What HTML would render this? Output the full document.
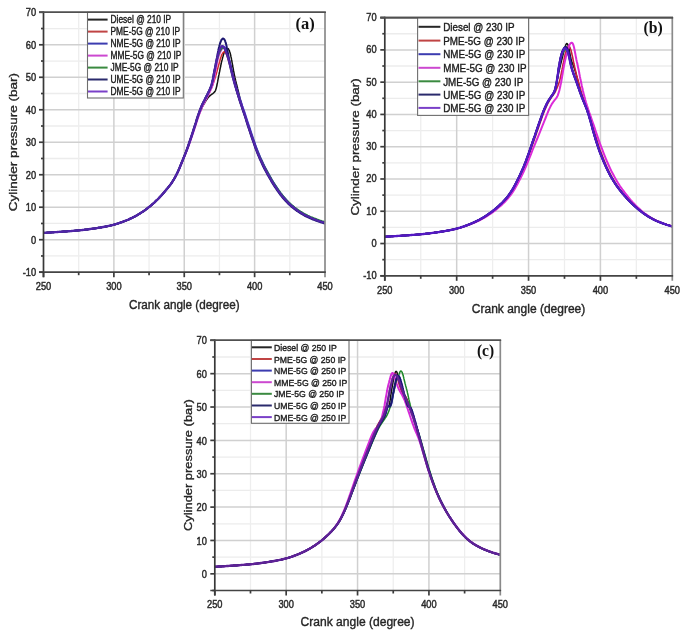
<!DOCTYPE html>
<html><head><meta charset="utf-8"><title>Cylinder pressure vs crank angle</title>
<style>
html,body{margin:0;padding:0;background:#fff;}
body{width:685px;height:634px;overflow:hidden;}
svg{display:block;font-family:"Liberation Sans", sans-serif;filter:blur(0.45px);}
.tk{fill:#2b2b2b;stroke:#2b2b2b;stroke-width:0.5px;}
.tt{fill:#262626;stroke:#262626;stroke-width:0.4px;}
.lg{fill:#1c1c1c;stroke:#1c1c1c;stroke-width:0.4px;}
</style></head>
<body>
<svg width="685" height="634" viewBox="0 0 685 634">
<rect width="685" height="634" fill="#fff"/>
<clipPath id="clipa"><rect x="43.5" y="12.3" width="281.5" height="259.9"/></clipPath>
<line x1="43.5" y1="255.96" x2="325" y2="255.96" stroke="#ececec" stroke-width="1.3"/>
<line x1="43.5" y1="223.47" x2="325" y2="223.47" stroke="#ececec" stroke-width="1.3"/>
<line x1="43.5" y1="190.98" x2="325" y2="190.98" stroke="#ececec" stroke-width="1.3"/>
<line x1="43.5" y1="158.49" x2="325" y2="158.49" stroke="#ececec" stroke-width="1.3"/>
<line x1="43.5" y1="126.01" x2="325" y2="126.01" stroke="#ececec" stroke-width="1.3"/>
<line x1="43.5" y1="93.52" x2="325" y2="93.52" stroke="#ececec" stroke-width="1.3"/>
<line x1="43.5" y1="61.03" x2="325" y2="61.03" stroke="#ececec" stroke-width="1.3"/>
<line x1="43.5" y1="28.54" x2="325" y2="28.54" stroke="#ececec" stroke-width="1.3"/>
<line x1="78.69" y1="12.3" x2="78.69" y2="272.2" stroke="#eeeeee" stroke-width="1.3"/>
<line x1="149.06" y1="12.3" x2="149.06" y2="272.2" stroke="#eeeeee" stroke-width="1.3"/>
<line x1="219.44" y1="12.3" x2="219.44" y2="272.2" stroke="#eeeeee" stroke-width="1.3"/>
<line x1="289.81" y1="12.3" x2="289.81" y2="272.2" stroke="#eeeeee" stroke-width="1.3"/>
<line x1="43.5" y1="239.71" x2="325" y2="239.71" stroke="#d0d0d0" stroke-width="1.5"/>
<line x1="43.5" y1="207.22" x2="325" y2="207.22" stroke="#d0d0d0" stroke-width="1.5"/>
<line x1="43.5" y1="174.74" x2="325" y2="174.74" stroke="#d0d0d0" stroke-width="1.5"/>
<line x1="43.5" y1="142.25" x2="325" y2="142.25" stroke="#d0d0d0" stroke-width="1.5"/>
<line x1="43.5" y1="109.76" x2="325" y2="109.76" stroke="#d0d0d0" stroke-width="1.5"/>
<line x1="43.5" y1="77.28" x2="325" y2="77.28" stroke="#d0d0d0" stroke-width="1.5"/>
<line x1="43.5" y1="44.79" x2="325" y2="44.79" stroke="#d0d0d0" stroke-width="1.5"/>
<line x1="113.88" y1="12.3" x2="113.88" y2="272.2" stroke="#d0d0d0" stroke-width="1.5"/>
<line x1="184.25" y1="12.3" x2="184.25" y2="272.2" stroke="#d0d0d0" stroke-width="1.5"/>
<line x1="254.62" y1="12.3" x2="254.62" y2="272.2" stroke="#d0d0d0" stroke-width="1.5"/>
<g clip-path="url(#clipa)" fill="none" stroke-linejoin="round" stroke-linecap="round">
<path d="M43.5 232.9 L44.6 232.8 L45.7 232.8 L46.8 232.7 L47.8 232.6 L48.9 232.6 L50.0 232.5 L51.1 232.4 L52.2 232.3 L53.3 232.3 L54.4 232.2 L55.5 232.1 L56.5 232.1 L57.6 232.0 L58.7 231.9 L59.8 231.8 L60.9 231.8 L62.0 231.7 L63.1 231.6 L64.2 231.5 L65.2 231.5 L66.3 231.4 L67.4 231.3 L68.5 231.2 L69.6 231.2 L70.7 231.1 L71.8 231.0 L72.8 230.9 L73.9 230.8 L75.0 230.7 L76.1 230.6 L77.2 230.5 L78.3 230.4 L79.4 230.3 L80.5 230.2 L81.5 230.1 L82.6 230.0 L83.7 229.9 L84.8 229.7 L85.9 229.6 L87.0 229.5 L88.1 229.3 L89.1 229.2 L90.2 229.0 L91.3 228.9 L92.4 228.7 L93.5 228.6 L94.6 228.4 L95.7 228.3 L96.8 228.1 L97.8 227.9 L98.9 227.7 L100.0 227.6 L101.1 227.4 L102.2 227.2 L103.3 227.0 L104.4 226.8 L105.5 226.6 L106.5 226.4 L107.6 226.2 L108.7 225.9 L109.8 225.7 L110.9 225.4 L112.0 225.2 L113.1 224.9 L114.1 224.6 L115.2 224.3 L116.3 224.0 L117.4 223.6 L118.5 223.3 L119.6 222.9 L120.7 222.5 L121.8 222.2 L122.8 221.8 L123.9 221.3 L125.0 220.9 L126.1 220.5 L127.2 220.0 L128.3 219.6 L129.4 219.1 L130.4 218.6 L131.5 218.1 L132.6 217.6 L133.7 217.0 L134.8 216.5 L135.9 215.9 L137.0 215.3 L138.1 214.6 L139.1 214.0 L140.2 213.3 L141.3 212.6 L142.4 211.9 L143.5 211.2 L144.6 210.4 L145.7 209.6 L146.8 208.8 L147.8 208.0 L148.9 207.1 L150.0 206.3 L151.1 205.4 L152.2 204.4 L153.3 203.5 L154.4 202.5 L155.4 201.5 L156.5 200.4 L157.6 199.4 L158.7 198.3 L159.8 197.1 L160.9 196.0 L162.0 194.8 L163.1 193.5 L164.1 192.3 L165.2 191.0 L166.3 189.7 L167.4 188.4 L168.5 187.0 L169.6 185.6 L170.7 184.2 L171.8 182.7 L172.8 181.0 L173.9 179.3 L175.0 177.4 L176.1 175.3 L177.2 173.1 L178.3 170.7 L179.4 168.2 L180.4 165.7 L181.5 163.0 L182.6 160.3 L183.7 157.6 L184.8 154.9 L185.9 152.1 L187.0 149.3 L188.1 146.3 L189.1 143.4 L190.2 140.3 L191.3 137.2 L192.4 134.0 L193.5 130.8 L194.6 127.6 L195.7 124.4 L196.7 121.2 L197.8 118.1 L198.9 115.1 L200.0 112.3 L201.1 109.7 L201.1 109.6 L201.5 108.8 L201.8 108.1 L202.2 107.4 L202.2 107.3 L202.5 106.6 L202.9 105.9 L203.3 105.3 L203.3 105.2 L203.6 104.6 L204.0 104.0 L204.3 103.4 L204.4 103.3 L204.7 102.8 L205.0 102.2 L205.4 101.6 L205.4 101.5 L205.7 101.1 L206.1 100.5 L206.4 100.0 L206.5 99.8 L206.8 99.5 L207.1 99.0 L207.5 98.5 L207.6 98.3 L207.8 98.0 L208.2 97.5 L208.5 97.1 L208.7 96.9 L208.9 96.7 L209.2 96.4 L209.6 96.0 L209.8 95.9 L209.9 95.7 L210.3 95.5 L210.6 95.2 L210.9 95.0 L211.0 94.9 L211.3 94.7 L211.7 94.4 L212.0 94.2 L212.0 94.1 L212.4 93.8 L212.8 93.6 L213.1 93.3 L213.1 93.3 L213.5 93.0 L213.8 92.7 L214.1 92.4 L214.2 92.4 L214.5 92.0 L214.9 91.6 L215.2 91.0 L215.2 91.0 L215.6 90.3 L215.9 89.3 L216.3 88.1 L216.3 87.9 L216.6 86.7 L217.0 85.0 L217.3 83.2 L217.4 82.9 L217.7 81.4 L218.0 79.6 L218.4 77.7 L218.5 77.2 L218.7 75.9 L219.1 74.2 L219.4 72.4 L219.6 71.7 L219.8 70.6 L220.1 68.9 L220.5 67.1 L220.7 66.3 L220.8 65.4 L221.2 63.8 L221.5 62.2 L221.7 61.3 L221.9 60.6 L222.3 59.2 L222.6 57.8 L222.8 57.0 L223.0 56.5 L223.3 55.3 L223.7 54.1 L223.9 53.3 L224.0 53.0 L224.4 52.1 L224.7 51.2 L225.0 50.7 L225.1 50.5 L225.4 50.0 L225.8 49.5 L226.1 49.1 L226.1 49.1 L226.5 48.8 L226.8 48.5 L227.2 48.4 L227.2 48.4 L227.5 48.4 L227.9 48.5 L228.2 48.8 L228.3 48.8 L228.6 49.2 L228.9 49.9 L229.3 50.6 L229.4 50.8 L229.6 51.5 L230.0 52.6 L230.3 53.8 L230.4 54.2 L230.7 55.3 L231.0 56.9 L231.4 58.7 L231.5 59.4 L231.8 60.7 L232.1 62.6 L232.5 64.6 L232.6 65.5 L232.8 66.6 L233.2 68.5 L233.5 70.4 L233.7 71.4 L233.9 72.3 L234.2 74.1 L234.6 75.8 L234.8 76.8 L234.9 77.4 L235.3 79.0 L235.6 80.5 L235.9 81.6 L236.0 82.0 L236.3 83.4 L236.7 84.8 L237.0 85.9 L237.0 86.2 L237.4 87.5 L237.7 88.9 L238.1 90.2 L238.1 90.3 L238.4 91.8 L238.8 93.2 L239.1 94.6 L239.1 94.6 L239.5 96.1 L239.8 97.5 L240.2 98.9 L240.2 99.0 L240.5 100.3 L240.9 101.7 L241.3 103.0 L241.3 103.3 L241.6 104.4 L242.0 105.7 L242.3 106.9 L242.4 107.2 L242.7 108.1 L243.0 109.4 L243.5 110.9 L244.6 114.4 L245.7 117.8 L246.7 121.1 L247.8 124.5 L248.9 127.8 L250.0 131.2 L251.1 134.4 L252.2 137.7 L253.3 140.9 L254.4 143.9 L255.4 146.9 L256.5 149.8 L257.6 152.6 L258.7 155.2 L259.8 157.8 L260.9 160.2 L262.0 162.6 L263.0 164.8 L264.1 167.0 L265.2 169.1 L266.3 171.2 L267.4 173.2 L268.5 175.2 L269.6 177.1 L270.7 179.0 L271.7 180.8 L272.8 182.6 L273.9 184.4 L275.0 186.1 L276.1 187.7 L277.2 189.3 L278.3 190.9 L279.4 192.4 L280.4 193.8 L281.5 195.2 L282.6 196.6 L283.7 197.9 L284.8 199.1 L285.9 200.3 L287.0 201.5 L288.0 202.6 L289.1 203.6 L290.2 204.6 L291.3 205.6 L292.4 206.5 L293.5 207.4 L294.6 208.3 L295.7 209.1 L296.7 209.9 L297.8 210.7 L298.9 211.4 L300.0 212.1 L301.1 212.8 L302.2 213.4 L303.3 214.1 L304.3 214.7 L305.4 215.2 L306.5 215.8 L307.6 216.3 L308.7 216.8 L309.8 217.3 L310.9 217.8 L312.0 218.3 L313.0 218.7 L314.1 219.2 L315.2 219.6 L316.3 220.0 L317.4 220.4 L318.5 220.8 L319.6 221.1 L320.7 221.5 L321.7 221.8 L322.8 222.2 L323.9 222.5 L325.0 222.8" stroke="#111111" stroke-width="1.5"/>
<path d="M43.5 232.9 L44.6 232.8 L45.7 232.8 L46.8 232.7 L47.8 232.6 L48.9 232.6 L50.0 232.5 L51.1 232.4 L52.2 232.3 L53.3 232.3 L54.4 232.2 L55.5 232.1 L56.5 232.1 L57.6 232.0 L58.7 231.9 L59.8 231.8 L60.9 231.8 L62.0 231.7 L63.1 231.6 L64.2 231.5 L65.2 231.5 L66.3 231.4 L67.4 231.3 L68.5 231.2 L69.6 231.2 L70.7 231.1 L71.8 231.0 L72.8 230.9 L73.9 230.8 L75.0 230.7 L76.1 230.6 L77.2 230.5 L78.3 230.4 L79.4 230.3 L80.5 230.2 L81.5 230.1 L82.6 230.0 L83.7 229.9 L84.8 229.7 L85.9 229.6 L87.0 229.5 L88.1 229.3 L89.1 229.2 L90.2 229.0 L91.3 228.9 L92.4 228.7 L93.5 228.6 L94.6 228.4 L95.7 228.3 L96.8 228.1 L97.8 227.9 L98.9 227.7 L100.0 227.6 L101.1 227.4 L102.2 227.2 L103.3 227.0 L104.4 226.8 L105.5 226.6 L106.5 226.4 L107.6 226.2 L108.7 225.9 L109.8 225.7 L110.9 225.4 L112.0 225.2 L113.1 224.9 L114.1 224.6 L115.2 224.3 L116.3 224.0 L117.4 223.6 L118.5 223.3 L119.6 222.9 L120.7 222.5 L121.8 222.2 L122.8 221.8 L123.9 221.3 L125.0 220.9 L126.1 220.5 L127.2 220.0 L128.3 219.6 L129.4 219.1 L130.4 218.6 L131.5 218.1 L132.6 217.6 L133.7 217.0 L134.8 216.5 L135.9 215.9 L137.0 215.3 L138.1 214.6 L139.1 214.0 L140.2 213.3 L141.3 212.6 L142.4 211.9 L143.5 211.2 L144.6 210.4 L145.7 209.6 L146.8 208.8 L147.8 208.0 L148.9 207.1 L150.0 206.3 L151.1 205.4 L152.2 204.4 L153.3 203.5 L154.4 202.5 L155.4 201.5 L156.5 200.4 L157.6 199.4 L158.7 198.3 L159.8 197.1 L160.9 196.0 L162.0 194.8 L163.1 193.5 L164.1 192.3 L165.2 191.0 L166.3 189.7 L167.4 188.4 L168.5 187.0 L169.6 185.6 L170.7 184.2 L171.8 182.7 L172.8 181.0 L173.9 179.3 L175.0 177.4 L176.1 175.3 L177.2 173.1 L178.3 170.7 L179.4 168.2 L180.4 165.7 L181.5 163.0 L182.6 160.4 L183.7 157.6 L184.8 154.9 L185.9 152.1 L187.0 149.2 L188.1 146.2 L189.1 143.1 L190.2 139.9 L191.3 136.7 L192.4 133.3 L193.5 129.9 L194.6 126.6 L195.7 123.2 L196.7 119.9 L197.8 116.6 L198.9 113.6 L200.0 110.7 L201.1 108.1 L201.1 108.0 L201.5 107.2 L201.8 106.5 L202.2 105.8 L202.2 105.7 L202.5 105.0 L202.9 104.3 L203.3 103.7 L203.3 103.6 L203.6 103.0 L204.0 102.4 L204.3 101.7 L204.4 101.6 L204.7 101.1 L205.0 100.5 L205.4 99.8 L205.4 99.7 L205.7 99.2 L206.1 98.6 L206.4 98.0 L206.5 97.8 L206.8 97.4 L207.1 96.7 L207.5 96.1 L207.6 95.9 L207.8 95.5 L208.2 94.8 L208.5 94.2 L208.7 93.8 L208.9 93.5 L209.2 92.8 L209.6 92.1 L209.8 91.7 L209.9 91.4 L210.3 90.6 L210.6 89.8 L210.9 89.3 L211.0 89.1 L211.3 88.2 L211.7 87.4 L212.0 86.8 L212.0 86.5 L212.4 85.7 L212.8 84.7 L213.1 83.9 L213.1 83.8 L213.5 82.8 L213.8 81.8 L214.1 80.8 L214.2 80.8 L214.5 79.7 L214.9 78.6 L215.2 77.5 L215.2 77.4 L215.6 76.3 L215.9 75.1 L216.3 73.9 L216.3 73.8 L216.6 72.7 L217.0 71.4 L217.3 70.1 L217.4 69.8 L217.7 68.8 L218.0 67.4 L218.4 66.1 L218.5 65.8 L218.7 64.9 L219.1 63.6 L219.4 62.3 L219.6 61.8 L219.8 61.1 L220.1 59.8 L220.5 58.6 L220.7 58.0 L220.8 57.4 L221.2 56.3 L221.5 55.4 L221.7 54.9 L221.9 54.5 L222.3 53.8 L222.6 53.2 L222.8 52.9 L223.0 52.8 L223.3 52.4 L223.7 52.1 L223.9 52.0 L224.0 52.0 L224.4 51.9 L224.7 52.0 L225.0 52.2 L225.1 52.3 L225.4 52.7 L225.8 53.2 L226.1 53.7 L226.1 53.7 L226.5 54.4 L226.8 55.3 L227.2 56.2 L227.2 56.2 L227.5 57.2 L227.9 58.4 L228.2 59.6 L228.3 59.7 L228.6 60.8 L228.9 62.0 L229.3 63.2 L229.4 63.4 L229.6 64.3 L230.0 65.4 L230.3 66.5 L230.4 66.8 L230.7 67.6 L231.0 68.6 L231.4 69.6 L231.5 70.0 L231.8 70.7 L232.1 71.8 L232.5 72.9 L232.6 73.4 L232.8 74.0 L233.2 75.2 L233.5 76.4 L233.7 77.1 L233.9 77.7 L234.2 79.1 L234.6 80.5 L234.8 81.4 L234.9 82.0 L235.3 83.5 L235.6 85.1 L235.9 86.2 L236.0 86.7 L236.3 88.2 L236.7 89.7 L237.0 90.8 L237.0 91.1 L237.4 92.4 L237.7 93.7 L238.1 94.8 L238.1 95.0 L238.4 96.1 L238.8 97.3 L239.1 98.4 L239.1 98.4 L239.5 99.5 L239.8 100.6 L240.2 101.7 L240.2 101.7 L240.5 102.7 L240.9 103.8 L241.3 104.8 L241.3 105.0 L241.6 105.8 L242.0 106.9 L242.3 107.9 L242.4 108.2 L242.7 109.0 L243.0 110.0 L243.5 111.4 L244.6 114.6 L245.7 117.8 L246.7 121.1 L247.8 124.4 L248.9 127.8 L250.0 131.1 L251.1 134.4 L252.2 137.7 L253.3 140.8 L254.4 143.9 L255.4 146.9 L256.5 149.8 L257.6 152.6 L258.7 155.2 L259.8 157.8 L260.9 160.2 L262.0 162.6 L263.0 164.8 L264.1 167.0 L265.2 169.1 L266.3 171.2 L267.4 173.2 L268.5 175.2 L269.6 177.1 L270.7 179.0 L271.7 180.8 L272.8 182.6 L273.9 184.4 L275.0 186.1 L276.1 187.7 L277.2 189.3 L278.3 190.9 L279.4 192.4 L280.4 193.8 L281.5 195.2 L282.6 196.6 L283.7 197.9 L284.8 199.1 L285.9 200.3 L287.0 201.5 L288.0 202.6 L289.1 203.6 L290.2 204.6 L291.3 205.6 L292.4 206.5 L293.5 207.4 L294.6 208.3 L295.7 209.1 L296.7 209.9 L297.8 210.7 L298.9 211.4 L300.0 212.1 L301.1 212.8 L302.2 213.4 L303.3 214.1 L304.3 214.7 L305.4 215.2 L306.5 215.8 L307.6 216.3 L308.7 216.8 L309.8 217.3 L310.9 217.8 L312.0 218.3 L313.0 218.7 L314.1 219.2 L315.2 219.6 L316.3 220.0 L317.4 220.4 L318.5 220.8 L319.6 221.1 L320.7 221.5 L321.7 221.8 L322.8 222.2 L323.9 222.5 L325.0 222.8" stroke="#d42a2a" stroke-width="1.5"/>
<path d="M43.5 232.9 L44.6 232.8 L45.7 232.8 L46.8 232.7 L47.8 232.6 L48.9 232.6 L50.0 232.5 L51.1 232.4 L52.2 232.3 L53.3 232.3 L54.4 232.2 L55.5 232.1 L56.5 232.1 L57.6 232.0 L58.7 231.9 L59.8 231.8 L60.9 231.8 L62.0 231.7 L63.1 231.6 L64.2 231.5 L65.2 231.5 L66.3 231.4 L67.4 231.3 L68.5 231.2 L69.6 231.2 L70.7 231.1 L71.8 231.0 L72.8 230.9 L73.9 230.8 L75.0 230.7 L76.1 230.6 L77.2 230.5 L78.3 230.4 L79.4 230.3 L80.5 230.2 L81.5 230.1 L82.6 230.0 L83.7 229.9 L84.8 229.7 L85.9 229.6 L87.0 229.5 L88.1 229.3 L89.1 229.2 L90.2 229.0 L91.3 228.9 L92.4 228.7 L93.5 228.6 L94.6 228.4 L95.7 228.3 L96.8 228.1 L97.8 227.9 L98.9 227.7 L100.0 227.6 L101.1 227.4 L102.2 227.2 L103.3 227.0 L104.4 226.8 L105.5 226.6 L106.5 226.4 L107.6 226.2 L108.7 225.9 L109.8 225.7 L110.9 225.4 L112.0 225.2 L113.1 224.9 L114.1 224.6 L115.2 224.3 L116.3 224.0 L117.4 223.6 L118.5 223.3 L119.6 222.9 L120.7 222.5 L121.8 222.2 L122.8 221.8 L123.9 221.3 L125.0 220.9 L126.1 220.5 L127.2 220.0 L128.3 219.6 L129.4 219.1 L130.4 218.6 L131.5 218.1 L132.6 217.6 L133.7 217.0 L134.8 216.5 L135.9 215.9 L137.0 215.3 L138.1 214.6 L139.1 214.0 L140.2 213.3 L141.3 212.6 L142.4 211.9 L143.5 211.2 L144.6 210.4 L145.7 209.6 L146.8 208.8 L147.8 208.0 L148.9 207.1 L150.0 206.3 L151.1 205.4 L152.2 204.4 L153.3 203.5 L154.4 202.5 L155.4 201.5 L156.5 200.4 L157.6 199.4 L158.7 198.3 L159.8 197.1 L160.9 196.0 L162.0 194.8 L163.1 193.5 L164.1 192.3 L165.2 191.0 L166.3 189.7 L167.4 188.4 L168.5 187.1 L169.6 185.7 L170.7 184.2 L171.8 182.7 L172.8 181.1 L173.9 179.4 L175.0 177.5 L176.1 175.5 L177.2 173.3 L178.3 171.0 L179.4 168.6 L180.4 166.0 L181.5 163.4 L182.6 160.8 L183.7 158.1 L184.8 155.4 L185.9 152.7 L187.0 149.9 L188.1 146.9 L189.1 143.9 L190.2 140.8 L191.3 137.6 L192.4 134.3 L193.5 130.9 L194.6 127.5 L195.7 124.1 L196.7 120.7 L197.8 117.4 L198.9 114.2 L200.0 111.1 L201.1 108.3 L201.1 108.2 L201.5 107.3 L201.8 106.5 L202.2 105.7 L202.2 105.7 L202.5 104.9 L202.9 104.2 L203.3 103.4 L203.3 103.4 L203.6 102.7 L204.0 102.0 L204.3 101.3 L204.4 101.2 L204.7 100.6 L205.0 99.9 L205.4 99.3 L205.4 99.1 L205.7 98.6 L206.1 97.9 L206.4 97.2 L206.5 97.0 L206.8 96.5 L207.1 95.8 L207.5 95.1 L207.6 94.9 L207.8 94.4 L208.2 93.7 L208.5 93.0 L208.7 92.7 L208.9 92.3 L209.2 91.6 L209.6 90.9 L209.8 90.4 L209.9 90.1 L210.3 89.4 L210.6 88.6 L210.9 88.1 L211.0 87.8 L211.3 86.9 L211.7 85.9 L212.0 85.1 L212.0 84.8 L212.4 83.6 L212.8 82.2 L213.1 80.9 L213.1 80.6 L213.5 79.0 L213.8 77.2 L214.1 75.5 L214.2 75.4 L214.5 73.6 L214.9 71.7 L215.2 69.8 L215.2 69.8 L215.6 68.0 L215.9 66.1 L216.3 64.3 L216.3 64.1 L216.6 62.6 L217.0 60.9 L217.3 59.4 L217.4 59.1 L217.7 58.0 L218.0 56.6 L218.4 55.3 L218.5 55.0 L218.7 54.1 L219.1 53.0 L219.4 52.0 L219.6 51.6 L219.8 51.1 L220.1 50.3 L220.5 49.6 L220.7 49.4 L220.8 49.1 L221.2 48.6 L221.5 48.1 L221.7 47.9 L221.9 47.7 L222.3 47.4 L222.6 47.1 L222.8 46.9 L223.0 46.8 L223.3 46.7 L223.7 46.7 L223.9 46.7 L224.0 46.8 L224.4 47.0 L224.7 47.4 L225.0 47.8 L225.1 47.9 L225.4 48.5 L225.8 49.2 L226.1 49.9 L226.1 50.0 L226.5 50.9 L226.8 51.9 L227.2 52.9 L227.2 52.9 L227.5 54.1 L227.9 55.3 L228.2 56.5 L228.3 56.7 L228.6 57.8 L228.9 58.9 L229.3 60.1 L229.4 60.3 L229.6 61.3 L230.0 62.5 L230.3 63.8 L230.4 64.2 L230.7 65.2 L231.0 66.7 L231.4 68.3 L231.5 68.8 L231.8 69.8 L232.1 71.4 L232.5 73.0 L232.6 73.7 L232.8 74.5 L233.2 75.9 L233.5 77.3 L233.7 78.1 L233.9 78.7 L234.2 80.0 L234.6 81.3 L234.8 82.0 L234.9 82.5 L235.3 83.7 L235.6 84.9 L235.9 85.7 L236.0 86.1 L236.3 87.2 L236.7 88.4 L237.0 89.3 L237.0 89.5 L237.4 90.6 L237.7 91.8 L238.1 92.8 L238.1 92.9 L238.4 94.0 L238.8 95.1 L239.1 96.2 L239.1 96.2 L239.5 97.3 L239.8 98.3 L240.2 99.4 L240.2 99.5 L240.5 100.5 L240.9 101.5 L241.3 102.6 L241.3 102.8 L241.6 103.6 L242.0 104.7 L242.3 105.7 L242.4 106.0 L242.7 106.8 L243.0 107.8 L243.5 109.2 L244.6 112.4 L245.7 115.7 L246.7 118.9 L247.8 122.2 L248.9 125.6 L250.0 128.9 L251.1 132.2 L252.2 135.5 L253.3 138.7 L254.4 141.8 L255.4 144.9 L256.5 147.8 L257.6 150.7 L258.7 153.4 L259.8 156.0 L260.9 158.5 L262.0 160.9 L263.0 163.2 L264.1 165.5 L265.2 167.6 L266.3 169.7 L267.4 171.7 L268.5 173.7 L269.6 175.7 L270.7 177.6 L271.7 179.5 L272.8 181.3 L273.9 183.1 L275.0 184.8 L276.1 186.5 L277.2 188.1 L278.3 189.7 L279.4 191.2 L280.4 192.7 L281.5 194.1 L282.6 195.5 L283.7 196.9 L284.8 198.1 L285.9 199.4 L287.0 200.6 L288.0 201.7 L289.1 202.8 L290.2 203.9 L291.3 204.9 L292.4 205.8 L293.5 206.7 L294.6 207.6 L295.7 208.5 L296.7 209.3 L297.8 210.1 L298.9 210.8 L300.0 211.6 L301.1 212.3 L302.2 212.9 L303.3 213.6 L304.3 214.2 L305.4 214.8 L306.5 215.4 L307.6 215.9 L308.7 216.4 L309.8 217.0 L310.9 217.5 L312.0 217.9 L313.0 218.4 L314.1 218.8 L315.2 219.3 L316.3 219.7 L317.4 220.1 L318.5 220.5 L319.6 220.8 L320.7 221.2 L321.7 221.6 L322.8 221.9 L323.9 222.2 L325.0 222.6" stroke="#2a2ae0" stroke-width="1.8"/>
<path d="M43.5 232.9 L44.6 232.8 L45.7 232.8 L46.8 232.7 L47.8 232.6 L48.9 232.6 L50.0 232.5 L51.1 232.4 L52.2 232.3 L53.3 232.3 L54.4 232.2 L55.5 232.1 L56.5 232.1 L57.6 232.0 L58.7 231.9 L59.8 231.8 L60.9 231.8 L62.0 231.7 L63.1 231.6 L64.2 231.5 L65.2 231.5 L66.3 231.4 L67.4 231.3 L68.5 231.2 L69.6 231.2 L70.7 231.1 L71.8 231.0 L72.8 230.9 L73.9 230.8 L75.0 230.7 L76.1 230.6 L77.2 230.5 L78.3 230.4 L79.4 230.3 L80.5 230.2 L81.5 230.1 L82.6 230.0 L83.7 229.9 L84.8 229.7 L85.9 229.6 L87.0 229.5 L88.1 229.3 L89.1 229.2 L90.2 229.0 L91.3 228.9 L92.4 228.7 L93.5 228.6 L94.6 228.4 L95.7 228.3 L96.8 228.1 L97.8 227.9 L98.9 227.7 L100.0 227.6 L101.1 227.4 L102.2 227.2 L103.3 227.0 L104.4 226.8 L105.5 226.6 L106.5 226.4 L107.6 226.2 L108.7 225.9 L109.8 225.7 L110.9 225.4 L112.0 225.2 L113.1 224.9 L114.1 224.6 L115.2 224.3 L116.3 224.0 L117.4 223.6 L118.5 223.3 L119.6 222.9 L120.7 222.5 L121.8 222.2 L122.8 221.8 L123.9 221.3 L125.0 220.9 L126.1 220.5 L127.2 220.0 L128.3 219.6 L129.4 219.1 L130.4 218.6 L131.5 218.1 L132.6 217.6 L133.7 217.0 L134.8 216.5 L135.9 215.9 L137.0 215.3 L138.1 214.6 L139.1 214.0 L140.2 213.3 L141.3 212.6 L142.4 211.9 L143.5 211.2 L144.6 210.4 L145.7 209.6 L146.8 208.8 L147.8 208.0 L148.9 207.1 L150.0 206.3 L151.1 205.4 L152.2 204.4 L153.3 203.5 L154.4 202.5 L155.4 201.5 L156.5 200.4 L157.6 199.4 L158.7 198.3 L159.8 197.1 L160.9 196.0 L162.0 194.8 L163.1 193.5 L164.1 192.3 L165.2 191.0 L166.3 189.7 L167.4 188.4 L168.5 187.1 L169.6 185.7 L170.7 184.3 L171.8 182.8 L172.8 181.2 L173.9 179.5 L175.0 177.6 L176.1 175.7 L177.2 173.5 L178.3 171.2 L179.4 168.8 L180.4 166.3 L181.5 163.8 L182.6 161.2 L183.7 158.5 L184.8 155.9 L185.9 153.2 L187.0 150.4 L188.1 147.5 L189.1 144.6 L190.2 141.6 L191.3 138.4 L192.4 135.2 L193.5 131.9 L194.6 128.6 L195.7 125.3 L196.7 122.0 L197.8 118.7 L198.9 115.5 L200.0 112.5 L201.1 109.7 L201.1 109.5 L201.5 108.7 L201.8 107.9 L202.2 107.1 L202.2 107.0 L202.5 106.3 L202.9 105.5 L203.3 104.8 L203.3 104.7 L203.6 104.1 L204.0 103.4 L204.3 102.7 L204.4 102.6 L204.7 102.0 L205.0 101.3 L205.4 100.7 L205.4 100.5 L205.7 100.0 L206.1 99.3 L206.4 98.7 L206.5 98.5 L206.8 98.0 L207.1 97.3 L207.5 96.6 L207.6 96.3 L207.8 95.9 L208.2 95.2 L208.5 94.5 L208.7 94.2 L208.9 93.8 L209.2 93.1 L209.6 92.4 L209.8 92.0 L209.9 91.6 L210.3 90.9 L210.6 90.2 L210.9 89.6 L211.0 89.4 L211.3 88.6 L211.7 87.8 L212.0 87.1 L212.0 86.8 L212.4 85.8 L212.8 84.7 L213.1 83.6 L213.1 83.4 L213.5 81.9 L213.8 80.3 L214.1 78.7 L214.2 78.6 L214.5 76.8 L214.9 75.0 L215.2 73.1 L215.2 73.0 L215.6 71.2 L215.9 69.3 L216.3 67.3 L216.3 67.1 L216.6 65.4 L217.0 63.5 L217.3 61.7 L217.4 61.4 L217.7 60.1 L218.0 58.6 L218.4 57.2 L218.5 56.9 L218.7 56.1 L219.1 55.1 L219.4 54.2 L219.6 53.9 L219.8 53.4 L220.1 52.6 L220.5 51.9 L220.7 51.5 L220.8 51.1 L221.2 50.4 L221.5 49.7 L221.7 49.4 L221.9 49.1 L222.3 48.6 L222.6 48.2 L222.8 48.0 L223.0 47.9 L223.3 47.7 L223.7 47.8 L223.9 47.9 L224.0 48.0 L224.4 48.3 L224.7 48.7 L225.0 49.1 L225.1 49.2 L225.4 49.9 L225.8 50.6 L226.1 51.3 L226.1 51.4 L226.5 52.3 L226.8 53.3 L227.2 54.3 L227.2 54.3 L227.5 55.4 L227.9 56.5 L228.2 57.6 L228.3 57.7 L228.6 58.8 L228.9 60.0 L229.3 61.3 L229.4 61.5 L229.6 62.6 L230.0 64.1 L230.3 65.6 L230.4 66.0 L230.7 67.1 L231.0 68.7 L231.4 70.2 L231.5 70.8 L231.8 71.8 L232.1 73.3 L232.5 74.8 L232.6 75.5 L232.8 76.3 L233.2 77.7 L233.5 79.0 L233.7 79.7 L233.9 80.3 L234.2 81.6 L234.6 82.9 L234.8 83.6 L234.9 84.1 L235.3 85.3 L235.6 86.5 L235.9 87.3 L236.0 87.7 L236.3 88.8 L236.7 90.0 L237.0 90.9 L237.0 91.1 L237.4 92.3 L237.7 93.4 L238.1 94.4 L238.1 94.5 L238.4 95.6 L238.8 96.7 L239.1 97.8 L239.1 97.8 L239.5 98.9 L239.8 100.0 L240.2 101.1 L240.2 101.2 L240.5 102.1 L240.9 103.2 L241.3 104.3 L241.3 104.5 L241.6 105.4 L242.0 106.4 L242.3 107.5 L242.4 107.7 L242.7 108.5 L243.0 109.6 L243.5 111.0 L244.6 114.3 L245.7 117.5 L246.7 120.9 L247.8 124.2 L248.9 127.6 L250.0 131.0 L251.1 134.3 L252.2 137.6 L253.3 140.8 L254.4 143.9 L255.4 146.9 L256.5 149.8 L257.6 152.6 L258.7 155.2 L259.8 157.8 L260.9 160.2 L262.0 162.6 L263.0 164.8 L264.1 167.0 L265.2 169.1 L266.3 171.2 L267.4 173.2 L268.5 175.2 L269.6 177.1 L270.7 179.0 L271.7 180.8 L272.8 182.6 L273.9 184.4 L275.0 186.1 L276.1 187.7 L277.2 189.3 L278.3 190.9 L279.4 192.4 L280.4 193.8 L281.5 195.2 L282.6 196.6 L283.7 197.9 L284.8 199.1 L285.9 200.3 L287.0 201.5 L288.0 202.6 L289.1 203.6 L290.2 204.6 L291.3 205.6 L292.4 206.5 L293.5 207.4 L294.6 208.3 L295.7 209.1 L296.7 209.9 L297.8 210.7 L298.9 211.4 L300.0 212.1 L301.1 212.8 L302.2 213.4 L303.3 214.1 L304.3 214.7 L305.4 215.2 L306.5 215.8 L307.6 216.3 L308.7 216.8 L309.8 217.3 L310.9 217.8 L312.0 218.3 L313.0 218.7 L314.1 219.2 L315.2 219.6 L316.3 220.0 L317.4 220.4 L318.5 220.8 L319.6 221.1 L320.7 221.5 L321.7 221.8 L322.8 222.2 L323.9 222.5 L325.0 222.8" stroke="#e040d8" stroke-width="1.8"/>
<path d="M43.5 232.9 L44.6 232.8 L45.7 232.8 L46.8 232.7 L47.8 232.6 L48.9 232.6 L50.0 232.5 L51.1 232.4 L52.2 232.3 L53.3 232.3 L54.4 232.2 L55.5 232.1 L56.5 232.1 L57.6 232.0 L58.7 231.9 L59.8 231.8 L60.9 231.8 L62.0 231.7 L63.1 231.6 L64.2 231.5 L65.2 231.5 L66.3 231.4 L67.4 231.3 L68.5 231.2 L69.6 231.2 L70.7 231.1 L71.8 231.0 L72.8 230.9 L73.9 230.8 L75.0 230.7 L76.1 230.6 L77.2 230.5 L78.3 230.4 L79.4 230.3 L80.5 230.2 L81.5 230.1 L82.6 230.0 L83.7 229.9 L84.8 229.7 L85.9 229.6 L87.0 229.5 L88.1 229.3 L89.1 229.2 L90.2 229.0 L91.3 228.9 L92.4 228.7 L93.5 228.6 L94.6 228.4 L95.7 228.3 L96.8 228.1 L97.8 227.9 L98.9 227.7 L100.0 227.6 L101.1 227.4 L102.2 227.2 L103.3 227.0 L104.4 226.8 L105.5 226.6 L106.5 226.4 L107.6 226.2 L108.7 225.9 L109.8 225.7 L110.9 225.4 L112.0 225.2 L113.1 224.9 L114.1 224.6 L115.2 224.3 L116.3 224.0 L117.4 223.6 L118.5 223.3 L119.6 222.9 L120.7 222.5 L121.8 222.2 L122.8 221.8 L123.9 221.3 L125.0 220.9 L126.1 220.5 L127.2 220.0 L128.3 219.6 L129.4 219.1 L130.4 218.6 L131.5 218.1 L132.6 217.6 L133.7 217.0 L134.8 216.5 L135.9 215.9 L137.0 215.3 L138.1 214.6 L139.1 214.0 L140.2 213.3 L141.3 212.6 L142.4 211.9 L143.5 211.2 L144.6 210.4 L145.7 209.6 L146.8 208.8 L147.8 208.0 L148.9 207.1 L150.0 206.3 L151.1 205.4 L152.2 204.4 L153.3 203.5 L154.4 202.5 L155.4 201.5 L156.5 200.4 L157.6 199.4 L158.7 198.3 L159.8 197.1 L160.9 196.0 L162.0 194.8 L163.1 193.5 L164.1 192.3 L165.2 191.0 L166.3 189.7 L167.4 188.4 L168.5 187.0 L169.6 185.6 L170.7 184.2 L171.8 182.7 L172.8 181.0 L173.9 179.3 L175.0 177.4 L176.1 175.3 L177.2 173.1 L178.3 170.7 L179.4 168.2 L180.4 165.7 L181.5 163.0 L182.6 160.4 L183.7 157.6 L184.8 154.9 L185.9 152.1 L187.0 149.2 L188.1 146.2 L189.1 143.1 L190.2 139.9 L191.3 136.6 L192.4 133.3 L193.5 129.8 L194.6 126.4 L195.7 123.0 L196.7 119.6 L197.8 116.2 L198.9 113.0 L200.0 110.0 L201.1 107.3 L201.1 107.2 L201.5 106.3 L201.8 105.5 L202.2 104.8 L202.2 104.7 L202.5 104.0 L202.9 103.2 L203.3 102.5 L203.3 102.5 L203.6 101.8 L204.0 101.1 L204.3 100.4 L204.4 100.3 L204.7 99.7 L205.0 99.0 L205.4 98.3 L205.4 98.2 L205.7 97.7 L206.1 97.0 L206.4 96.3 L206.5 96.0 L206.8 95.6 L207.1 94.9 L207.5 94.2 L207.6 93.9 L207.8 93.5 L208.2 92.7 L208.5 92.0 L208.7 91.7 L208.9 91.3 L209.2 90.6 L209.6 89.8 L209.8 89.4 L209.9 89.1 L210.3 88.3 L210.6 87.4 L210.9 86.8 L211.0 86.5 L211.3 85.4 L211.7 84.2 L212.0 83.2 L212.0 82.9 L212.4 81.4 L212.8 79.8 L213.1 78.3 L213.1 78.1 L213.5 76.3 L213.8 74.4 L214.1 72.7 L214.2 72.6 L214.5 70.9 L214.9 69.1 L215.2 67.4 L215.2 67.4 L215.6 65.7 L215.9 64.2 L216.3 62.6 L216.3 62.5 L216.6 61.2 L217.0 59.8 L217.3 58.6 L217.4 58.3 L217.7 57.3 L218.0 56.1 L218.4 55.0 L218.5 54.7 L218.7 54.0 L219.1 53.1 L219.4 52.2 L219.6 51.9 L219.8 51.5 L220.1 50.8 L220.5 50.2 L220.7 49.9 L220.8 49.7 L221.2 49.2 L221.5 48.8 L221.7 48.5 L221.9 48.4 L222.3 48.1 L222.6 47.8 L222.8 47.7 L223.0 47.7 L223.3 47.7 L223.7 47.8 L223.9 47.9 L224.0 48.0 L224.4 48.4 L224.7 48.9 L225.0 49.3 L225.1 49.4 L225.4 50.1 L225.8 50.8 L226.1 51.5 L226.1 51.6 L226.5 52.4 L226.8 53.4 L227.2 54.4 L227.2 54.4 L227.5 55.5 L227.9 56.7 L228.2 58.0 L228.3 58.1 L228.6 59.4 L228.9 60.8 L229.3 62.4 L229.4 62.6 L229.6 63.9 L230.0 65.5 L230.3 67.0 L230.4 67.4 L230.7 68.5 L231.0 70.1 L231.4 71.6 L231.5 72.1 L231.8 73.0 L232.1 74.4 L232.5 75.8 L232.6 76.5 L232.8 77.2 L233.2 78.5 L233.5 79.8 L233.7 80.5 L233.9 81.1 L234.2 82.3 L234.6 83.6 L234.8 84.3 L234.9 84.8 L235.3 86.0 L235.6 87.1 L235.9 88.0 L236.0 88.3 L236.3 89.4 L236.7 90.6 L237.0 91.5 L237.0 91.7 L237.4 92.8 L237.7 93.9 L238.1 94.9 L238.1 95.0 L238.4 96.1 L238.8 97.2 L239.1 98.3 L239.1 98.3 L239.5 99.4 L239.8 100.5 L240.2 101.5 L240.2 101.6 L240.5 102.6 L240.9 103.6 L241.3 104.7 L241.3 104.9 L241.6 105.7 L242.0 106.8 L242.3 107.8 L242.4 108.1 L242.7 108.9 L243.0 109.9 L243.5 111.3 L244.6 114.5 L245.7 117.8 L246.7 121.0 L247.8 124.3 L248.9 127.6 L250.0 130.9 L251.1 134.1 L252.2 137.2 L253.3 140.3 L254.4 143.4 L255.4 146.3 L256.5 149.1 L257.6 151.8 L258.7 154.4 L259.8 156.9 L260.9 159.2 L262.0 161.5 L263.0 163.7 L264.1 165.9 L265.2 168.0 L266.3 170.0 L267.4 172.0 L268.5 174.0 L269.6 175.9 L270.7 177.8 L271.7 179.6 L272.8 181.4 L273.9 183.2 L275.0 184.9 L276.1 186.6 L277.2 188.2 L278.3 189.7 L279.4 191.2 L280.4 192.7 L281.5 194.1 L282.6 195.5 L283.7 196.8 L284.8 198.1 L285.9 199.3 L287.0 200.5 L288.0 201.6 L289.1 202.6 L290.2 203.7 L291.3 204.7 L292.4 205.6 L293.5 206.5 L294.6 207.4 L295.7 208.2 L296.7 209.0 L297.8 209.8 L298.9 210.5 L300.0 211.2 L301.1 211.9 L302.2 212.5 L303.3 213.2 L304.3 213.8 L305.4 214.4 L306.5 214.9 L307.6 215.5 L308.7 216.0 L309.8 216.5 L310.9 217.0 L312.0 217.4 L313.0 217.9 L314.1 218.3 L315.2 218.7 L316.3 219.1 L317.4 219.5 L318.5 219.9 L319.6 220.3 L320.7 220.6 L321.7 221.0 L322.8 221.3 L323.9 221.6 L325.0 222.0" stroke="#1e8a2a" stroke-width="1.8"/>
<path d="M43.5 232.9 L44.6 232.8 L45.7 232.8 L46.8 232.7 L47.8 232.6 L48.9 232.6 L50.0 232.5 L51.1 232.4 L52.2 232.3 L53.3 232.3 L54.4 232.2 L55.5 232.1 L56.5 232.1 L57.6 232.0 L58.7 231.9 L59.8 231.8 L60.9 231.8 L62.0 231.7 L63.1 231.6 L64.2 231.5 L65.2 231.5 L66.3 231.4 L67.4 231.3 L68.5 231.2 L69.6 231.2 L70.7 231.1 L71.8 231.0 L72.8 230.9 L73.9 230.8 L75.0 230.7 L76.1 230.6 L77.2 230.5 L78.3 230.4 L79.4 230.3 L80.5 230.2 L81.5 230.1 L82.6 230.0 L83.7 229.9 L84.8 229.7 L85.9 229.6 L87.0 229.5 L88.1 229.3 L89.1 229.2 L90.2 229.0 L91.3 228.9 L92.4 228.7 L93.5 228.6 L94.6 228.4 L95.7 228.3 L96.8 228.1 L97.8 227.9 L98.9 227.7 L100.0 227.6 L101.1 227.4 L102.2 227.2 L103.3 227.0 L104.4 226.8 L105.5 226.6 L106.5 226.4 L107.6 226.2 L108.7 225.9 L109.8 225.7 L110.9 225.4 L112.0 225.2 L113.1 224.9 L114.1 224.6 L115.2 224.3 L116.3 224.0 L117.4 223.6 L118.5 223.3 L119.6 222.9 L120.7 222.5 L121.8 222.2 L122.8 221.8 L123.9 221.3 L125.0 220.9 L126.1 220.5 L127.2 220.0 L128.3 219.6 L129.4 219.1 L130.4 218.6 L131.5 218.1 L132.6 217.6 L133.7 217.0 L134.8 216.5 L135.9 215.9 L137.0 215.3 L138.1 214.6 L139.1 214.0 L140.2 213.3 L141.3 212.6 L142.4 211.9 L143.5 211.2 L144.6 210.4 L145.7 209.6 L146.8 208.8 L147.8 208.0 L148.9 207.1 L150.0 206.3 L151.1 205.4 L152.2 204.4 L153.3 203.5 L154.4 202.5 L155.4 201.5 L156.5 200.4 L157.6 199.4 L158.7 198.3 L159.8 197.1 L160.9 196.0 L162.0 194.8 L163.1 193.5 L164.1 192.3 L165.2 191.0 L166.3 189.7 L167.4 188.4 L168.5 187.0 L169.6 185.6 L170.7 184.2 L171.8 182.7 L172.8 181.0 L173.9 179.3 L175.0 177.4 L176.1 175.3 L177.2 173.1 L178.3 170.7 L179.4 168.2 L180.4 165.7 L181.5 163.0 L182.6 160.4 L183.7 157.6 L184.8 154.9 L185.9 152.1 L187.0 149.2 L188.1 146.2 L189.1 143.1 L190.2 139.9 L191.3 136.6 L192.4 133.3 L193.5 129.8 L194.6 126.4 L195.7 123.0 L196.7 119.6 L197.8 116.2 L198.9 113.0 L200.0 110.0 L201.1 107.3 L201.1 107.2 L201.5 106.3 L201.8 105.5 L202.2 104.8 L202.2 104.7 L202.5 104.0 L202.9 103.2 L203.3 102.5 L203.3 102.5 L203.6 101.8 L204.0 101.1 L204.3 100.4 L204.4 100.3 L204.7 99.7 L205.0 99.0 L205.4 98.3 L205.4 98.2 L205.7 97.7 L206.1 97.0 L206.4 96.3 L206.5 96.0 L206.8 95.6 L207.1 94.9 L207.5 94.2 L207.6 93.9 L207.8 93.5 L208.2 92.8 L208.5 92.0 L208.7 91.7 L208.9 91.3 L209.2 90.6 L209.6 89.8 L209.8 89.4 L209.9 89.1 L210.3 88.3 L210.6 87.4 L210.9 86.8 L211.0 86.5 L211.3 85.4 L211.7 84.2 L212.0 83.1 L212.0 82.8 L212.4 81.2 L212.8 79.5 L213.1 77.9 L213.1 77.6 L213.5 75.7 L213.8 73.8 L214.1 71.9 L214.2 71.8 L214.5 69.9 L214.9 68.1 L215.2 66.3 L215.2 66.2 L215.6 64.5 L215.9 62.7 L216.3 61.0 L216.3 60.8 L216.6 59.2 L217.0 57.4 L217.3 55.6 L217.4 55.3 L217.7 53.8 L218.0 52.0 L218.4 50.3 L218.5 49.8 L218.7 48.6 L219.1 47.0 L219.4 45.6 L219.6 45.1 L219.8 44.3 L220.1 43.2 L220.5 42.1 L220.7 41.7 L220.8 41.2 L221.2 40.5 L221.5 39.8 L221.7 39.6 L221.9 39.4 L222.3 39.0 L222.6 38.7 L222.8 38.6 L223.0 38.6 L223.3 38.6 L223.7 38.8 L223.9 39.0 L224.0 39.1 L224.4 39.5 L224.7 40.1 L225.0 40.7 L225.1 40.9 L225.4 41.8 L225.8 42.9 L226.1 44.1 L226.1 44.3 L226.5 45.7 L226.8 47.4 L227.2 49.2 L227.2 49.2 L227.5 51.1 L227.9 53.0 L228.2 55.0 L228.3 55.1 L228.6 56.8 L228.9 58.7 L229.3 60.4 L229.4 60.7 L229.6 62.1 L230.0 63.7 L230.3 65.3 L230.4 65.7 L230.7 66.8 L231.0 68.4 L231.4 69.9 L231.5 70.4 L231.8 71.3 L232.1 72.8 L232.5 74.3 L232.6 74.9 L232.8 75.7 L233.2 77.1 L233.5 78.6 L233.7 79.3 L233.9 80.0 L234.2 81.4 L234.6 82.7 L234.8 83.6 L234.9 84.1 L235.3 85.5 L235.6 86.8 L235.9 87.7 L236.0 88.1 L236.3 89.4 L236.7 90.7 L237.0 91.7 L237.0 91.9 L237.4 93.1 L237.7 94.3 L238.1 95.4 L238.1 95.5 L238.4 96.6 L238.8 97.8 L239.1 98.9 L239.1 98.9 L239.5 100.0 L239.8 101.1 L240.2 102.2 L240.2 102.3 L240.5 103.3 L240.9 104.4 L241.3 105.5 L241.3 105.6 L241.6 106.5 L242.0 107.6 L242.3 108.7 L242.4 109.0 L242.7 109.8 L243.0 110.8 L243.5 112.2 L244.6 115.5 L245.7 118.8 L246.7 122.2 L247.8 125.6 L248.9 128.9 L250.0 132.3 L251.1 135.6 L252.2 138.8 L253.3 142.0 L254.4 145.1 L255.4 148.1 L256.5 151.0 L257.6 153.8 L258.7 156.4 L259.8 159.0 L260.9 161.4 L262.0 163.8 L263.0 166.0 L264.1 168.2 L265.2 170.3 L266.3 172.4 L267.4 174.4 L268.5 176.3 L269.6 178.3 L270.7 180.1 L271.7 182.0 L272.8 183.7 L273.9 185.5 L275.0 187.2 L276.1 188.8 L277.2 190.4 L278.3 191.9 L279.4 193.4 L280.4 194.8 L281.5 196.2 L282.6 197.6 L283.7 198.9 L284.8 200.1 L285.9 201.3 L287.0 202.4 L288.0 203.5 L289.1 204.6 L290.2 205.6 L291.3 206.5 L292.4 207.4 L293.5 208.3 L294.6 209.2 L295.7 210.0 L296.7 210.8 L297.8 211.5 L298.9 212.2 L300.0 212.9 L301.1 213.6 L302.2 214.2 L303.3 214.9 L304.3 215.5 L305.4 216.0 L306.5 216.6 L307.6 217.1 L308.7 217.6 L309.8 218.1 L310.9 218.6 L312.0 219.0 L313.0 219.5 L314.1 219.9 L315.2 220.3 L316.3 220.7 L317.4 221.1 L318.5 221.5 L319.6 221.8 L320.7 222.2 L321.7 222.5 L322.8 222.8 L323.9 223.2 L325.0 223.5" stroke="#1c1670" stroke-width="2.0"/>
<path d="M43.5 232.9 L44.6 232.8 L45.7 232.8 L46.8 232.7 L47.8 232.6 L48.9 232.6 L50.0 232.5 L51.1 232.4 L52.2 232.3 L53.3 232.3 L54.4 232.2 L55.5 232.1 L56.5 232.1 L57.6 232.0 L58.7 231.9 L59.8 231.8 L60.9 231.8 L62.0 231.7 L63.1 231.6 L64.2 231.5 L65.2 231.5 L66.3 231.4 L67.4 231.3 L68.5 231.2 L69.6 231.2 L70.7 231.1 L71.8 231.0 L72.8 230.9 L73.9 230.8 L75.0 230.7 L76.1 230.6 L77.2 230.5 L78.3 230.4 L79.4 230.3 L80.5 230.2 L81.5 230.1 L82.6 230.0 L83.7 229.9 L84.8 229.7 L85.9 229.6 L87.0 229.5 L88.1 229.3 L89.1 229.2 L90.2 229.0 L91.3 228.9 L92.4 228.7 L93.5 228.6 L94.6 228.4 L95.7 228.3 L96.8 228.1 L97.8 227.9 L98.9 227.7 L100.0 227.6 L101.1 227.4 L102.2 227.2 L103.3 227.0 L104.4 226.8 L105.5 226.6 L106.5 226.4 L107.6 226.2 L108.7 225.9 L109.8 225.7 L110.9 225.4 L112.0 225.2 L113.1 224.9 L114.1 224.6 L115.2 224.3 L116.3 224.0 L117.4 223.6 L118.5 223.3 L119.6 222.9 L120.7 222.5 L121.8 222.2 L122.8 221.8 L123.9 221.3 L125.0 220.9 L126.1 220.5 L127.2 220.0 L128.3 219.6 L129.4 219.1 L130.4 218.6 L131.5 218.1 L132.6 217.6 L133.7 217.0 L134.8 216.5 L135.9 215.9 L137.0 215.3 L138.1 214.6 L139.1 214.0 L140.2 213.3 L141.3 212.6 L142.4 211.9 L143.5 211.2 L144.6 210.4 L145.7 209.6 L146.8 208.8 L147.8 208.0 L148.9 207.1 L150.0 206.3 L151.1 205.4 L152.2 204.4 L153.3 203.5 L154.4 202.5 L155.4 201.5 L156.5 200.4 L157.6 199.4 L158.7 198.3 L159.8 197.1 L160.9 196.0 L162.0 194.8 L163.1 193.5 L164.1 192.3 L165.2 191.0 L166.3 189.7 L167.4 188.4 L168.5 187.0 L169.6 185.6 L170.7 184.2 L171.8 182.7 L172.8 181.0 L173.9 179.3 L175.0 177.4 L176.1 175.3 L177.2 173.1 L178.3 170.7 L179.4 168.2 L180.4 165.7 L181.5 163.0 L182.6 160.4 L183.7 157.6 L184.8 154.9 L185.9 152.1 L187.0 149.2 L188.1 146.2 L189.1 143.1 L190.2 139.9 L191.3 136.6 L192.4 133.3 L193.5 129.8 L194.6 126.4 L195.7 123.0 L196.7 119.6 L197.8 116.2 L198.9 113.0 L200.0 110.0 L201.1 107.3 L201.1 107.2 L201.5 106.3 L201.8 105.5 L202.2 104.8 L202.2 104.7 L202.5 104.0 L202.9 103.2 L203.3 102.5 L203.3 102.5 L203.6 101.8 L204.0 101.1 L204.3 100.4 L204.4 100.3 L204.7 99.7 L205.0 99.0 L205.4 98.3 L205.4 98.2 L205.7 97.7 L206.1 97.0 L206.4 96.3 L206.5 96.0 L206.8 95.6 L207.1 94.9 L207.5 94.2 L207.6 93.9 L207.8 93.5 L208.2 92.7 L208.5 92.0 L208.7 91.7 L208.9 91.3 L209.2 90.6 L209.6 89.8 L209.8 89.4 L209.9 89.1 L210.3 88.3 L210.6 87.4 L210.9 86.8 L211.0 86.5 L211.3 85.4 L211.7 84.3 L212.0 83.2 L212.0 82.9 L212.4 81.4 L212.8 79.8 L213.1 78.3 L213.1 78.1 L213.5 76.3 L213.8 74.5 L214.1 72.7 L214.2 72.6 L214.5 70.8 L214.9 69.0 L215.2 67.2 L215.2 67.2 L215.6 65.5 L215.9 63.7 L216.3 62.0 L216.3 61.8 L216.6 60.3 L217.0 58.8 L217.3 57.3 L217.4 57.0 L217.7 55.9 L218.0 54.6 L218.4 53.4 L218.5 53.0 L218.7 52.2 L219.1 51.2 L219.4 50.2 L219.6 49.9 L219.8 49.3 L220.1 48.6 L220.5 47.9 L220.7 47.6 L220.8 47.3 L221.2 46.8 L221.5 46.4 L221.7 46.3 L221.9 46.2 L222.3 46.1 L222.6 46.2 L222.8 46.3 L223.0 46.4 L223.3 46.7 L223.7 47.1 L223.9 47.5 L224.0 47.6 L224.4 48.2 L224.7 48.8 L225.0 49.4 L225.1 49.6 L225.4 50.4 L225.8 51.2 L226.1 52.1 L226.1 52.2 L226.5 53.1 L226.8 54.1 L227.2 55.2 L227.2 55.2 L227.5 56.2 L227.9 57.3 L228.2 58.5 L228.3 58.6 L228.6 59.7 L228.9 60.9 L229.3 62.2 L229.4 62.5 L229.6 63.6 L230.0 65.1 L230.3 66.6 L230.4 67.0 L230.7 68.2 L231.0 69.7 L231.4 71.3 L231.5 71.8 L231.8 72.8 L232.1 74.3 L232.5 75.8 L232.6 76.4 L232.8 77.2 L233.2 78.5 L233.5 79.8 L233.7 80.5 L233.9 81.1 L234.2 82.3 L234.6 83.6 L234.8 84.3 L234.9 84.8 L235.3 86.0 L235.6 87.1 L235.9 88.0 L236.0 88.3 L236.3 89.4 L236.7 90.6 L237.0 91.5 L237.0 91.7 L237.4 92.8 L237.7 93.9 L238.1 94.9 L238.1 95.0 L238.4 96.1 L238.8 97.2 L239.1 98.3 L239.1 98.3 L239.5 99.4 L239.8 100.5 L240.2 101.5 L240.2 101.6 L240.5 102.6 L240.9 103.6 L241.3 104.7 L241.3 104.9 L241.6 105.7 L242.0 106.8 L242.3 107.8 L242.4 108.1 L242.7 108.9 L243.0 109.9 L243.5 111.3 L244.6 114.6 L245.7 117.8 L246.7 121.1 L247.8 124.4 L248.9 127.8 L250.0 131.1 L251.1 134.4 L252.2 137.7 L253.3 140.8 L254.4 143.9 L255.4 146.9 L256.5 149.8 L257.6 152.6 L258.7 155.2 L259.8 157.8 L260.9 160.2 L262.0 162.6 L263.0 164.8 L264.1 167.0 L265.2 169.1 L266.3 171.2 L267.4 173.2 L268.5 175.2 L269.6 177.1 L270.7 179.0 L271.7 180.8 L272.8 182.6 L273.9 184.4 L275.0 186.1 L276.1 187.7 L277.2 189.3 L278.3 190.9 L279.4 192.4 L280.4 193.8 L281.5 195.2 L282.6 196.6 L283.7 197.9 L284.8 199.1 L285.9 200.3 L287.0 201.5 L288.0 202.6 L289.1 203.6 L290.2 204.6 L291.3 205.6 L292.4 206.5 L293.5 207.4 L294.6 208.3 L295.7 209.1 L296.7 209.9 L297.8 210.7 L298.9 211.4 L300.0 212.1 L301.1 212.8 L302.2 213.4 L303.3 214.1 L304.3 214.7 L305.4 215.2 L306.5 215.8 L307.6 216.3 L308.7 216.8 L309.8 217.3 L310.9 217.8 L312.0 218.3 L313.0 218.7 L314.1 219.2 L315.2 219.6 L316.3 220.0 L317.4 220.4 L318.5 220.8 L319.6 221.1 L320.7 221.5 L321.7 221.8 L322.8 222.2 L323.9 222.5 L325.0 222.8" stroke="#5024a8" stroke-width="2.3"/>
</g>
<line x1="325" y1="12.3" x2="325" y2="277.2" stroke="#8a8a8a" stroke-width="1.7"/>
<line x1="39" y1="12.3" x2="325.8" y2="12.3" stroke="#505050" stroke-width="1.6"/>
<line x1="43.5" y1="11.5" x2="43.5" y2="277.2" stroke="#383838" stroke-width="1.7"/>
<line x1="39" y1="272.2" x2="325.8" y2="272.2" stroke="#444444" stroke-width="1.7"/>
<line x1="39" y1="272.2" x2="43.5" y2="272.2" stroke="#3c3c3c" stroke-width="1.7"/>
<line x1="41" y1="255.96" x2="43.5" y2="255.96" stroke="#3c3c3c" stroke-width="1.7"/>
<line x1="39" y1="239.71" x2="43.5" y2="239.71" stroke="#3c3c3c" stroke-width="1.7"/>
<line x1="41" y1="223.47" x2="43.5" y2="223.47" stroke="#3c3c3c" stroke-width="1.7"/>
<line x1="39" y1="207.22" x2="43.5" y2="207.22" stroke="#3c3c3c" stroke-width="1.7"/>
<line x1="41" y1="190.98" x2="43.5" y2="190.98" stroke="#3c3c3c" stroke-width="1.7"/>
<line x1="39" y1="174.74" x2="43.5" y2="174.74" stroke="#3c3c3c" stroke-width="1.7"/>
<line x1="41" y1="158.49" x2="43.5" y2="158.49" stroke="#3c3c3c" stroke-width="1.7"/>
<line x1="39" y1="142.25" x2="43.5" y2="142.25" stroke="#3c3c3c" stroke-width="1.7"/>
<line x1="41" y1="126.01" x2="43.5" y2="126.01" stroke="#3c3c3c" stroke-width="1.7"/>
<line x1="39" y1="109.76" x2="43.5" y2="109.76" stroke="#3c3c3c" stroke-width="1.7"/>
<line x1="41" y1="93.52" x2="43.5" y2="93.52" stroke="#3c3c3c" stroke-width="1.7"/>
<line x1="39" y1="77.28" x2="43.5" y2="77.28" stroke="#3c3c3c" stroke-width="1.7"/>
<line x1="41" y1="61.03" x2="43.5" y2="61.03" stroke="#3c3c3c" stroke-width="1.7"/>
<line x1="39" y1="44.79" x2="43.5" y2="44.79" stroke="#3c3c3c" stroke-width="1.7"/>
<line x1="41" y1="28.54" x2="43.5" y2="28.54" stroke="#3c3c3c" stroke-width="1.7"/>
<line x1="39" y1="12.3" x2="43.5" y2="12.3" stroke="#3c3c3c" stroke-width="1.7"/>
<line x1="43.5" y1="272.2" x2="43.5" y2="277.2" stroke="#3c3c3c" stroke-width="1.7"/>
<line x1="78.69" y1="272.2" x2="78.69" y2="275.2" stroke="#3c3c3c" stroke-width="1.7"/>
<line x1="113.88" y1="272.2" x2="113.88" y2="277.2" stroke="#3c3c3c" stroke-width="1.7"/>
<line x1="149.06" y1="272.2" x2="149.06" y2="275.2" stroke="#3c3c3c" stroke-width="1.7"/>
<line x1="184.25" y1="272.2" x2="184.25" y2="277.2" stroke="#3c3c3c" stroke-width="1.7"/>
<line x1="219.44" y1="272.2" x2="219.44" y2="275.2" stroke="#3c3c3c" stroke-width="1.7"/>
<line x1="254.62" y1="272.2" x2="254.62" y2="277.2" stroke="#3c3c3c" stroke-width="1.7"/>
<line x1="289.81" y1="272.2" x2="289.81" y2="275.2" stroke="#3c3c3c" stroke-width="1.7"/>
<text transform="translate(36.2 276.35) scale(0.8 1)" text-anchor="end" font-size="11.6" class="tk">-10</text>
<text transform="translate(36.2 243.87) scale(0.8 1)" text-anchor="end" font-size="11.6" class="tk">0</text>
<text transform="translate(36.2 211.38) scale(0.8 1)" text-anchor="end" font-size="11.6" class="tk">10</text>
<text transform="translate(36.2 178.89) scale(0.8 1)" text-anchor="end" font-size="11.6" class="tk">20</text>
<text transform="translate(36.2 146.4) scale(0.8 1)" text-anchor="end" font-size="11.6" class="tk">30</text>
<text transform="translate(36.2 113.92) scale(0.8 1)" text-anchor="end" font-size="11.6" class="tk">40</text>
<text transform="translate(36.2 81.43) scale(0.8 1)" text-anchor="end" font-size="11.6" class="tk">50</text>
<text transform="translate(36.2 48.94) scale(0.8 1)" text-anchor="end" font-size="11.6" class="tk">60</text>
<text transform="translate(36.2 16.45) scale(0.8 1)" text-anchor="end" font-size="11.6" class="tk">70</text>
<text transform="translate(43.5 289.91) scale(0.8 1)" text-anchor="middle" font-size="11.6" class="tk">250</text>
<text transform="translate(113.88 289.91) scale(0.8 1)" text-anchor="middle" font-size="11.6" class="tk">300</text>
<text transform="translate(184.25 289.91) scale(0.8 1)" text-anchor="middle" font-size="11.6" class="tk">350</text>
<text transform="translate(254.62 289.91) scale(0.8 1)" text-anchor="middle" font-size="11.6" class="tk">400</text>
<text transform="translate(325 289.91) scale(0.8 1)" text-anchor="middle" font-size="11.6" class="tk">450</text>
<text transform="translate(184.25 309.2) scale(0.868 1)" text-anchor="middle" font-size="13.5" class="tt">Crank angle (degree)</text>
<text transform="translate(17 142.1) rotate(-90) scale(1 0.85)" text-anchor="middle" font-size="13.55" class="tt">Cylinder pressure (bar)</text>
<rect x="87.5" y="12.3" width="95.8" height="85.7" fill="#fff" stroke="#6e6e6e" stroke-width="1.1"/>
<line x1="88" y1="19.6" x2="107.6" y2="19.6" stroke="#262626" stroke-width="2.0"/>
<text transform="translate(110.5 23.22) scale(0.84 1)" font-size="10.0" class="lg">Diesel @ 210 IP</text>
<line x1="88" y1="31.6" x2="107.6" y2="31.6" stroke="#c04444" stroke-width="2.0"/>
<text transform="translate(110.5 35.22) scale(0.84 1)" font-size="10.0" class="lg">PME-5G @ 210 IP</text>
<line x1="88" y1="43.6" x2="107.6" y2="43.6" stroke="#3c3cb0" stroke-width="2.0"/>
<text transform="translate(110.5 47.22) scale(0.84 1)" font-size="10.0" class="lg">NME-5G @ 210 IP</text>
<line x1="88" y1="55.6" x2="107.6" y2="55.6" stroke="#cc48d0" stroke-width="2.0"/>
<text transform="translate(110.5 59.22) scale(0.84 1)" font-size="10.0" class="lg">MME-5G @ 210 IP</text>
<line x1="88" y1="67.6" x2="107.6" y2="67.6" stroke="#3a8a40" stroke-width="2.0"/>
<text transform="translate(110.5 71.22) scale(0.84 1)" font-size="10.0" class="lg">JME-5G @ 210 IP</text>
<line x1="88" y1="79.5" x2="107.6" y2="79.5" stroke="#2a2a6c" stroke-width="2.0"/>
<text transform="translate(110.5 83.12) scale(0.84 1)" font-size="10.0" class="lg">UME-5G @ 210 IP</text>
<line x1="88" y1="91.5" x2="107.6" y2="91.5" stroke="#7a40c8" stroke-width="2.0"/>
<text transform="translate(110.5 95.12) scale(0.84 1)" font-size="10.0" class="lg">DME-5G @ 210 IP</text>
<line x1="39" y1="12.3" x2="325.8" y2="12.3" stroke="#505050" stroke-width="1.6"/>
<text transform="translate(295.4 28.5) scale(0.97 1)" font-family='Liberation Serif, serif' font-weight="bold" font-size="17.0" fill="#111">(a)</text>
<clipPath id="clipb"><rect x="384.8" y="17.6" width="287.5" height="258.2"/></clipPath>
<line x1="384.8" y1="259.66" x2="672.3" y2="259.66" stroke="#ececec" stroke-width="1.3"/>
<line x1="384.8" y1="227.39" x2="672.3" y2="227.39" stroke="#ececec" stroke-width="1.3"/>
<line x1="384.8" y1="195.11" x2="672.3" y2="195.11" stroke="#ececec" stroke-width="1.3"/>
<line x1="384.8" y1="162.84" x2="672.3" y2="162.84" stroke="#ececec" stroke-width="1.3"/>
<line x1="384.8" y1="130.56" x2="672.3" y2="130.56" stroke="#ececec" stroke-width="1.3"/>
<line x1="384.8" y1="98.29" x2="672.3" y2="98.29" stroke="#ececec" stroke-width="1.3"/>
<line x1="384.8" y1="66.01" x2="672.3" y2="66.01" stroke="#ececec" stroke-width="1.3"/>
<line x1="384.8" y1="33.74" x2="672.3" y2="33.74" stroke="#ececec" stroke-width="1.3"/>
<line x1="420.74" y1="17.6" x2="420.74" y2="275.8" stroke="#eeeeee" stroke-width="1.3"/>
<line x1="492.61" y1="17.6" x2="492.61" y2="275.8" stroke="#eeeeee" stroke-width="1.3"/>
<line x1="564.49" y1="17.6" x2="564.49" y2="275.8" stroke="#eeeeee" stroke-width="1.3"/>
<line x1="636.36" y1="17.6" x2="636.36" y2="275.8" stroke="#eeeeee" stroke-width="1.3"/>
<line x1="384.8" y1="243.53" x2="672.3" y2="243.53" stroke="#d0d0d0" stroke-width="1.5"/>
<line x1="384.8" y1="211.25" x2="672.3" y2="211.25" stroke="#d0d0d0" stroke-width="1.5"/>
<line x1="384.8" y1="178.98" x2="672.3" y2="178.98" stroke="#d0d0d0" stroke-width="1.5"/>
<line x1="384.8" y1="146.7" x2="672.3" y2="146.7" stroke="#d0d0d0" stroke-width="1.5"/>
<line x1="384.8" y1="114.43" x2="672.3" y2="114.43" stroke="#d0d0d0" stroke-width="1.5"/>
<line x1="384.8" y1="82.15" x2="672.3" y2="82.15" stroke="#d0d0d0" stroke-width="1.5"/>
<line x1="384.8" y1="49.88" x2="672.3" y2="49.88" stroke="#d0d0d0" stroke-width="1.5"/>
<line x1="456.68" y1="17.6" x2="456.68" y2="275.8" stroke="#d0d0d0" stroke-width="1.5"/>
<line x1="528.55" y1="17.6" x2="528.55" y2="275.8" stroke="#d0d0d0" stroke-width="1.5"/>
<line x1="600.42" y1="17.6" x2="600.42" y2="275.8" stroke="#d0d0d0" stroke-width="1.5"/>
<g clip-path="url(#clipb)" fill="none" stroke-linejoin="round" stroke-linecap="round">
<path d="M384.8 236.7 L385.9 236.7 L387.0 236.6 L388.1 236.5 L389.2 236.5 L390.4 236.4 L391.5 236.3 L392.6 236.3 L393.7 236.2 L394.8 236.1 L395.9 236.1 L397.0 236.0 L398.1 235.9 L399.2 235.9 L400.3 235.8 L401.5 235.7 L402.6 235.6 L403.7 235.6 L404.8 235.5 L405.9 235.4 L407.0 235.3 L408.1 235.3 L409.2 235.2 L410.3 235.1 L411.4 235.0 L412.6 234.9 L413.7 234.9 L414.8 234.8 L415.9 234.7 L417.0 234.6 L418.1 234.5 L419.2 234.4 L420.3 234.3 L421.4 234.2 L422.5 234.1 L423.7 234.0 L424.8 233.9 L425.9 233.7 L427.0 233.6 L428.1 233.5 L429.2 233.4 L430.3 233.2 L431.4 233.1 L432.5 232.9 L433.6 232.8 L434.8 232.6 L435.9 232.5 L437.0 232.3 L438.1 232.1 L439.2 232.0 L440.3 231.8 L441.4 231.6 L442.5 231.5 L443.6 231.3 L444.7 231.1 L445.9 230.9 L447.0 230.7 L448.1 230.5 L449.2 230.3 L450.3 230.1 L451.4 229.8 L452.5 229.6 L453.6 229.3 L454.7 229.1 L455.8 228.8 L457.0 228.5 L458.1 228.2 L459.2 227.9 L460.3 227.6 L461.4 227.2 L462.5 226.8 L463.6 226.5 L464.7 226.1 L465.8 225.7 L466.9 225.3 L468.1 224.8 L469.2 224.4 L470.3 224.0 L471.4 223.5 L472.5 223.0 L473.6 222.5 L474.7 222.0 L475.8 221.5 L476.9 221.0 L478.0 220.4 L479.2 219.8 L480.3 219.2 L481.4 218.6 L482.5 218.0 L483.6 217.3 L484.7 216.6 L485.8 215.9 L486.9 215.2 L488.0 214.4 L489.1 213.6 L490.3 212.8 L491.4 212.0 L492.5 211.2 L493.6 210.3 L494.7 209.4 L495.8 208.5 L496.9 207.5 L498.0 206.6 L499.1 205.6 L500.2 204.5 L501.4 203.5 L502.5 202.4 L503.6 201.2 L504.7 200.0 L505.8 198.8 L506.9 197.5 L508.0 196.1 L509.1 194.6 L510.2 193.0 L511.3 191.3 L512.5 189.5 L513.6 187.6 L514.7 185.6 L515.8 183.5 L516.9 181.3 L518.0 179.1 L519.1 176.9 L520.2 174.5 L521.3 172.1 L522.4 169.6 L523.6 166.9 L524.7 164.2 L525.8 161.4 L526.9 158.4 L528.0 155.4 L529.1 152.3 L530.2 149.1 L531.3 145.9 L532.4 142.6 L533.5 139.4 L534.7 136.1 L535.8 132.8 L536.9 129.6 L538.0 126.4 L539.1 123.2 L540.2 120.1 L541.3 117.0 L542.4 114.0 L543.5 111.1 L544.6 108.4 L545.8 105.9 L545.8 105.8 L546.2 105.1 L546.5 104.3 L546.9 103.6 L546.9 103.6 L547.2 102.9 L547.6 102.2 L548.0 101.6 L548.0 101.6 L548.3 101.0 L548.7 100.4 L549.0 99.8 L549.1 99.7 L549.4 99.2 L549.8 98.7 L550.1 98.1 L550.2 98.0 L550.5 97.6 L550.8 97.1 L551.2 96.6 L551.3 96.4 L551.5 96.1 L551.9 95.6 L552.3 95.1 L552.4 94.9 L552.6 94.6 L553.0 94.0 L553.3 93.5 L553.5 93.1 L553.7 92.8 L554.1 92.1 L554.4 91.2 L554.6 90.7 L554.8 90.2 L555.1 89.0 L555.5 87.6 L555.7 86.6 L555.9 86.1 L556.2 84.4 L556.6 82.8 L556.9 81.5 L556.9 81.1 L557.3 79.4 L557.7 77.7 L558.0 76.2 L558.0 76.0 L558.4 74.3 L558.7 72.6 L559.1 71.0 L559.1 71.0 L559.5 69.3 L559.8 67.8 L560.2 66.3 L560.2 66.2 L560.5 64.8 L560.9 63.3 L561.3 61.9 L561.3 61.7 L561.6 60.4 L562.0 59.0 L562.3 57.6 L562.4 57.3 L562.7 56.1 L563.0 54.7 L563.4 53.2 L563.5 52.8 L563.8 51.7 L564.1 50.3 L564.5 49.0 L564.6 48.5 L564.8 47.7 L565.2 46.5 L565.6 45.5 L565.7 45.0 L565.9 44.6 L566.3 44.0 L566.6 43.6 L566.8 43.6 L567.0 43.6 L567.4 43.9 L567.7 44.5 L568.0 45.0 L568.1 45.4 L568.4 46.5 L568.8 47.9 L569.1 49.1 L569.2 49.5 L569.5 51.4 L569.9 53.4 L570.2 55.1 L570.2 55.4 L570.6 57.3 L571.0 58.9 L571.3 60.1 L571.3 60.2 L571.7 61.4 L572.0 62.4 L572.4 63.3 L572.4 63.3 L572.8 64.1 L573.1 65.0 L573.5 66.0 L573.5 66.1 L573.8 67.0 L574.2 68.0 L574.5 69.1 L574.6 69.3 L574.9 70.2 L575.3 71.4 L575.6 72.6 L575.7 72.9 L576.0 73.8 L576.3 75.1 L576.7 76.3 L576.8 76.8 L577.1 77.6 L577.4 78.9 L577.8 80.2 L577.9 80.8 L578.1 81.6 L578.5 83.0 L578.9 84.4 L579.1 85.2 L579.2 85.9 L579.6 87.4 L579.9 88.9 L580.2 89.9 L580.3 90.5 L580.7 92.0 L581.0 93.4 L581.3 94.4 L581.4 94.8 L581.7 96.1 L582.1 97.3 L582.4 98.2 L582.5 98.4 L582.8 99.5 L583.2 100.5 L583.5 101.4 L583.5 101.5 L583.9 102.4 L584.3 103.3 L584.6 104.1 L584.6 104.1 L585.0 105.0 L585.3 105.9 L585.7 106.7 L585.7 106.8 L586.0 107.6 L586.4 108.5 L586.8 109.4 L586.8 109.6 L587.1 110.4 L587.5 111.4 L587.8 112.5 L587.9 112.8 L588.2 113.6 L588.6 114.7 L589.0 116.3 L590.2 120.1 L591.3 124.1 L592.4 128.2 L593.5 132.2 L594.6 136.0 L595.7 139.7 L596.8 143.1 L597.9 146.5 L599.0 149.8 L600.1 152.8 L601.3 155.7 L602.4 158.5 L603.5 161.2 L604.6 163.7 L605.7 166.2 L606.8 168.6 L607.9 170.9 L609.0 173.1 L610.1 175.2 L611.2 177.2 L612.4 179.1 L613.5 181.0 L614.6 182.7 L615.7 184.4 L616.8 186.0 L617.9 187.5 L619.0 189.0 L620.1 190.4 L621.2 191.8 L622.3 193.2 L623.5 194.5 L624.6 195.8 L625.7 197.0 L626.8 198.3 L627.9 199.5 L629.0 200.6 L630.1 201.8 L631.2 202.9 L632.3 204.0 L633.4 205.0 L634.6 206.1 L635.7 207.0 L636.8 208.0 L637.9 209.0 L639.0 209.9 L640.1 210.7 L641.2 211.6 L642.3 212.4 L643.4 213.3 L644.5 214.1 L645.7 214.8 L646.8 215.6 L647.9 216.3 L649.0 217.0 L650.1 217.6 L651.2 218.2 L652.3 218.8 L653.4 219.4 L654.5 220.0 L655.6 220.5 L656.8 221.0 L657.9 221.5 L659.0 221.9 L660.1 222.4 L661.2 222.8 L662.3 223.2 L663.4 223.6 L664.5 224.0 L665.6 224.4 L666.7 224.8 L667.9 225.1 L669.0 225.4 L670.1 225.8 L671.2 226.1 L672.3 226.4" stroke="#111111" stroke-width="1.5"/>
<path d="M384.8 236.7 L385.9 236.7 L387.0 236.6 L388.1 236.5 L389.2 236.5 L390.4 236.4 L391.5 236.3 L392.6 236.3 L393.7 236.2 L394.8 236.1 L395.9 236.1 L397.0 236.0 L398.1 235.9 L399.2 235.9 L400.3 235.8 L401.5 235.7 L402.6 235.6 L403.7 235.6 L404.8 235.5 L405.9 235.4 L407.0 235.3 L408.1 235.3 L409.2 235.2 L410.3 235.1 L411.4 235.0 L412.6 234.9 L413.7 234.9 L414.8 234.8 L415.9 234.7 L417.0 234.6 L418.1 234.5 L419.2 234.4 L420.3 234.3 L421.4 234.2 L422.5 234.1 L423.7 234.0 L424.8 233.9 L425.9 233.7 L427.0 233.6 L428.1 233.5 L429.2 233.4 L430.3 233.2 L431.4 233.1 L432.5 232.9 L433.6 232.8 L434.8 232.6 L435.9 232.5 L437.0 232.3 L438.1 232.1 L439.2 232.0 L440.3 231.8 L441.4 231.6 L442.5 231.5 L443.6 231.3 L444.7 231.1 L445.9 230.9 L447.0 230.7 L448.1 230.5 L449.2 230.3 L450.3 230.1 L451.4 229.8 L452.5 229.6 L453.6 229.4 L454.7 229.1 L455.8 228.8 L457.0 228.6 L458.1 228.3 L459.2 228.0 L460.3 227.6 L461.4 227.3 L462.5 227.0 L463.6 226.6 L464.7 226.2 L465.8 225.8 L466.9 225.4 L468.1 225.0 L469.2 224.6 L470.3 224.2 L471.4 223.7 L472.5 223.3 L473.6 222.8 L474.7 222.3 L475.8 221.8 L476.9 221.3 L478.0 220.8 L479.2 220.2 L480.3 219.6 L481.4 219.0 L482.5 218.4 L483.6 217.7 L484.7 217.1 L485.8 216.4 L486.9 215.7 L488.0 214.9 L489.1 214.2 L490.3 213.4 L491.4 212.6 L492.5 211.8 L493.6 210.9 L494.7 210.0 L495.8 209.1 L496.9 208.2 L498.0 207.3 L499.1 206.3 L500.2 205.3 L501.4 204.3 L502.5 203.2 L503.6 202.1 L504.7 200.9 L505.8 199.7 L506.9 198.5 L508.0 197.1 L509.1 195.7 L510.2 194.2 L511.3 192.6 L512.5 190.9 L513.6 189.0 L514.7 187.1 L515.8 185.1 L516.9 183.0 L518.0 180.9 L519.1 178.6 L520.2 176.3 L521.3 174.0 L522.4 171.5 L523.6 169.0 L524.7 166.3 L525.8 163.6 L526.9 160.7 L528.0 157.7 L529.1 154.7 L530.2 151.6 L531.3 148.4 L532.4 145.1 L533.5 141.9 L534.7 138.6 L535.8 135.4 L536.9 132.1 L538.0 128.9 L539.1 125.7 L540.2 122.5 L541.3 119.4 L542.4 116.3 L543.5 113.3 L544.6 110.4 L545.8 107.8 L545.8 107.7 L546.2 106.9 L546.5 106.1 L546.9 105.3 L546.9 105.3 L547.2 104.6 L547.6 103.8 L548.0 103.1 L548.0 103.1 L548.3 102.5 L548.7 101.8 L549.0 101.2 L549.1 101.1 L549.4 100.6 L549.8 100.0 L550.1 99.5 L550.2 99.3 L550.5 98.9 L550.8 98.4 L551.2 97.8 L551.3 97.7 L551.5 97.3 L551.9 96.8 L552.3 96.3 L552.4 96.1 L552.6 95.8 L553.0 95.3 L553.3 94.8 L553.5 94.5 L553.7 94.3 L554.1 93.8 L554.4 93.2 L554.6 92.9 L554.8 92.7 L555.1 92.0 L555.5 91.3 L555.7 90.8 L555.9 90.6 L556.2 89.7 L556.6 88.8 L556.9 88.2 L556.9 88.0 L557.3 87.1 L557.7 86.2 L558.0 85.5 L558.0 85.3 L558.4 84.5 L558.7 83.5 L559.1 82.6 L559.1 82.5 L559.5 81.3 L559.8 80.1 L560.2 78.6 L560.2 78.6 L560.5 77.0 L560.9 75.3 L561.3 73.5 L561.3 73.3 L561.6 71.7 L562.0 69.9 L562.3 68.0 L562.4 67.7 L562.7 66.2 L563.0 64.4 L563.4 62.7 L563.5 62.2 L563.8 60.9 L564.1 59.2 L564.5 57.5 L564.6 56.8 L564.8 55.9 L565.2 54.3 L565.6 52.9 L565.7 52.3 L565.9 51.7 L566.3 50.6 L566.6 49.6 L566.8 49.1 L567.0 48.7 L567.4 47.9 L567.7 47.2 L568.0 46.9 L568.1 46.7 L568.4 46.4 L568.8 46.2 L569.1 46.3 L569.2 46.4 L569.5 46.7 L569.9 47.4 L570.2 48.0 L570.2 48.2 L570.6 49.2 L571.0 50.3 L571.3 51.5 L571.3 51.6 L571.7 53.0 L572.0 54.6 L572.4 56.3 L572.4 56.3 L572.8 58.0 L573.1 59.8 L573.5 61.6 L573.5 61.7 L573.8 63.3 L574.2 64.9 L574.5 66.5 L574.6 66.8 L574.9 68.1 L575.3 69.6 L575.6 71.1 L575.7 71.5 L576.0 72.6 L576.3 74.1 L576.7 75.5 L576.8 76.0 L577.1 76.9 L577.4 78.3 L577.8 79.7 L577.9 80.3 L578.1 81.0 L578.5 82.4 L578.9 83.7 L579.1 84.4 L579.2 84.9 L579.6 86.2 L579.9 87.4 L580.2 88.2 L580.3 88.6 L580.7 89.8 L581.0 91.0 L581.3 91.8 L581.4 92.1 L581.7 93.3 L582.1 94.4 L582.4 95.2 L582.5 95.4 L582.8 96.5 L583.2 97.5 L583.5 98.4 L583.5 98.5 L583.9 99.4 L584.3 100.4 L584.6 101.3 L584.6 101.3 L585.0 102.2 L585.3 103.0 L585.7 103.9 L585.7 104.0 L586.0 104.8 L586.4 105.6 L586.8 106.5 L586.8 106.7 L587.1 107.4 L587.5 108.4 L587.8 109.3 L587.9 109.6 L588.2 110.3 L588.6 111.3 L589.0 112.8 L590.2 116.3 L591.3 120.1 L592.4 124.1 L593.5 128.1 L594.6 132.1 L595.7 135.9 L596.8 139.6 L597.9 143.2 L599.0 146.7 L600.1 150.0 L601.3 153.1 L602.4 156.0 L603.5 158.9 L604.6 161.6 L605.7 164.2 L606.8 166.7 L607.9 169.1 L609.0 171.4 L610.1 173.6 L611.2 175.7 L612.4 177.8 L613.5 179.7 L614.6 181.5 L615.7 183.3 L616.8 185.0 L617.9 186.6 L619.0 188.1 L620.1 189.6 L621.2 191.1 L622.3 192.5 L623.5 193.8 L624.6 195.1 L625.7 196.4 L626.8 197.7 L627.9 198.9 L629.0 200.1 L630.1 201.3 L631.2 202.4 L632.3 203.5 L633.4 204.6 L634.6 205.6 L635.7 206.7 L636.8 207.6 L637.9 208.6 L639.0 209.5 L640.1 210.4 L641.2 211.3 L642.3 212.1 L643.4 213.0 L644.5 213.8 L645.7 214.5 L646.8 215.3 L647.9 216.0 L649.0 216.7 L650.1 217.4 L651.2 218.0 L652.3 218.6 L653.4 219.2 L654.5 219.7 L655.6 220.3 L656.8 220.8 L657.9 221.3 L659.0 221.8 L660.1 222.2 L661.2 222.7 L662.3 223.1 L663.4 223.5 L664.5 223.9 L665.6 224.3 L666.7 224.6 L667.9 225.0 L669.0 225.3 L670.1 225.6 L671.2 226.0 L672.3 226.3" stroke="#c8203a" stroke-width="1.6"/>
<path d="M384.8 236.7 L385.9 236.7 L387.0 236.6 L388.1 236.5 L389.2 236.5 L390.4 236.4 L391.5 236.3 L392.6 236.3 L393.7 236.2 L394.8 236.1 L395.9 236.1 L397.0 236.0 L398.1 235.9 L399.2 235.9 L400.3 235.8 L401.5 235.7 L402.6 235.6 L403.7 235.6 L404.8 235.5 L405.9 235.4 L407.0 235.3 L408.1 235.3 L409.2 235.2 L410.3 235.1 L411.4 235.0 L412.6 234.9 L413.7 234.9 L414.8 234.8 L415.9 234.7 L417.0 234.6 L418.1 234.5 L419.2 234.4 L420.3 234.3 L421.4 234.2 L422.5 234.1 L423.7 234.0 L424.8 233.9 L425.9 233.7 L427.0 233.6 L428.1 233.5 L429.2 233.4 L430.3 233.2 L431.4 233.1 L432.5 232.9 L433.6 232.8 L434.8 232.6 L435.9 232.5 L437.0 232.3 L438.1 232.1 L439.2 232.0 L440.3 231.8 L441.4 231.6 L442.5 231.5 L443.6 231.3 L444.7 231.1 L445.9 230.9 L447.0 230.7 L448.1 230.5 L449.2 230.3 L450.3 230.1 L451.4 229.8 L452.5 229.6 L453.6 229.3 L454.7 229.1 L455.8 228.8 L457.0 228.5 L458.1 228.2 L459.2 227.9 L460.3 227.6 L461.4 227.2 L462.5 226.8 L463.6 226.5 L464.7 226.1 L465.8 225.7 L466.9 225.3 L468.1 224.8 L469.2 224.4 L470.3 224.0 L471.4 223.5 L472.5 223.0 L473.6 222.5 L474.7 222.0 L475.8 221.5 L476.9 221.0 L478.0 220.4 L479.2 219.8 L480.3 219.2 L481.4 218.6 L482.5 218.0 L483.6 217.3 L484.7 216.6 L485.8 215.9 L486.9 215.2 L488.0 214.4 L489.1 213.6 L490.3 212.8 L491.4 212.0 L492.5 211.2 L493.6 210.3 L494.7 209.4 L495.8 208.5 L496.9 207.5 L498.0 206.6 L499.1 205.6 L500.2 204.5 L501.4 203.5 L502.5 202.4 L503.6 201.2 L504.7 200.0 L505.8 198.8 L506.9 197.5 L508.0 196.1 L509.1 194.6 L510.2 193.0 L511.3 191.3 L512.5 189.5 L513.6 187.6 L514.7 185.6 L515.8 183.5 L516.9 181.3 L518.0 179.1 L519.1 176.9 L520.2 174.5 L521.3 172.1 L522.4 169.6 L523.6 166.9 L524.7 164.2 L525.8 161.4 L526.9 158.4 L528.0 155.4 L529.1 152.3 L530.2 149.1 L531.3 145.9 L532.4 142.6 L533.5 139.4 L534.7 136.1 L535.8 132.8 L536.9 129.6 L538.0 126.4 L539.1 123.2 L540.2 120.1 L541.3 117.0 L542.4 114.0 L543.5 111.1 L544.6 108.4 L545.8 105.9 L545.8 105.8 L546.2 105.1 L546.5 104.3 L546.9 103.6 L546.9 103.6 L547.2 102.9 L547.6 102.2 L548.0 101.6 L548.0 101.6 L548.3 101.0 L548.7 100.4 L549.0 99.8 L549.1 99.7 L549.4 99.2 L549.8 98.7 L550.1 98.1 L550.2 98.0 L550.5 97.6 L550.8 97.1 L551.2 96.6 L551.3 96.4 L551.5 96.1 L551.9 95.6 L552.3 95.1 L552.4 94.9 L552.6 94.6 L553.0 94.0 L553.3 93.5 L553.5 93.2 L553.7 92.8 L554.1 92.1 L554.4 91.3 L554.6 90.8 L554.8 90.4 L555.1 89.2 L555.5 87.8 L555.7 86.8 L555.9 86.2 L556.2 84.5 L556.6 82.5 L556.9 80.9 L556.9 80.4 L557.3 78.1 L557.7 75.7 L558.0 73.5 L558.0 73.1 L558.4 70.6 L558.7 68.2 L559.1 66.1 L559.1 65.9 L559.5 63.8 L559.8 61.8 L560.2 59.9 L560.2 59.8 L560.5 58.1 L560.9 56.5 L561.3 55.0 L561.3 54.9 L561.6 53.8 L562.0 52.6 L562.3 51.6 L562.4 51.4 L562.7 50.8 L563.0 50.0 L563.4 49.3 L563.5 49.1 L563.8 48.7 L564.1 48.1 L564.5 47.7 L564.6 47.6 L564.8 47.4 L565.2 47.3 L565.6 47.3 L565.7 47.4 L565.9 47.5 L566.3 47.7 L566.6 48.1 L566.8 48.4 L567.0 48.7 L567.4 49.3 L567.7 50.1 L568.0 50.7 L568.1 51.1 L568.4 52.3 L568.8 53.8 L569.1 55.1 L569.2 55.6 L569.5 57.5 L569.9 59.5 L570.2 61.1 L570.2 61.4 L570.6 63.3 L571.0 65.0 L571.3 66.4 L571.3 66.5 L571.7 67.9 L572.0 69.1 L572.4 70.3 L572.4 70.3 L572.8 71.5 L573.1 72.5 L573.5 73.6 L573.5 73.7 L573.8 74.6 L574.2 75.6 L574.5 76.6 L574.6 76.8 L574.9 77.6 L575.3 78.6 L575.6 79.6 L575.7 79.8 L576.0 80.6 L576.3 81.6 L576.7 82.6 L576.8 83.0 L577.1 83.6 L577.4 84.6 L577.8 85.7 L577.9 86.1 L578.1 86.7 L578.5 87.7 L578.9 88.8 L579.1 89.3 L579.2 89.8 L579.6 90.8 L579.9 91.8 L580.2 92.4 L580.3 92.8 L580.7 93.8 L581.0 94.8 L581.3 95.5 L581.4 95.8 L581.7 96.7 L582.1 97.7 L582.4 98.4 L582.5 98.6 L582.8 99.5 L583.2 100.4 L583.5 101.2 L583.5 101.3 L583.9 102.1 L584.3 103.0 L584.6 103.8 L584.6 103.8 L585.0 104.7 L585.3 105.6 L585.7 106.4 L585.7 106.5 L586.0 107.3 L586.4 108.3 L586.8 109.2 L586.8 109.4 L587.1 110.2 L587.5 111.3 L587.8 112.4 L587.9 112.6 L588.2 113.5 L588.6 114.6 L589.0 116.2 L590.2 120.1 L591.3 124.1 L592.4 128.2 L593.5 132.2 L594.6 136.0 L595.7 139.7 L596.8 143.1 L597.9 146.5 L599.0 149.8 L600.1 152.8 L601.3 155.7 L602.4 158.5 L603.5 161.2 L604.6 163.7 L605.7 166.2 L606.8 168.6 L607.9 170.9 L609.0 173.1 L610.1 175.2 L611.2 177.2 L612.4 179.1 L613.5 181.0 L614.6 182.7 L615.7 184.4 L616.8 186.0 L617.9 187.5 L619.0 189.0 L620.1 190.4 L621.2 191.8 L622.3 193.2 L623.5 194.5 L624.6 195.8 L625.7 197.0 L626.8 198.3 L627.9 199.5 L629.0 200.6 L630.1 201.8 L631.2 202.9 L632.3 204.0 L633.4 205.0 L634.6 206.1 L635.7 207.0 L636.8 208.0 L637.9 209.0 L639.0 209.9 L640.1 210.7 L641.2 211.6 L642.3 212.4 L643.4 213.3 L644.5 214.1 L645.7 214.8 L646.8 215.6 L647.9 216.3 L649.0 217.0 L650.1 217.6 L651.2 218.2 L652.3 218.8 L653.4 219.4 L654.5 220.0 L655.6 220.5 L656.8 221.0 L657.9 221.5 L659.0 221.9 L660.1 222.4 L661.2 222.8 L662.3 223.2 L663.4 223.6 L664.5 224.0 L665.6 224.4 L666.7 224.8 L667.9 225.1 L669.0 225.4 L670.1 225.8 L671.2 226.1 L672.3 226.4" stroke="#2a2ae0" stroke-width="1.8"/>
<path d="M384.8 236.7 L385.9 236.7 L387.0 236.6 L388.1 236.5 L389.2 236.5 L390.4 236.4 L391.5 236.3 L392.6 236.3 L393.7 236.2 L394.8 236.1 L395.9 236.1 L397.0 236.0 L398.1 235.9 L399.2 235.9 L400.3 235.8 L401.5 235.7 L402.6 235.6 L403.7 235.6 L404.8 235.5 L405.9 235.4 L407.0 235.3 L408.1 235.3 L409.2 235.2 L410.3 235.1 L411.4 235.0 L412.6 234.9 L413.7 234.9 L414.8 234.8 L415.9 234.7 L417.0 234.6 L418.1 234.5 L419.2 234.4 L420.3 234.3 L421.4 234.2 L422.5 234.1 L423.7 234.0 L424.8 233.9 L425.9 233.7 L427.0 233.6 L428.1 233.5 L429.2 233.4 L430.3 233.2 L431.4 233.1 L432.5 232.9 L433.6 232.8 L434.8 232.6 L435.9 232.5 L437.0 232.3 L438.1 232.1 L439.2 232.0 L440.3 231.8 L441.4 231.6 L442.5 231.5 L443.6 231.3 L444.7 231.1 L445.9 230.9 L447.0 230.7 L448.1 230.5 L449.2 230.3 L450.3 230.1 L451.4 229.9 L452.5 229.7 L453.6 229.4 L454.7 229.2 L455.8 228.9 L457.0 228.6 L458.1 228.3 L459.2 228.0 L460.3 227.7 L461.4 227.4 L462.5 227.0 L463.6 226.7 L464.7 226.3 L465.8 225.9 L466.9 225.5 L468.1 225.1 L469.2 224.7 L470.3 224.3 L471.4 223.9 L472.5 223.4 L473.6 223.0 L474.7 222.5 L475.8 222.0 L476.9 221.5 L478.0 221.0 L479.2 220.5 L480.3 219.9 L481.4 219.3 L482.5 218.7 L483.6 218.1 L484.7 217.5 L485.8 216.8 L486.9 216.1 L488.0 215.4 L489.1 214.7 L490.3 214.0 L491.4 213.2 L492.5 212.4 L493.6 211.6 L494.7 210.7 L495.8 209.9 L496.9 209.0 L498.0 208.1 L499.1 207.1 L500.2 206.2 L501.4 205.2 L502.5 204.1 L503.6 203.1 L504.7 202.0 L505.8 200.8 L506.9 199.6 L508.0 198.4 L509.1 197.0 L510.2 195.6 L511.3 194.1 L512.5 192.5 L513.6 190.8 L514.7 189.0 L515.8 187.1 L516.9 185.1 L518.0 183.0 L519.1 180.9 L520.2 178.7 L521.3 176.5 L522.4 174.2 L523.6 171.8 L524.7 169.3 L525.8 166.8 L526.9 164.2 L528.0 161.5 L529.1 158.8 L530.2 156.1 L531.3 153.3 L532.4 150.5 L533.5 147.7 L534.7 144.9 L535.8 142.2 L536.9 139.5 L538.0 136.8 L539.1 134.1 L540.2 131.4 L541.3 128.7 L542.4 125.9 L543.5 123.2 L544.6 120.4 L545.8 117.5 L545.8 117.4 L546.2 116.5 L546.5 115.6 L546.9 114.7 L546.9 114.7 L547.2 113.8 L547.6 112.9 L548.0 112.0 L548.0 112.0 L548.3 111.1 L548.7 110.3 L549.0 109.5 L549.1 109.4 L549.4 108.7 L549.8 107.9 L550.1 107.2 L550.2 107.0 L550.5 106.5 L550.8 105.8 L551.2 105.2 L551.3 105.0 L551.5 104.5 L551.9 103.9 L552.3 103.4 L552.4 103.1 L552.6 102.8 L553.0 102.3 L553.3 101.8 L553.5 101.5 L553.7 101.3 L554.1 100.8 L554.4 100.3 L554.6 100.1 L554.8 99.9 L555.1 99.5 L555.5 99.1 L555.7 98.8 L555.9 98.6 L556.2 98.1 L556.6 97.6 L556.9 97.2 L556.9 97.0 L557.3 96.4 L557.7 95.6 L558.0 94.9 L558.0 94.7 L558.4 93.7 L558.7 92.6 L559.1 91.4 L559.1 91.3 L559.5 89.9 L559.8 88.4 L560.2 86.8 L560.2 86.8 L560.5 85.1 L560.9 83.4 L561.3 81.5 L561.3 81.3 L561.6 79.6 L562.0 77.6 L562.3 75.4 L562.4 75.0 L562.7 73.3 L563.0 71.1 L563.4 69.0 L563.5 68.4 L563.8 67.0 L564.1 65.2 L564.5 63.4 L564.6 62.7 L564.8 61.7 L565.2 60.0 L565.6 58.4 L565.7 57.7 L565.9 56.9 L566.3 55.5 L566.6 54.1 L566.8 53.3 L567.0 52.7 L567.4 51.4 L567.7 50.2 L568.0 49.4 L568.1 49.0 L568.4 47.8 L568.8 46.8 L569.1 46.0 L569.2 45.8 L569.5 44.9 L569.9 44.3 L570.2 43.8 L570.2 43.7 L570.6 43.3 L571.0 43.0 L571.3 42.9 L571.3 42.8 L571.7 42.8 L572.0 42.8 L572.4 43.1 L572.4 43.1 L572.8 43.6 L573.1 44.3 L573.5 45.4 L573.5 45.5 L573.8 46.6 L574.2 48.1 L574.5 49.9 L574.6 50.2 L574.9 51.7 L575.3 53.7 L575.6 55.6 L575.7 56.1 L576.0 57.5 L576.3 59.2 L576.7 60.9 L576.8 61.5 L577.1 62.5 L577.4 64.1 L577.8 65.8 L577.9 66.6 L578.1 67.5 L578.5 69.3 L578.9 71.1 L579.1 72.1 L579.2 73.0 L579.6 74.9 L579.9 76.7 L580.2 77.9 L580.3 78.5 L580.7 80.3 L581.0 82.1 L581.3 83.3 L581.4 83.8 L581.7 85.4 L582.1 87.1 L582.4 88.4 L582.5 88.7 L582.8 90.2 L583.2 91.7 L583.5 93.1 L583.5 93.2 L583.9 94.7 L584.3 96.1 L584.6 97.4 L584.6 97.4 L585.0 98.7 L585.3 100.0 L585.7 101.3 L585.7 101.4 L586.0 102.5 L586.4 103.7 L586.8 104.9 L586.8 105.0 L587.1 106.0 L587.5 107.1 L587.8 108.3 L587.9 108.5 L588.2 109.4 L588.6 110.4 L589.0 111.9 L590.2 115.1 L591.3 118.3 L592.4 121.5 L593.5 124.7 L594.6 127.9 L595.7 131.2 L596.8 134.4 L597.9 137.6 L599.0 140.8 L600.1 143.9 L601.3 147.0 L602.4 149.9 L603.5 152.8 L604.6 155.6 L605.7 158.3 L606.8 161.0 L607.9 163.5 L609.0 166.0 L610.1 168.4 L611.2 170.7 L612.4 172.9 L613.5 175.0 L614.6 177.1 L615.7 179.1 L616.8 180.9 L617.9 182.8 L619.0 184.5 L620.1 186.2 L621.2 187.8 L622.3 189.4 L623.5 190.9 L624.6 192.4 L625.7 193.8 L626.8 195.2 L627.9 196.6 L629.0 198.0 L630.1 199.3 L631.2 200.6 L632.3 201.8 L633.4 203.1 L634.6 204.2 L635.7 205.4 L636.8 206.5 L637.9 207.6 L639.0 208.6 L640.1 209.6 L641.2 210.6 L642.3 211.5 L643.4 212.4 L644.5 213.3 L645.7 214.1 L646.8 214.9 L647.9 215.7 L649.0 216.4 L650.1 217.1 L651.2 217.8 L652.3 218.5 L653.4 219.1 L654.5 219.7 L655.6 220.2 L656.8 220.8 L657.9 221.3 L659.0 221.8 L660.1 222.2 L661.2 222.7 L662.3 223.1 L663.4 223.5 L664.5 223.9 L665.6 224.3 L666.7 224.7 L667.9 225.0 L669.0 225.4 L670.1 225.7 L671.2 226.0 L672.3 226.3" stroke="#dc2ad8" stroke-width="2.0"/>
<path d="M384.8 236.7 L385.9 236.7 L387.0 236.6 L388.1 236.5 L389.2 236.5 L390.4 236.4 L391.5 236.3 L392.6 236.3 L393.7 236.2 L394.8 236.1 L395.9 236.1 L397.0 236.0 L398.1 235.9 L399.2 235.9 L400.3 235.8 L401.5 235.7 L402.6 235.6 L403.7 235.6 L404.8 235.5 L405.9 235.4 L407.0 235.3 L408.1 235.3 L409.2 235.2 L410.3 235.1 L411.4 235.0 L412.6 234.9 L413.7 234.9 L414.8 234.8 L415.9 234.7 L417.0 234.6 L418.1 234.5 L419.2 234.4 L420.3 234.3 L421.4 234.2 L422.5 234.1 L423.7 234.0 L424.8 233.9 L425.9 233.7 L427.0 233.6 L428.1 233.5 L429.2 233.4 L430.3 233.2 L431.4 233.1 L432.5 232.9 L433.6 232.8 L434.8 232.6 L435.9 232.5 L437.0 232.3 L438.1 232.1 L439.2 232.0 L440.3 231.8 L441.4 231.6 L442.5 231.5 L443.6 231.3 L444.7 231.1 L445.9 230.9 L447.0 230.7 L448.1 230.5 L449.2 230.3 L450.3 230.1 L451.4 229.8 L452.5 229.6 L453.6 229.3 L454.7 229.1 L455.8 228.8 L457.0 228.5 L458.1 228.2 L459.2 227.9 L460.3 227.6 L461.4 227.2 L462.5 226.8 L463.6 226.5 L464.7 226.1 L465.8 225.7 L466.9 225.3 L468.1 224.8 L469.2 224.4 L470.3 224.0 L471.4 223.5 L472.5 223.0 L473.6 222.5 L474.7 222.0 L475.8 221.5 L476.9 221.0 L478.0 220.4 L479.2 219.8 L480.3 219.2 L481.4 218.6 L482.5 218.0 L483.6 217.3 L484.7 216.6 L485.8 215.9 L486.9 215.2 L488.0 214.4 L489.1 213.6 L490.3 212.8 L491.4 212.0 L492.5 211.2 L493.6 210.3 L494.7 209.4 L495.8 208.5 L496.9 207.5 L498.0 206.6 L499.1 205.6 L500.2 204.5 L501.4 203.5 L502.5 202.4 L503.6 201.2 L504.7 200.0 L505.8 198.8 L506.9 197.5 L508.0 196.1 L509.1 194.6 L510.2 193.0 L511.3 191.3 L512.5 189.5 L513.6 187.6 L514.7 185.6 L515.8 183.5 L516.9 181.3 L518.0 179.1 L519.1 176.9 L520.2 174.5 L521.3 172.1 L522.4 169.6 L523.6 166.9 L524.7 164.2 L525.8 161.4 L526.9 158.4 L528.0 155.4 L529.1 152.3 L530.2 149.1 L531.3 145.9 L532.4 142.6 L533.5 139.4 L534.7 136.1 L535.8 132.8 L536.9 129.6 L538.0 126.4 L539.1 123.2 L540.2 120.1 L541.3 117.0 L542.4 114.0 L543.5 111.1 L544.6 108.4 L545.8 105.9 L545.8 105.8 L546.2 105.1 L546.5 104.3 L546.9 103.6 L546.9 103.6 L547.2 102.9 L547.6 102.2 L548.0 101.6 L548.0 101.6 L548.3 101.0 L548.7 100.4 L549.0 99.8 L549.1 99.7 L549.4 99.2 L549.8 98.7 L550.1 98.1 L550.2 98.0 L550.5 97.6 L550.8 97.1 L551.2 96.6 L551.3 96.4 L551.5 96.1 L551.9 95.6 L552.3 95.1 L552.4 94.9 L552.6 94.6 L553.0 94.0 L553.3 93.5 L553.5 93.2 L553.7 92.8 L554.1 92.1 L554.4 91.3 L554.6 90.8 L554.8 90.4 L555.1 89.2 L555.5 87.8 L555.7 86.8 L555.9 86.2 L556.2 84.5 L556.6 82.5 L556.9 80.9 L556.9 80.4 L557.3 78.1 L557.7 75.6 L558.0 73.4 L558.0 73.1 L558.4 70.6 L558.7 68.3 L559.1 66.2 L559.1 66.1 L559.5 64.2 L559.8 62.5 L560.2 60.9 L560.2 60.8 L560.5 59.4 L560.9 58.1 L561.3 56.8 L561.3 56.7 L561.6 55.7 L562.0 54.7 L562.3 53.8 L562.4 53.6 L562.7 53.0 L563.0 52.2 L563.4 51.5 L563.5 51.3 L563.8 50.9 L564.1 50.3 L564.5 49.9 L564.6 49.8 L564.8 49.7 L565.2 49.6 L565.6 49.6 L565.7 49.7 L565.9 49.8 L566.3 50.1 L566.6 50.5 L566.8 50.8 L567.0 51.0 L567.4 51.6 L567.7 52.4 L568.0 53.0 L568.1 53.3 L568.4 54.5 L568.8 55.8 L569.1 57.0 L569.2 57.4 L569.5 59.1 L569.9 60.8 L570.2 62.3 L570.2 62.6 L570.6 64.2 L571.0 65.7 L571.3 67.0 L571.3 67.1 L571.7 68.3 L572.0 69.5 L572.4 70.6 L572.4 70.7 L572.8 71.7 L573.1 72.8 L573.5 73.8 L573.5 73.9 L573.8 74.8 L574.2 75.7 L574.5 76.7 L574.6 76.9 L574.9 77.7 L575.3 78.6 L575.6 79.6 L575.7 79.9 L576.0 80.6 L576.3 81.6 L576.7 82.6 L576.8 82.9 L577.1 83.6 L577.4 84.6 L577.8 85.6 L577.9 86.1 L578.1 86.7 L578.5 87.7 L578.9 88.7 L579.1 89.3 L579.2 89.7 L579.6 90.8 L579.9 91.8 L580.2 92.4 L580.3 92.8 L580.7 93.8 L581.0 94.8 L581.3 95.5 L581.4 95.7 L581.7 96.7 L582.1 97.7 L582.4 98.4 L582.5 98.6 L582.8 99.5 L583.2 100.4 L583.5 101.2 L583.5 101.3 L583.9 102.1 L584.3 103.0 L584.6 103.8 L584.6 103.8 L585.0 104.7 L585.3 105.6 L585.7 106.4 L585.7 106.5 L586.0 107.3 L586.4 108.3 L586.8 109.2 L586.8 109.4 L587.1 110.2 L587.5 111.3 L587.8 112.4 L587.9 112.6 L588.2 113.5 L588.6 114.6 L589.0 116.2 L590.2 120.1 L591.3 124.1 L592.4 128.2 L593.5 132.2 L594.6 136.0 L595.7 139.7 L596.8 143.1 L597.9 146.5 L599.0 149.8 L600.1 152.8 L601.3 155.7 L602.4 158.5 L603.5 161.2 L604.6 163.7 L605.7 166.2 L606.8 168.6 L607.9 170.9 L609.0 173.1 L610.1 175.2 L611.2 177.2 L612.4 179.1 L613.5 181.0 L614.6 182.7 L615.7 184.4 L616.8 186.0 L617.9 187.5 L619.0 189.0 L620.1 190.4 L621.2 191.8 L622.3 193.2 L623.5 194.5 L624.6 195.8 L625.7 197.0 L626.8 198.3 L627.9 199.5 L629.0 200.6 L630.1 201.8 L631.2 202.9 L632.3 204.0 L633.4 205.0 L634.6 206.1 L635.7 207.0 L636.8 208.0 L637.9 209.0 L639.0 209.9 L640.1 210.7 L641.2 211.6 L642.3 212.4 L643.4 213.3 L644.5 214.1 L645.7 214.8 L646.8 215.6 L647.9 216.3 L649.0 217.0 L650.1 217.6 L651.2 218.2 L652.3 218.8 L653.4 219.4 L654.5 220.0 L655.6 220.5 L656.8 221.0 L657.9 221.5 L659.0 221.9 L660.1 222.4 L661.2 222.8 L662.3 223.2 L663.4 223.6 L664.5 224.0 L665.6 224.4 L666.7 224.8 L667.9 225.1 L669.0 225.4 L670.1 225.8 L671.2 226.1 L672.3 226.4" stroke="#1e8a2a" stroke-width="1.8"/>
<path d="M384.8 236.7 L385.9 236.7 L387.0 236.6 L388.1 236.5 L389.2 236.5 L390.4 236.4 L391.5 236.3 L392.6 236.3 L393.7 236.2 L394.8 236.1 L395.9 236.1 L397.0 236.0 L398.1 235.9 L399.2 235.9 L400.3 235.8 L401.5 235.7 L402.6 235.6 L403.7 235.6 L404.8 235.5 L405.9 235.4 L407.0 235.3 L408.1 235.3 L409.2 235.2 L410.3 235.1 L411.4 235.0 L412.6 234.9 L413.7 234.9 L414.8 234.8 L415.9 234.7 L417.0 234.6 L418.1 234.5 L419.2 234.4 L420.3 234.3 L421.4 234.2 L422.5 234.1 L423.7 234.0 L424.8 233.9 L425.9 233.7 L427.0 233.6 L428.1 233.5 L429.2 233.4 L430.3 233.2 L431.4 233.1 L432.5 232.9 L433.6 232.8 L434.8 232.6 L435.9 232.5 L437.0 232.3 L438.1 232.1 L439.2 232.0 L440.3 231.8 L441.4 231.6 L442.5 231.5 L443.6 231.3 L444.7 231.1 L445.9 230.9 L447.0 230.7 L448.1 230.5 L449.2 230.3 L450.3 230.1 L451.4 229.8 L452.5 229.6 L453.6 229.3 L454.7 229.1 L455.8 228.8 L457.0 228.5 L458.1 228.2 L459.2 227.9 L460.3 227.6 L461.4 227.2 L462.5 226.8 L463.6 226.5 L464.7 226.1 L465.8 225.7 L466.9 225.3 L468.1 224.8 L469.2 224.4 L470.3 224.0 L471.4 223.5 L472.5 223.0 L473.6 222.5 L474.7 222.0 L475.8 221.5 L476.9 221.0 L478.0 220.4 L479.2 219.8 L480.3 219.2 L481.4 218.6 L482.5 218.0 L483.6 217.3 L484.7 216.6 L485.8 215.9 L486.9 215.2 L488.0 214.4 L489.1 213.6 L490.3 212.8 L491.4 212.0 L492.5 211.2 L493.6 210.3 L494.7 209.4 L495.8 208.5 L496.9 207.5 L498.0 206.6 L499.1 205.6 L500.2 204.5 L501.4 203.5 L502.5 202.4 L503.6 201.2 L504.7 200.0 L505.8 198.8 L506.9 197.5 L508.0 196.1 L509.1 194.6 L510.2 193.0 L511.3 191.3 L512.5 189.5 L513.6 187.6 L514.7 185.6 L515.8 183.5 L516.9 181.3 L518.0 179.1 L519.1 176.9 L520.2 174.5 L521.3 172.1 L522.4 169.6 L523.6 166.9 L524.7 164.2 L525.8 161.4 L526.9 158.4 L528.0 155.4 L529.1 152.3 L530.2 149.1 L531.3 145.9 L532.4 142.6 L533.5 139.4 L534.7 136.1 L535.8 132.8 L536.9 129.6 L538.0 126.4 L539.1 123.2 L540.2 120.1 L541.3 117.0 L542.4 114.0 L543.5 111.1 L544.6 108.4 L545.8 105.9 L545.8 105.8 L546.2 105.1 L546.5 104.3 L546.9 103.6 L546.9 103.6 L547.2 102.9 L547.6 102.2 L548.0 101.6 L548.0 101.6 L548.3 101.0 L548.7 100.4 L549.0 99.8 L549.1 99.7 L549.4 99.2 L549.8 98.7 L550.1 98.1 L550.2 98.0 L550.5 97.6 L550.8 97.1 L551.2 96.6 L551.3 96.4 L551.5 96.1 L551.9 95.6 L552.3 95.1 L552.4 94.9 L552.6 94.6 L553.0 94.0 L553.3 93.5 L553.5 93.2 L553.7 92.8 L554.1 92.1 L554.4 91.3 L554.6 90.8 L554.8 90.4 L555.1 89.2 L555.5 87.8 L555.7 86.8 L555.9 86.2 L556.2 84.5 L556.6 82.5 L556.9 80.9 L556.9 80.4 L557.3 78.1 L557.7 75.7 L558.0 73.5 L558.0 73.2 L558.4 70.6 L558.7 68.2 L559.1 66.0 L559.1 65.9 L559.5 63.7 L559.8 61.7 L560.2 59.7 L560.2 59.7 L560.5 57.9 L560.9 56.2 L561.3 54.7 L561.3 54.6 L561.6 53.5 L562.0 52.3 L562.3 51.4 L562.4 51.2 L562.7 50.6 L563.0 49.8 L563.4 49.2 L563.5 49.0 L563.8 48.6 L564.1 48.1 L564.5 47.6 L564.6 47.5 L564.8 47.3 L565.2 47.1 L565.6 47.0 L565.7 47.0 L565.9 47.0 L566.3 47.2 L566.6 47.5 L566.8 47.8 L567.0 48.0 L567.4 48.7 L567.7 49.5 L568.0 50.0 L568.1 50.4 L568.4 51.5 L568.8 53.0 L569.1 54.2 L569.2 54.6 L569.5 56.6 L569.9 58.6 L570.2 60.4 L570.2 60.7 L570.6 62.7 L571.0 64.5 L571.3 66.1 L571.3 66.2 L571.7 67.6 L572.0 69.0 L572.4 70.2 L572.4 70.2 L572.8 71.4 L573.1 72.5 L573.5 73.6 L573.5 73.7 L573.8 74.6 L574.2 75.6 L574.5 76.6 L574.6 76.8 L574.9 77.6 L575.3 78.6 L575.6 79.5 L575.7 79.8 L576.0 80.5 L576.3 81.6 L576.7 82.6 L576.8 83.0 L577.1 83.6 L577.4 84.7 L577.8 85.7 L577.9 86.2 L578.1 86.7 L578.5 87.8 L578.9 88.8 L579.1 89.3 L579.2 89.8 L579.6 90.8 L579.9 91.8 L580.2 92.4 L580.3 92.8 L580.7 93.8 L581.0 94.8 L581.3 95.5 L581.4 95.8 L581.7 96.7 L582.1 97.7 L582.4 98.4 L582.5 98.6 L582.8 99.5 L583.2 100.4 L583.5 101.2 L583.5 101.3 L583.9 102.1 L584.3 103.0 L584.6 103.8 L584.6 103.8 L585.0 104.7 L585.3 105.6 L585.7 106.4 L585.7 106.5 L586.0 107.3 L586.4 108.3 L586.8 109.2 L586.8 109.4 L587.1 110.2 L587.5 111.3 L587.8 112.4 L587.9 112.6 L588.2 113.5 L588.6 114.6 L589.0 116.2 L590.2 120.1 L591.3 124.1 L592.4 128.2 L593.5 132.2 L594.6 136.0 L595.7 139.7 L596.8 143.1 L597.9 146.5 L599.0 149.8 L600.1 152.8 L601.3 155.7 L602.4 158.5 L603.5 161.2 L604.6 163.7 L605.7 166.2 L606.8 168.6 L607.9 170.9 L609.0 173.1 L610.1 175.2 L611.2 177.2 L612.4 179.1 L613.5 181.0 L614.6 182.7 L615.7 184.4 L616.8 186.0 L617.9 187.5 L619.0 189.0 L620.1 190.4 L621.2 191.8 L622.3 193.2 L623.5 194.5 L624.6 195.8 L625.7 197.0 L626.8 198.3 L627.9 199.5 L629.0 200.6 L630.1 201.8 L631.2 202.9 L632.3 204.0 L633.4 205.0 L634.6 206.1 L635.7 207.0 L636.8 208.0 L637.9 209.0 L639.0 209.9 L640.1 210.7 L641.2 211.6 L642.3 212.4 L643.4 213.3 L644.5 214.1 L645.7 214.8 L646.8 215.6 L647.9 216.3 L649.0 217.0 L650.1 217.6 L651.2 218.2 L652.3 218.8 L653.4 219.4 L654.5 220.0 L655.6 220.5 L656.8 221.0 L657.9 221.5 L659.0 221.9 L660.1 222.4 L661.2 222.8 L662.3 223.2 L663.4 223.6 L664.5 224.0 L665.6 224.4 L666.7 224.8 L667.9 225.1 L669.0 225.4 L670.1 225.8 L671.2 226.1 L672.3 226.4" stroke="#1c1670" stroke-width="2.0"/>
<path d="M384.8 236.7 L385.9 236.7 L387.0 236.6 L388.1 236.5 L389.2 236.5 L390.4 236.4 L391.5 236.3 L392.6 236.3 L393.7 236.2 L394.8 236.1 L395.9 236.1 L397.0 236.0 L398.1 235.9 L399.2 235.9 L400.3 235.8 L401.5 235.7 L402.6 235.6 L403.7 235.6 L404.8 235.5 L405.9 235.4 L407.0 235.3 L408.1 235.3 L409.2 235.2 L410.3 235.1 L411.4 235.0 L412.6 234.9 L413.7 234.9 L414.8 234.8 L415.9 234.7 L417.0 234.6 L418.1 234.5 L419.2 234.4 L420.3 234.3 L421.4 234.2 L422.5 234.1 L423.7 234.0 L424.8 233.9 L425.9 233.7 L427.0 233.6 L428.1 233.5 L429.2 233.4 L430.3 233.2 L431.4 233.1 L432.5 232.9 L433.6 232.8 L434.8 232.6 L435.9 232.5 L437.0 232.3 L438.1 232.1 L439.2 232.0 L440.3 231.8 L441.4 231.6 L442.5 231.5 L443.6 231.3 L444.7 231.1 L445.9 230.9 L447.0 230.7 L448.1 230.5 L449.2 230.3 L450.3 230.1 L451.4 229.8 L452.5 229.6 L453.6 229.3 L454.7 229.1 L455.8 228.8 L457.0 228.5 L458.1 228.2 L459.2 227.9 L460.3 227.6 L461.4 227.2 L462.5 226.8 L463.6 226.5 L464.7 226.1 L465.8 225.7 L466.9 225.3 L468.1 224.8 L469.2 224.4 L470.3 224.0 L471.4 223.5 L472.5 223.0 L473.6 222.5 L474.7 222.0 L475.8 221.5 L476.9 221.0 L478.0 220.4 L479.2 219.8 L480.3 219.2 L481.4 218.6 L482.5 218.0 L483.6 217.3 L484.7 216.6 L485.8 215.9 L486.9 215.2 L488.0 214.4 L489.1 213.6 L490.3 212.8 L491.4 212.0 L492.5 211.2 L493.6 210.3 L494.7 209.4 L495.8 208.5 L496.9 207.5 L498.0 206.6 L499.1 205.6 L500.2 204.5 L501.4 203.5 L502.5 202.4 L503.6 201.2 L504.7 200.0 L505.8 198.8 L506.9 197.5 L508.0 196.1 L509.1 194.6 L510.2 193.0 L511.3 191.3 L512.5 189.5 L513.6 187.6 L514.7 185.6 L515.8 183.5 L516.9 181.3 L518.0 179.1 L519.1 176.9 L520.2 174.5 L521.3 172.1 L522.4 169.6 L523.6 166.9 L524.7 164.2 L525.8 161.4 L526.9 158.4 L528.0 155.4 L529.1 152.3 L530.2 149.1 L531.3 145.9 L532.4 142.6 L533.5 139.4 L534.7 136.1 L535.8 132.8 L536.9 129.6 L538.0 126.4 L539.1 123.2 L540.2 120.1 L541.3 117.0 L542.4 114.0 L543.5 111.1 L544.6 108.4 L545.8 105.9 L545.8 105.8 L546.2 105.1 L546.5 104.3 L546.9 103.6 L546.9 103.6 L547.2 102.9 L547.6 102.2 L548.0 101.6 L548.0 101.6 L548.3 101.0 L548.7 100.4 L549.0 99.8 L549.1 99.7 L549.4 99.2 L549.8 98.7 L550.1 98.1 L550.2 98.0 L550.5 97.6 L550.8 97.1 L551.2 96.6 L551.3 96.4 L551.5 96.1 L551.9 95.6 L552.3 95.1 L552.4 94.9 L552.6 94.6 L553.0 94.0 L553.3 93.5 L553.5 93.2 L553.7 92.8 L554.1 92.1 L554.4 91.3 L554.6 90.8 L554.8 90.4 L555.1 89.2 L555.5 87.8 L555.7 86.8 L555.9 86.2 L556.2 84.5 L556.6 82.5 L556.9 80.9 L556.9 80.4 L557.3 78.1 L557.7 75.6 L558.0 73.5 L558.0 73.1 L558.4 70.6 L558.7 68.2 L559.1 66.1 L559.1 66.0 L559.5 64.0 L559.8 62.1 L560.2 60.3 L560.2 60.3 L560.5 58.7 L560.9 57.2 L561.3 55.8 L561.3 55.7 L561.6 54.6 L562.0 53.5 L562.3 52.5 L562.4 52.3 L562.7 51.6 L563.0 50.8 L563.4 50.1 L563.5 49.9 L563.8 49.4 L564.1 48.9 L564.5 48.6 L564.6 48.5 L564.8 48.3 L565.2 48.3 L565.6 48.4 L565.7 48.5 L565.9 48.7 L566.3 49.0 L566.6 49.5 L566.8 49.9 L567.0 50.1 L567.4 50.9 L567.7 51.7 L568.0 52.4 L568.1 52.8 L568.4 54.1 L568.8 55.6 L569.1 56.8 L569.2 57.2 L569.5 59.0 L569.9 60.8 L570.2 62.2 L570.2 62.5 L570.6 64.2 L571.0 65.7 L571.3 67.0 L571.3 67.1 L571.7 68.4 L572.0 69.5 L572.4 70.7 L572.4 70.7 L572.8 71.7 L573.1 72.8 L573.5 73.8 L573.5 73.9 L573.8 74.8 L574.2 75.8 L574.5 76.7 L574.6 76.9 L574.9 77.7 L575.3 78.6 L575.6 79.6 L575.7 79.9 L576.0 80.6 L576.3 81.6 L576.7 82.6 L576.8 82.9 L577.1 83.6 L577.4 84.6 L577.8 85.6 L577.9 86.1 L578.1 86.7 L578.5 87.7 L578.9 88.7 L579.1 89.3 L579.2 89.7 L579.6 90.8 L579.9 91.8 L580.2 92.4 L580.3 92.8 L580.7 93.8 L581.0 94.8 L581.3 95.5 L581.4 95.7 L581.7 96.7 L582.1 97.7 L582.4 98.4 L582.5 98.6 L582.8 99.5 L583.2 100.4 L583.5 101.2 L583.5 101.3 L583.9 102.1 L584.3 103.0 L584.6 103.8 L584.6 103.8 L585.0 104.7 L585.3 105.6 L585.7 106.4 L585.7 106.5 L586.0 107.3 L586.4 108.3 L586.8 109.2 L586.8 109.4 L587.1 110.2 L587.5 111.3 L587.8 112.4 L587.9 112.6 L588.2 113.5 L588.6 114.6 L589.0 116.2 L590.2 120.1 L591.3 124.1 L592.4 128.2 L593.5 132.2 L594.6 136.0 L595.7 139.7 L596.8 143.1 L597.9 146.5 L599.0 149.8 L600.1 152.8 L601.3 155.7 L602.4 158.5 L603.5 161.2 L604.6 163.7 L605.7 166.2 L606.8 168.6 L607.9 170.9 L609.0 173.1 L610.1 175.2 L611.2 177.2 L612.4 179.1 L613.5 181.0 L614.6 182.7 L615.7 184.4 L616.8 186.0 L617.9 187.5 L619.0 189.0 L620.1 190.4 L621.2 191.8 L622.3 193.2 L623.5 194.5 L624.6 195.8 L625.7 197.0 L626.8 198.3 L627.9 199.5 L629.0 200.6 L630.1 201.8 L631.2 202.9 L632.3 204.0 L633.4 205.0 L634.6 206.1 L635.7 207.0 L636.8 208.0 L637.9 209.0 L639.0 209.9 L640.1 210.7 L641.2 211.6 L642.3 212.4 L643.4 213.3 L644.5 214.1 L645.7 214.8 L646.8 215.6 L647.9 216.3 L649.0 217.0 L650.1 217.6 L651.2 218.2 L652.3 218.8 L653.4 219.4 L654.5 220.0 L655.6 220.5 L656.8 221.0 L657.9 221.5 L659.0 221.9 L660.1 222.4 L661.2 222.8 L662.3 223.2 L663.4 223.6 L664.5 224.0 L665.6 224.4 L666.7 224.8 L667.9 225.1 L669.0 225.4 L670.1 225.8 L671.2 226.1 L672.3 226.4" stroke="#5418c4" stroke-width="2.3"/>
</g>
<line x1="672.3" y1="17.6" x2="672.3" y2="280.8" stroke="#8a8a8a" stroke-width="1.7"/>
<line x1="380.3" y1="17.6" x2="673.1" y2="17.6" stroke="#505050" stroke-width="1.6"/>
<line x1="384.8" y1="16.8" x2="384.8" y2="280.8" stroke="#383838" stroke-width="1.7"/>
<line x1="380.3" y1="275.8" x2="673.1" y2="275.8" stroke="#444444" stroke-width="1.7"/>
<line x1="380.3" y1="275.8" x2="384.8" y2="275.8" stroke="#3c3c3c" stroke-width="1.7"/>
<line x1="382.3" y1="259.66" x2="384.8" y2="259.66" stroke="#3c3c3c" stroke-width="1.7"/>
<line x1="380.3" y1="243.53" x2="384.8" y2="243.53" stroke="#3c3c3c" stroke-width="1.7"/>
<line x1="382.3" y1="227.39" x2="384.8" y2="227.39" stroke="#3c3c3c" stroke-width="1.7"/>
<line x1="380.3" y1="211.25" x2="384.8" y2="211.25" stroke="#3c3c3c" stroke-width="1.7"/>
<line x1="382.3" y1="195.11" x2="384.8" y2="195.11" stroke="#3c3c3c" stroke-width="1.7"/>
<line x1="380.3" y1="178.98" x2="384.8" y2="178.98" stroke="#3c3c3c" stroke-width="1.7"/>
<line x1="382.3" y1="162.84" x2="384.8" y2="162.84" stroke="#3c3c3c" stroke-width="1.7"/>
<line x1="380.3" y1="146.7" x2="384.8" y2="146.7" stroke="#3c3c3c" stroke-width="1.7"/>
<line x1="382.3" y1="130.56" x2="384.8" y2="130.56" stroke="#3c3c3c" stroke-width="1.7"/>
<line x1="380.3" y1="114.43" x2="384.8" y2="114.43" stroke="#3c3c3c" stroke-width="1.7"/>
<line x1="382.3" y1="98.29" x2="384.8" y2="98.29" stroke="#3c3c3c" stroke-width="1.7"/>
<line x1="380.3" y1="82.15" x2="384.8" y2="82.15" stroke="#3c3c3c" stroke-width="1.7"/>
<line x1="382.3" y1="66.01" x2="384.8" y2="66.01" stroke="#3c3c3c" stroke-width="1.7"/>
<line x1="380.3" y1="49.88" x2="384.8" y2="49.88" stroke="#3c3c3c" stroke-width="1.7"/>
<line x1="382.3" y1="33.74" x2="384.8" y2="33.74" stroke="#3c3c3c" stroke-width="1.7"/>
<line x1="380.3" y1="17.6" x2="384.8" y2="17.6" stroke="#3c3c3c" stroke-width="1.7"/>
<line x1="384.8" y1="275.8" x2="384.8" y2="280.8" stroke="#3c3c3c" stroke-width="1.7"/>
<line x1="420.74" y1="275.8" x2="420.74" y2="278.8" stroke="#3c3c3c" stroke-width="1.7"/>
<line x1="456.68" y1="275.8" x2="456.68" y2="280.8" stroke="#3c3c3c" stroke-width="1.7"/>
<line x1="492.61" y1="275.8" x2="492.61" y2="278.8" stroke="#3c3c3c" stroke-width="1.7"/>
<line x1="528.55" y1="275.8" x2="528.55" y2="280.8" stroke="#3c3c3c" stroke-width="1.7"/>
<line x1="564.49" y1="275.8" x2="564.49" y2="278.8" stroke="#3c3c3c" stroke-width="1.7"/>
<line x1="600.42" y1="275.8" x2="600.42" y2="280.8" stroke="#3c3c3c" stroke-width="1.7"/>
<line x1="636.36" y1="275.8" x2="636.36" y2="278.8" stroke="#3c3c3c" stroke-width="1.7"/>
<text transform="translate(376.6 279.15) scale(0.8 1)" text-anchor="end" font-size="11.6" class="tk">-10</text>
<text transform="translate(376.6 246.88) scale(0.8 1)" text-anchor="end" font-size="11.6" class="tk">0</text>
<text transform="translate(376.6 214.6) scale(0.8 1)" text-anchor="end" font-size="11.6" class="tk">10</text>
<text transform="translate(376.6 182.33) scale(0.8 1)" text-anchor="end" font-size="11.6" class="tk">20</text>
<text transform="translate(376.6 150.05) scale(0.8 1)" text-anchor="end" font-size="11.6" class="tk">30</text>
<text transform="translate(376.6 117.78) scale(0.8 1)" text-anchor="end" font-size="11.6" class="tk">40</text>
<text transform="translate(376.6 85.5) scale(0.8 1)" text-anchor="end" font-size="11.6" class="tk">50</text>
<text transform="translate(376.6 53.23) scale(0.8 1)" text-anchor="end" font-size="11.6" class="tk">60</text>
<text transform="translate(376.6 20.95) scale(0.8 1)" text-anchor="end" font-size="11.6" class="tk">70</text>
<text transform="translate(384.8 294.11) scale(0.8 1)" text-anchor="middle" font-size="11.6" class="tk">250</text>
<text transform="translate(456.68 294.11) scale(0.8 1)" text-anchor="middle" font-size="11.6" class="tk">300</text>
<text transform="translate(528.55 294.11) scale(0.8 1)" text-anchor="middle" font-size="11.6" class="tk">350</text>
<text transform="translate(600.42 294.11) scale(0.8 1)" text-anchor="middle" font-size="11.6" class="tk">400</text>
<text transform="translate(672.3 294.11) scale(0.8 1)" text-anchor="middle" font-size="11.6" class="tk">450</text>
<text transform="translate(528.55 313) scale(0.89 1)" text-anchor="middle" font-size="13.5" class="tt">Crank angle (degree)</text>
<text transform="translate(358.7 146.9) rotate(-90) scale(1 0.85)" text-anchor="middle" font-size="13.45" class="tt">Cylinder pressure (bar)</text>
<rect x="417.6" y="17.6" width="111" height="97.8" fill="#fff" stroke="#6e6e6e" stroke-width="1.1"/>
<line x1="418.5" y1="26.8" x2="440.4" y2="26.8" stroke="#262626" stroke-width="2.0"/>
<text transform="translate(443.2 31) scale(0.85 1)" font-size="11.6" class="lg">Diesel @ 230 IP</text>
<line x1="418.5" y1="40.6" x2="440.4" y2="40.6" stroke="#c04444" stroke-width="2.0"/>
<text transform="translate(443.2 44.8) scale(0.85 1)" font-size="11.6" class="lg">PME-5G @ 230 IP</text>
<line x1="418.5" y1="54.2" x2="440.4" y2="54.2" stroke="#3c3cb0" stroke-width="2.0"/>
<text transform="translate(443.2 58.4) scale(0.85 1)" font-size="11.6" class="lg">NME-5G @ 230 IP</text>
<line x1="418.5" y1="67.8" x2="440.4" y2="67.8" stroke="#cc48d0" stroke-width="2.0"/>
<text transform="translate(443.2 72) scale(0.85 1)" font-size="11.6" class="lg">MME-5G @ 230 IP</text>
<line x1="418.5" y1="81.3" x2="440.4" y2="81.3" stroke="#3a8a40" stroke-width="2.0"/>
<text transform="translate(443.2 85.5) scale(0.85 1)" font-size="11.6" class="lg">JME-5G @ 230 IP</text>
<line x1="418.5" y1="94.6" x2="440.4" y2="94.6" stroke="#2a2a6c" stroke-width="2.0"/>
<text transform="translate(443.2 98.8) scale(0.85 1)" font-size="11.6" class="lg">UME-5G @ 230 IP</text>
<line x1="418.5" y1="107.9" x2="440.4" y2="107.9" stroke="#7a40c8" stroke-width="2.0"/>
<text transform="translate(443.2 112.1) scale(0.85 1)" font-size="11.6" class="lg">DME-5G @ 230 IP</text>
<line x1="380.3" y1="17.6" x2="673.1" y2="17.6" stroke="#505050" stroke-width="1.6"/>
<text transform="translate(643.6 33.4) scale(0.96 1)" font-family='Liberation Serif, serif' font-weight="bold" font-size="16.4" fill="#111">(b)</text>
<clipPath id="clipc"><rect x="214.8" y="340.3" width="285.5" height="250.2"/></clipPath>
<line x1="214.8" y1="557.14" x2="500.3" y2="557.14" stroke="#ececec" stroke-width="1.3"/>
<line x1="214.8" y1="523.78" x2="500.3" y2="523.78" stroke="#ececec" stroke-width="1.3"/>
<line x1="214.8" y1="490.42" x2="500.3" y2="490.42" stroke="#ececec" stroke-width="1.3"/>
<line x1="214.8" y1="457.06" x2="500.3" y2="457.06" stroke="#ececec" stroke-width="1.3"/>
<line x1="214.8" y1="423.7" x2="500.3" y2="423.7" stroke="#ececec" stroke-width="1.3"/>
<line x1="214.8" y1="390.34" x2="500.3" y2="390.34" stroke="#ececec" stroke-width="1.3"/>
<line x1="214.8" y1="356.98" x2="500.3" y2="356.98" stroke="#ececec" stroke-width="1.3"/>
<line x1="250.49" y1="340.3" x2="250.49" y2="590.5" stroke="#eeeeee" stroke-width="1.3"/>
<line x1="321.86" y1="340.3" x2="321.86" y2="590.5" stroke="#eeeeee" stroke-width="1.3"/>
<line x1="393.24" y1="340.3" x2="393.24" y2="590.5" stroke="#eeeeee" stroke-width="1.3"/>
<line x1="464.61" y1="340.3" x2="464.61" y2="590.5" stroke="#eeeeee" stroke-width="1.3"/>
<line x1="214.8" y1="573.82" x2="500.3" y2="573.82" stroke="#d0d0d0" stroke-width="1.5"/>
<line x1="214.8" y1="540.46" x2="500.3" y2="540.46" stroke="#d0d0d0" stroke-width="1.5"/>
<line x1="214.8" y1="507.1" x2="500.3" y2="507.1" stroke="#d0d0d0" stroke-width="1.5"/>
<line x1="214.8" y1="473.74" x2="500.3" y2="473.74" stroke="#d0d0d0" stroke-width="1.5"/>
<line x1="214.8" y1="440.38" x2="500.3" y2="440.38" stroke="#d0d0d0" stroke-width="1.5"/>
<line x1="214.8" y1="407.02" x2="500.3" y2="407.02" stroke="#d0d0d0" stroke-width="1.5"/>
<line x1="214.8" y1="373.66" x2="500.3" y2="373.66" stroke="#d0d0d0" stroke-width="1.5"/>
<line x1="286.18" y1="340.3" x2="286.18" y2="590.5" stroke="#d0d0d0" stroke-width="1.5"/>
<line x1="357.55" y1="340.3" x2="357.55" y2="590.5" stroke="#d0d0d0" stroke-width="1.5"/>
<line x1="428.93" y1="340.3" x2="428.93" y2="590.5" stroke="#d0d0d0" stroke-width="1.5"/>
<g clip-path="url(#clipc)" fill="none" stroke-linejoin="round" stroke-linecap="round">
<path d="M214.8 566.8 L215.9 566.7 L217.0 566.7 L218.1 566.6 L219.2 566.5 L220.3 566.5 L221.4 566.4 L222.5 566.3 L223.6 566.3 L224.7 566.2 L225.8 566.1 L226.9 566.0 L228.0 566.0 L229.1 565.9 L230.2 565.8 L231.3 565.7 L232.4 565.7 L233.5 565.6 L234.6 565.5 L235.7 565.4 L236.8 565.4 L237.9 565.3 L239.1 565.2 L240.2 565.1 L241.3 565.0 L242.4 564.9 L243.5 564.9 L244.6 564.8 L245.7 564.7 L246.8 564.6 L247.9 564.5 L249.0 564.4 L250.1 564.3 L251.2 564.2 L252.3 564.1 L253.4 564.0 L254.5 563.8 L255.6 563.7 L256.7 563.6 L257.8 563.4 L258.9 563.3 L260.0 563.2 L261.1 563.0 L262.2 562.9 L263.3 562.7 L264.4 562.6 L265.5 562.4 L266.6 562.2 L267.7 562.1 L268.8 561.9 L269.9 561.7 L271.0 561.5 L272.1 561.3 L273.2 561.2 L274.3 561.0 L275.4 560.8 L276.5 560.6 L277.6 560.3 L278.7 560.1 L279.8 559.9 L280.9 559.7 L282.0 559.4 L283.1 559.2 L284.2 558.9 L285.3 558.6 L286.5 558.3 L287.6 558.0 L288.7 557.7 L289.8 557.3 L290.9 557.0 L292.0 556.6 L293.1 556.2 L294.2 555.8 L295.3 555.4 L296.4 555.0 L297.5 554.5 L298.6 554.1 L299.7 553.6 L300.8 553.1 L301.9 552.6 L303.0 552.1 L304.1 551.6 L305.2 551.1 L306.3 550.5 L307.4 549.9 L308.5 549.3 L309.6 548.7 L310.7 548.1 L311.8 547.4 L312.9 546.7 L314.0 546.0 L315.1 545.3 L316.2 544.5 L317.3 543.7 L318.4 542.9 L319.5 542.1 L320.6 541.3 L321.7 540.4 L322.8 539.5 L323.9 538.6 L325.0 537.6 L326.1 536.6 L327.2 535.6 L328.3 534.6 L329.4 533.5 L330.5 532.3 L331.6 531.2 L332.7 530.0 L333.9 528.7 L335.0 527.3 L336.1 525.9 L337.2 524.4 L338.3 522.8 L339.4 521.0 L340.5 519.1 L341.6 517.1 L342.7 514.9 L343.8 512.6 L344.9 510.1 L346.0 507.6 L347.1 504.9 L348.2 502.1 L349.3 499.3 L350.4 496.4 L351.5 493.5 L352.6 490.6 L353.7 487.7 L354.8 484.8 L355.9 481.9 L357.0 479.0 L358.1 476.2 L359.2 473.4 L360.3 470.6 L361.4 467.8 L362.5 465.1 L363.6 462.3 L364.7 459.6 L365.8 456.9 L366.9 454.2 L368.0 451.5 L369.1 448.8 L370.2 446.1 L371.3 443.4 L372.4 440.7 L373.5 438.0 L374.6 435.4 L374.7 435.3 L375.0 434.4 L375.4 433.6 L375.7 432.8 L375.8 432.8 L376.1 431.9 L376.5 431.1 L376.8 430.4 L376.8 430.3 L377.2 429.6 L377.5 428.8 L377.9 428.1 L377.9 428.0 L378.2 427.4 L378.6 426.7 L379.0 426.0 L379.0 425.8 L379.3 425.3 L379.7 424.7 L380.0 424.1 L380.1 423.9 L380.4 423.5 L380.7 422.9 L381.1 422.3 L381.2 422.1 L381.5 421.7 L381.8 421.1 L382.2 420.5 L382.4 420.2 L382.5 419.9 L382.9 419.3 L383.2 418.7 L383.5 418.3 L383.6 418.0 L384.0 417.3 L384.3 416.6 L384.6 416.0 L384.7 415.8 L385.0 414.8 L385.4 413.7 L385.7 412.8 L385.7 412.5 L386.1 411.2 L386.5 409.8 L386.8 408.8 L386.8 408.6 L387.2 407.6 L387.5 406.9 L387.9 406.5 L387.9 406.5 L388.2 406.3 L388.6 406.0 L389.0 405.3 L389.0 405.3 L389.3 404.3 L389.7 402.7 L390.0 400.7 L390.1 400.4 L390.4 398.4 L390.7 395.9 L391.1 393.5 L391.2 393.0 L391.5 391.2 L391.8 389.0 L392.2 386.9 L392.3 386.3 L392.5 384.9 L392.9 383.0 L393.2 381.2 L393.4 380.5 L393.6 379.4 L394.0 377.7 L394.3 376.1 L394.5 375.4 L394.7 374.6 L395.0 373.3 L395.4 372.2 L395.6 371.8 L395.7 371.6 L396.1 371.3 L396.4 371.5 L396.7 371.8 L396.8 372.0 L397.2 372.9 L397.5 374.0 L397.8 375.0 L397.9 375.3 L398.2 376.9 L398.6 378.5 L398.9 379.9 L398.9 380.2 L399.3 381.8 L399.7 383.3 L400.0 384.6 L400.0 384.7 L400.4 385.9 L400.7 387.0 L401.1 388.1 L401.1 388.1 L401.4 389.1 L401.8 390.1 L402.2 391.0 L402.2 391.0 L402.5 391.8 L402.9 392.5 L403.2 393.1 L403.3 393.3 L403.6 393.7 L403.9 394.2 L404.3 394.6 L404.4 394.7 L404.7 395.1 L405.0 395.5 L405.4 396.1 L405.5 396.3 L405.7 396.7 L406.1 397.3 L406.4 398.1 L406.6 398.4 L406.8 398.9 L407.2 399.8 L407.5 400.7 L407.7 401.2 L407.9 401.6 L408.2 402.5 L408.6 403.5 L408.8 404.1 L408.9 404.5 L409.3 405.4 L409.7 406.4 L409.9 407.1 L410.0 407.3 L410.4 408.3 L410.7 409.3 L411.0 410.1 L411.1 410.3 L411.4 411.3 L411.8 412.3 L412.1 413.2 L412.2 413.3 L412.5 414.3 L412.9 415.4 L413.2 416.4 L413.2 416.5 L413.6 417.5 L413.9 418.6 L414.3 419.8 L414.3 419.8 L414.6 420.9 L415.0 422.0 L415.4 423.2 L415.4 423.4 L415.7 424.4 L416.1 425.6 L416.4 426.8 L416.5 427.1 L416.8 428.0 L417.1 429.2 L417.6 430.9 L418.7 434.8 L419.8 438.8 L420.9 442.8 L422.0 446.9 L423.1 451.0 L424.2 455.0 L425.3 459.0 L426.4 462.9 L427.5 466.7 L428.6 470.3 L429.8 473.9 L430.9 477.2 L432.0 480.5 L433.1 483.5 L434.2 486.4 L435.3 489.2 L436.4 491.9 L437.5 494.4 L438.6 496.9 L439.7 499.2 L440.8 501.5 L441.9 503.7 L443.0 505.8 L444.1 507.8 L445.2 509.8 L446.3 511.7 L447.4 513.5 L448.5 515.3 L449.6 517.0 L450.7 518.7 L451.8 520.4 L452.9 522.0 L454.0 523.5 L455.1 525.1 L456.2 526.5 L457.3 528.0 L458.4 529.4 L459.5 530.8 L460.6 532.1 L461.7 533.4 L462.8 534.6 L463.9 535.8 L465.0 536.9 L466.1 538.0 L467.2 539.0 L468.3 539.9 L469.4 540.8 L470.5 541.7 L471.6 542.5 L472.7 543.3 L473.8 544.0 L474.9 544.7 L476.0 545.4 L477.2 546.0 L478.3 546.6 L479.4 547.2 L480.5 547.7 L481.6 548.3 L482.7 548.8 L483.8 549.3 L484.9 549.7 L486.0 550.2 L487.1 550.6 L488.2 551.0 L489.3 551.5 L490.4 551.8 L491.5 552.2 L492.6 552.6 L493.7 552.9 L494.8 553.3 L495.9 553.6 L497.0 553.9 L498.1 554.2 L499.2 554.5 L500.3 554.8" stroke="#111111" stroke-width="1.5"/>
<path d="M214.8 566.8 L215.9 566.7 L217.0 566.7 L218.1 566.6 L219.2 566.5 L220.3 566.5 L221.4 566.4 L222.5 566.3 L223.6 566.3 L224.7 566.2 L225.8 566.1 L226.9 566.0 L228.0 566.0 L229.1 565.9 L230.2 565.8 L231.3 565.7 L232.4 565.7 L233.5 565.6 L234.6 565.5 L235.7 565.4 L236.8 565.4 L237.9 565.3 L239.1 565.2 L240.2 565.1 L241.3 565.0 L242.4 564.9 L243.5 564.9 L244.6 564.8 L245.7 564.7 L246.8 564.6 L247.9 564.5 L249.0 564.4 L250.1 564.3 L251.2 564.2 L252.3 564.1 L253.4 564.0 L254.5 563.8 L255.6 563.7 L256.7 563.6 L257.8 563.4 L258.9 563.3 L260.0 563.2 L261.1 563.0 L262.2 562.9 L263.3 562.7 L264.4 562.6 L265.5 562.4 L266.6 562.2 L267.7 562.1 L268.8 561.9 L269.9 561.7 L271.0 561.5 L272.1 561.3 L273.2 561.2 L274.3 561.0 L275.4 560.8 L276.5 560.6 L277.6 560.3 L278.7 560.1 L279.8 559.9 L280.9 559.7 L282.0 559.4 L283.1 559.2 L284.2 558.9 L285.3 558.6 L286.5 558.3 L287.6 558.0 L288.7 557.7 L289.8 557.3 L290.9 557.0 L292.0 556.6 L293.1 556.2 L294.2 555.8 L295.3 555.4 L296.4 555.0 L297.5 554.5 L298.6 554.1 L299.7 553.6 L300.8 553.1 L301.9 552.6 L303.0 552.1 L304.1 551.6 L305.2 551.1 L306.3 550.5 L307.4 549.9 L308.5 549.3 L309.6 548.7 L310.7 548.1 L311.8 547.4 L312.9 546.7 L314.0 546.0 L315.1 545.3 L316.2 544.5 L317.3 543.7 L318.4 542.9 L319.5 542.1 L320.6 541.3 L321.7 540.4 L322.8 539.5 L323.9 538.6 L325.0 537.6 L326.1 536.6 L327.2 535.6 L328.3 534.6 L329.4 533.5 L330.5 532.4 L331.6 531.2 L332.7 530.0 L333.9 528.7 L335.0 527.4 L336.1 525.9 L337.2 524.4 L338.3 522.8 L339.4 521.0 L340.5 519.1 L341.6 517.0 L342.7 514.7 L343.8 512.3 L344.9 509.7 L346.0 507.1 L347.1 504.2 L348.2 501.3 L349.3 498.4 L350.4 495.3 L351.5 492.3 L352.6 489.2 L353.7 486.1 L354.8 483.1 L355.9 480.0 L357.0 477.0 L358.1 474.0 L359.2 471.1 L360.3 468.1 L361.4 465.2 L362.5 462.3 L363.6 459.5 L364.7 456.6 L365.8 453.7 L366.9 450.9 L368.0 448.1 L369.1 445.2 L370.2 442.4 L371.3 439.6 L372.4 436.9 L373.5 434.1 L374.6 431.5 L374.7 431.4 L375.0 430.6 L375.4 429.8 L375.7 429.0 L375.8 429.0 L376.1 428.2 L376.5 427.5 L376.8 426.7 L376.8 426.7 L377.2 426.0 L377.5 425.3 L377.9 424.7 L377.9 424.6 L378.2 424.0 L378.6 423.4 L379.0 422.7 L379.0 422.6 L379.3 422.1 L379.7 421.5 L380.0 420.9 L380.1 420.7 L380.4 420.3 L380.7 419.7 L381.1 419.0 L381.2 418.8 L381.5 418.4 L381.8 417.7 L382.2 417.0 L382.4 416.7 L382.5 416.3 L382.9 415.5 L383.2 414.6 L383.5 414.1 L383.6 413.6 L384.0 412.5 L384.3 411.2 L384.6 410.4 L384.7 410.0 L385.0 408.8 L385.4 407.8 L385.7 407.2 L385.7 407.0 L386.1 406.5 L386.5 406.0 L386.8 405.5 L386.8 405.4 L387.2 404.3 L387.5 402.9 L387.9 401.1 L387.9 401.0 L388.2 398.8 L388.6 396.5 L389.0 394.2 L389.0 394.1 L389.3 392.0 L389.7 390.0 L390.0 388.2 L390.1 388.0 L390.4 386.6 L390.7 385.0 L391.1 383.5 L391.2 383.2 L391.5 382.1 L391.8 380.7 L392.2 379.4 L392.3 379.1 L392.5 378.2 L392.9 377.0 L393.2 376.0 L393.4 375.6 L393.6 375.0 L394.0 374.3 L394.3 373.8 L394.5 373.6 L394.7 373.5 L395.0 373.5 L395.4 373.7 L395.6 373.9 L395.7 374.1 L396.1 374.6 L396.4 375.2 L396.7 375.7 L396.8 376.0 L397.2 376.9 L397.5 378.1 L397.8 379.0 L397.9 379.3 L398.2 380.7 L398.6 382.0 L398.9 383.2 L398.9 383.4 L399.3 384.7 L399.7 385.8 L400.0 386.9 L400.0 387.0 L400.4 388.0 L400.7 389.1 L401.1 390.1 L401.1 390.1 L401.4 391.1 L401.8 392.0 L402.2 392.8 L402.2 392.9 L402.5 393.5 L402.9 394.1 L403.2 394.6 L403.3 394.7 L403.6 394.9 L403.9 395.1 L404.3 395.3 L404.4 395.4 L404.7 395.6 L405.0 396.0 L405.4 396.5 L405.5 396.7 L405.7 397.1 L406.1 397.9 L406.4 398.8 L406.6 399.2 L406.8 399.7 L407.2 400.7 L407.5 401.7 L407.7 402.3 L407.9 402.7 L408.2 403.8 L408.6 404.8 L408.8 405.4 L408.9 405.8 L409.3 406.8 L409.7 407.7 L409.9 408.4 L410.0 408.7 L410.4 409.6 L410.7 410.6 L411.0 411.4 L411.1 411.6 L411.4 412.6 L411.8 413.6 L412.1 414.5 L412.2 414.6 L412.5 415.6 L412.9 416.7 L413.2 417.7 L413.2 417.7 L413.6 418.8 L413.9 419.9 L414.3 421.0 L414.3 421.1 L414.6 422.1 L415.0 423.2 L415.4 424.4 L415.4 424.5 L415.7 425.5 L416.1 426.7 L416.4 427.9 L416.5 428.2 L416.8 429.1 L417.1 430.3 L417.6 431.9 L418.7 435.8 L419.8 439.7 L420.9 443.6 L422.0 447.6 L423.1 451.6 L424.2 455.5 L425.3 459.3 L426.4 463.2 L427.5 466.9 L428.6 470.5 L429.8 474.0 L430.9 477.3 L432.0 480.5 L433.1 483.5 L434.2 486.4 L435.3 489.2 L436.4 491.9 L437.5 494.4 L438.6 496.9 L439.7 499.2 L440.8 501.5 L441.9 503.7 L443.0 505.8 L444.1 507.8 L445.2 509.8 L446.3 511.7 L447.4 513.5 L448.5 515.3 L449.6 517.0 L450.7 518.7 L451.8 520.4 L452.9 522.0 L454.0 523.5 L455.1 525.1 L456.2 526.5 L457.3 528.0 L458.4 529.4 L459.5 530.8 L460.6 532.1 L461.7 533.4 L462.8 534.6 L463.9 535.8 L465.0 536.9 L466.1 538.0 L467.2 539.0 L468.3 539.9 L469.4 540.8 L470.5 541.7 L471.6 542.5 L472.7 543.3 L473.8 544.0 L474.9 544.7 L476.0 545.4 L477.2 546.0 L478.3 546.6 L479.4 547.2 L480.5 547.7 L481.6 548.3 L482.7 548.8 L483.8 549.3 L484.9 549.7 L486.0 550.2 L487.1 550.6 L488.2 551.0 L489.3 551.5 L490.4 551.8 L491.5 552.2 L492.6 552.6 L493.7 552.9 L494.8 553.3 L495.9 553.6 L497.0 553.9 L498.1 554.2 L499.2 554.5 L500.3 554.8" stroke="#c8203a" stroke-width="1.6"/>
<path d="M214.8 566.8 L215.9 566.7 L217.0 566.7 L218.1 566.6 L219.2 566.5 L220.3 566.5 L221.4 566.4 L222.5 566.3 L223.6 566.3 L224.7 566.2 L225.8 566.1 L226.9 566.0 L228.0 566.0 L229.1 565.9 L230.2 565.8 L231.3 565.7 L232.4 565.7 L233.5 565.6 L234.6 565.5 L235.7 565.4 L236.8 565.4 L237.9 565.3 L239.1 565.2 L240.2 565.1 L241.3 565.0 L242.4 564.9 L243.5 564.9 L244.6 564.8 L245.7 564.7 L246.8 564.6 L247.9 564.5 L249.0 564.4 L250.1 564.3 L251.2 564.2 L252.3 564.1 L253.4 564.0 L254.5 563.8 L255.6 563.7 L256.7 563.6 L257.8 563.4 L258.9 563.3 L260.0 563.2 L261.1 563.0 L262.2 562.9 L263.3 562.7 L264.4 562.6 L265.5 562.4 L266.6 562.2 L267.7 562.1 L268.8 561.9 L269.9 561.7 L271.0 561.5 L272.1 561.3 L273.2 561.2 L274.3 561.0 L275.4 560.8 L276.5 560.6 L277.6 560.3 L278.7 560.1 L279.8 559.9 L280.9 559.7 L282.0 559.4 L283.1 559.2 L284.2 558.9 L285.3 558.6 L286.5 558.3 L287.6 558.0 L288.7 557.7 L289.8 557.3 L290.9 557.0 L292.0 556.6 L293.1 556.2 L294.2 555.8 L295.3 555.4 L296.4 555.0 L297.5 554.5 L298.6 554.1 L299.7 553.6 L300.8 553.1 L301.9 552.6 L303.0 552.1 L304.1 551.6 L305.2 551.1 L306.3 550.5 L307.4 549.9 L308.5 549.3 L309.6 548.7 L310.7 548.1 L311.8 547.4 L312.9 546.7 L314.0 546.0 L315.1 545.3 L316.2 544.5 L317.3 543.7 L318.4 542.9 L319.5 542.1 L320.6 541.3 L321.7 540.4 L322.8 539.5 L323.9 538.6 L325.0 537.6 L326.1 536.6 L327.2 535.6 L328.3 534.6 L329.4 533.5 L330.5 532.3 L331.6 531.2 L332.7 530.0 L333.9 528.7 L335.0 527.3 L336.1 525.9 L337.2 524.4 L338.3 522.8 L339.4 521.0 L340.5 519.1 L341.6 517.1 L342.7 514.9 L343.8 512.6 L344.9 510.2 L346.0 507.6 L347.1 505.0 L348.2 502.2 L349.3 499.5 L350.4 496.6 L351.5 493.7 L352.6 490.9 L353.7 488.0 L354.8 485.1 L355.9 482.2 L357.0 479.4 L358.1 476.6 L359.2 473.8 L360.3 471.0 L361.4 468.3 L362.5 465.5 L363.6 462.8 L364.7 460.1 L365.8 457.4 L366.9 454.8 L368.0 452.1 L369.1 449.4 L370.2 446.7 L371.3 444.0 L372.4 441.3 L373.5 438.7 L374.6 436.1 L374.7 436.0 L375.0 435.1 L375.4 434.3 L375.7 433.5 L375.8 433.4 L376.1 432.6 L376.5 431.8 L376.8 431.0 L376.8 431.0 L377.2 430.2 L377.5 429.4 L377.9 428.7 L377.9 428.6 L378.2 428.0 L378.6 427.2 L379.0 426.5 L379.0 426.4 L379.3 425.9 L379.7 425.2 L380.0 424.6 L380.1 424.4 L380.4 424.0 L380.7 423.4 L381.1 422.8 L381.2 422.6 L381.5 422.2 L381.8 421.6 L382.2 421.1 L382.4 420.7 L382.5 420.4 L382.9 419.8 L383.2 419.2 L383.5 418.8 L383.6 418.5 L384.0 417.9 L384.3 417.1 L384.6 416.6 L384.7 416.4 L385.0 415.5 L385.4 414.5 L385.7 413.6 L385.7 413.3 L386.1 412.0 L386.5 410.7 L386.8 409.5 L386.8 409.4 L387.2 408.2 L387.5 407.2 L387.9 406.6 L387.9 406.6 L388.2 406.3 L388.6 406.2 L389.0 406.3 L389.0 406.3 L389.3 406.4 L389.7 406.5 L390.0 406.5 L390.1 406.5 L390.4 406.2 L390.7 405.6 L391.1 404.7 L391.2 404.5 L391.5 403.4 L391.8 401.9 L392.2 400.1 L392.3 399.5 L392.5 398.2 L392.9 396.2 L393.2 394.2 L393.4 393.5 L393.6 392.3 L394.0 390.5 L394.3 388.8 L394.5 388.0 L394.7 387.1 L395.0 385.5 L395.4 383.9 L395.6 383.1 L395.7 382.5 L396.1 381.1 L396.4 379.9 L396.7 379.2 L396.8 378.8 L397.2 377.9 L397.5 377.2 L397.8 376.8 L397.9 376.6 L398.2 376.4 L398.6 376.4 L398.9 376.6 L398.9 376.6 L399.3 377.1 L399.7 377.8 L400.0 378.6 L400.0 378.7 L400.4 379.7 L400.7 380.8 L401.1 382.0 L401.1 382.0 L401.4 383.3 L401.8 384.7 L402.2 386.2 L402.2 386.3 L402.5 387.7 L402.9 389.3 L403.2 390.8 L403.3 391.0 L403.6 392.2 L403.9 393.6 L404.3 394.9 L404.4 395.3 L404.7 396.2 L405.0 397.5 L405.4 398.8 L405.5 399.3 L405.7 400.1 L406.1 401.3 L406.4 402.5 L406.6 402.9 L406.8 403.5 L407.2 404.4 L407.5 405.2 L407.7 405.6 L407.9 405.9 L408.2 406.3 L408.6 406.7 L408.8 406.8 L408.9 406.9 L409.3 407.0 L409.7 407.1 L409.9 407.2 L410.0 407.3 L410.4 407.6 L410.7 408.0 L411.0 408.5 L411.1 408.6 L411.4 409.4 L411.8 410.3 L412.1 411.1 L412.2 411.2 L412.5 412.3 L412.9 413.5 L413.2 414.6 L413.2 414.7 L413.6 415.9 L413.9 417.1 L414.3 418.4 L414.3 418.5 L414.6 419.6 L415.0 420.9 L415.4 422.1 L415.4 422.3 L415.7 423.4 L416.1 424.6 L416.4 425.9 L416.5 426.2 L416.8 427.1 L417.1 428.4 L417.6 430.1 L418.7 434.0 L419.8 438.0 L420.9 442.0 L422.0 446.0 L423.1 450.0 L424.2 454.0 L425.3 457.9 L426.4 461.8 L427.5 465.6 L428.6 469.3 L429.8 472.9 L430.9 476.3 L432.0 479.6 L433.1 482.7 L434.2 485.7 L435.3 488.5 L436.4 491.3 L437.5 493.9 L438.6 496.4 L439.7 498.8 L440.8 501.1 L441.9 503.3 L443.0 505.4 L444.1 507.5 L445.2 509.5 L446.3 511.4 L447.4 513.3 L448.5 515.1 L449.6 516.9 L450.7 518.6 L451.8 520.3 L452.9 521.9 L454.0 523.5 L455.1 525.0 L456.2 526.5 L457.3 528.0 L458.4 529.4 L459.5 530.8 L460.6 532.1 L461.7 533.4 L462.8 534.6 L463.9 535.8 L465.0 536.9 L466.1 538.0 L467.2 539.0 L468.3 539.9 L469.4 540.8 L470.5 541.7 L471.6 542.5 L472.7 543.3 L473.8 544.0 L474.9 544.7 L476.0 545.4 L477.2 546.0 L478.3 546.6 L479.4 547.2 L480.5 547.7 L481.6 548.3 L482.7 548.8 L483.8 549.3 L484.9 549.7 L486.0 550.2 L487.1 550.6 L488.2 551.0 L489.3 551.5 L490.4 551.8 L491.5 552.2 L492.6 552.6 L493.7 552.9 L494.8 553.3 L495.9 553.6 L497.0 553.9 L498.1 554.2 L499.2 554.5 L500.3 554.8" stroke="#2a2ae0" stroke-width="1.8"/>
<path d="M214.8 566.8 L215.9 566.7 L217.0 566.7 L218.1 566.6 L219.2 566.5 L220.3 566.5 L221.4 566.4 L222.5 566.3 L223.6 566.3 L224.7 566.2 L225.8 566.1 L226.9 566.0 L228.0 566.0 L229.1 565.9 L230.2 565.8 L231.3 565.7 L232.4 565.7 L233.5 565.6 L234.6 565.5 L235.7 565.4 L236.8 565.4 L237.9 565.3 L239.1 565.2 L240.2 565.1 L241.3 565.0 L242.4 564.9 L243.5 564.9 L244.6 564.8 L245.7 564.7 L246.8 564.6 L247.9 564.5 L249.0 564.4 L250.1 564.3 L251.2 564.2 L252.3 564.1 L253.4 564.0 L254.5 563.8 L255.6 563.7 L256.7 563.6 L257.8 563.4 L258.9 563.3 L260.0 563.2 L261.1 563.0 L262.2 562.9 L263.3 562.7 L264.4 562.6 L265.5 562.4 L266.6 562.2 L267.7 562.1 L268.8 561.9 L269.9 561.7 L271.0 561.5 L272.1 561.3 L273.2 561.2 L274.3 561.0 L275.4 560.8 L276.5 560.6 L277.6 560.3 L278.7 560.1 L279.8 559.9 L280.9 559.7 L282.0 559.4 L283.1 559.2 L284.2 558.9 L285.3 558.6 L286.5 558.3 L287.6 558.0 L288.7 557.7 L289.8 557.3 L290.9 557.0 L292.0 556.6 L293.1 556.2 L294.2 555.8 L295.3 555.4 L296.4 555.0 L297.5 554.5 L298.6 554.1 L299.7 553.6 L300.8 553.1 L301.9 552.6 L303.0 552.1 L304.1 551.6 L305.2 551.1 L306.3 550.5 L307.4 549.9 L308.5 549.3 L309.6 548.7 L310.7 548.1 L311.8 547.4 L312.9 546.7 L314.0 546.0 L315.1 545.3 L316.2 544.5 L317.3 543.7 L318.4 542.9 L319.5 542.1 L320.6 541.3 L321.7 540.4 L322.8 539.5 L323.9 538.6 L325.0 537.6 L326.1 536.6 L327.2 535.6 L328.3 534.5 L329.4 533.4 L330.5 532.3 L331.6 531.1 L332.7 529.8 L333.9 528.4 L335.0 527.0 L336.1 525.5 L337.2 523.9 L338.3 522.1 L339.4 520.2 L340.5 518.2 L341.6 515.9 L342.7 513.5 L343.8 511.0 L344.9 508.3 L346.0 505.5 L347.1 502.5 L348.2 499.5 L349.3 496.4 L350.4 493.3 L351.5 490.2 L352.6 487.0 L353.7 483.9 L354.8 480.7 L355.9 477.6 L357.0 474.5 L358.1 471.4 L359.2 468.4 L360.3 465.4 L361.4 462.4 L362.5 459.4 L363.6 456.5 L364.7 453.6 L365.8 450.7 L366.9 447.8 L368.0 444.9 L369.1 442.1 L370.2 439.2 L371.3 436.5 L372.4 434.0 L373.5 431.7 L374.6 429.9 L374.7 429.8 L375.0 429.3 L375.4 428.9 L375.7 428.6 L375.8 428.6 L376.1 428.3 L376.5 428.0 L376.8 427.8 L376.8 427.8 L377.2 427.6 L377.5 427.4 L377.9 427.2 L377.9 427.2 L378.2 426.9 L378.6 426.5 L379.0 426.0 L379.0 425.9 L379.3 425.4 L379.7 424.6 L380.0 423.6 L380.1 423.3 L380.4 422.6 L380.7 421.4 L381.1 420.1 L381.2 419.6 L381.5 418.8 L381.8 417.4 L382.2 416.0 L382.4 415.3 L382.5 414.6 L382.9 413.1 L383.2 411.5 L383.5 410.6 L383.6 409.9 L384.0 408.2 L384.3 406.4 L384.6 405.2 L384.7 404.5 L385.0 402.5 L385.4 400.4 L385.7 398.8 L385.7 398.3 L386.1 396.2 L386.5 394.1 L386.8 392.4 L386.8 392.2 L387.2 390.3 L387.5 388.6 L387.9 387.0 L387.9 386.9 L388.2 385.4 L388.6 383.9 L389.0 382.5 L389.0 382.5 L389.3 381.1 L389.7 379.8 L390.0 378.6 L390.1 378.4 L390.4 377.3 L390.7 376.1 L391.1 375.0 L391.2 374.8 L391.5 374.1 L391.8 373.5 L392.2 373.1 L392.3 373.0 L392.5 373.0 L392.9 373.2 L393.2 373.6 L393.4 373.8 L393.6 374.2 L394.0 375.0 L394.3 375.9 L394.5 376.4 L394.7 376.9 L395.0 378.1 L395.4 379.3 L395.6 380.1 L395.7 380.6 L396.1 381.8 L396.4 383.0 L396.7 383.7 L396.8 384.1 L397.2 385.1 L397.5 386.0 L397.8 386.7 L397.9 386.9 L398.2 387.8 L398.6 388.6 L398.9 389.3 L398.9 389.4 L399.3 390.1 L399.7 390.8 L400.0 391.4 L400.0 391.4 L400.4 392.0 L400.7 392.6 L401.1 393.2 L401.1 393.2 L401.4 393.8 L401.8 394.4 L402.2 395.1 L402.2 395.1 L402.5 395.7 L402.9 396.5 L403.2 397.2 L403.3 397.3 L403.6 398.0 L403.9 398.7 L404.3 399.6 L404.4 399.8 L404.7 400.4 L405.0 401.3 L405.4 402.3 L405.5 402.6 L405.7 403.2 L406.1 404.2 L406.4 405.3 L406.6 405.7 L406.8 406.3 L407.2 407.4 L407.5 408.4 L407.7 409.0 L407.9 409.5 L408.2 410.6 L408.6 411.6 L408.8 412.3 L408.9 412.7 L409.3 413.7 L409.7 414.8 L409.9 415.6 L410.0 415.9 L410.4 416.9 L410.7 418.0 L411.0 418.9 L411.1 419.1 L411.4 420.1 L411.8 421.2 L412.1 422.1 L412.2 422.2 L412.5 423.2 L412.9 424.3 L413.2 425.2 L413.2 425.2 L413.6 426.2 L413.9 427.2 L414.3 428.1 L414.3 428.1 L414.6 429.0 L415.0 429.8 L415.4 430.7 L415.4 430.8 L415.7 431.5 L416.1 432.3 L416.4 433.1 L416.5 433.3 L416.8 433.9 L417.1 434.8 L417.6 435.9 L418.7 438.7 L419.8 441.8 L420.9 445.2 L422.0 448.8 L423.1 452.5 L424.2 456.2 L425.3 459.9 L426.4 463.5 L427.5 467.1 L428.6 470.6 L429.8 474.0 L430.9 477.3 L432.0 480.4 L433.1 483.5 L434.2 486.3 L435.3 489.1 L436.4 491.7 L437.5 494.2 L438.6 496.7 L439.7 499.0 L440.8 501.3 L441.9 503.4 L443.0 505.5 L444.1 507.5 L445.2 509.5 L446.3 511.4 L447.4 513.2 L448.5 515.0 L449.6 516.7 L450.7 518.4 L451.8 520.0 L452.9 521.6 L454.0 523.2 L455.1 524.7 L456.2 526.2 L457.3 527.7 L458.4 529.1 L459.5 530.5 L460.6 531.8 L461.7 533.1 L462.8 534.3 L463.9 535.5 L465.0 536.6 L466.1 537.7 L467.2 538.7 L468.3 539.7 L469.4 540.6 L470.5 541.5 L471.6 542.3 L472.7 543.1 L473.8 543.8 L474.9 544.5 L476.0 545.2 L477.2 545.8 L478.3 546.4 L479.4 547.0 L480.5 547.6 L481.6 548.1 L482.7 548.6 L483.8 549.1 L484.9 549.6 L486.0 550.1 L487.1 550.5 L488.2 550.9 L489.3 551.3 L490.4 551.7 L491.5 552.1 L492.6 552.5 L493.7 552.8 L494.8 553.2 L495.9 553.5 L497.0 553.8 L498.1 554.1 L499.2 554.4 L500.3 554.7" stroke="#d42ad8" stroke-width="2.0"/>
<path d="M214.8 566.8 L215.9 566.7 L217.0 566.7 L218.1 566.6 L219.2 566.5 L220.3 566.5 L221.4 566.4 L222.5 566.3 L223.6 566.3 L224.7 566.2 L225.8 566.1 L226.9 566.0 L228.0 566.0 L229.1 565.9 L230.2 565.8 L231.3 565.7 L232.4 565.7 L233.5 565.6 L234.6 565.5 L235.7 565.4 L236.8 565.4 L237.9 565.3 L239.1 565.2 L240.2 565.1 L241.3 565.0 L242.4 564.9 L243.5 564.9 L244.6 564.8 L245.7 564.7 L246.8 564.6 L247.9 564.5 L249.0 564.4 L250.1 564.3 L251.2 564.2 L252.3 564.1 L253.4 564.0 L254.5 563.8 L255.6 563.7 L256.7 563.6 L257.8 563.4 L258.9 563.3 L260.0 563.2 L261.1 563.0 L262.2 562.9 L263.3 562.7 L264.4 562.6 L265.5 562.4 L266.6 562.2 L267.7 562.1 L268.8 561.9 L269.9 561.7 L271.0 561.5 L272.1 561.3 L273.2 561.2 L274.3 561.0 L275.4 560.8 L276.5 560.6 L277.6 560.3 L278.7 560.1 L279.8 559.9 L280.9 559.7 L282.0 559.4 L283.1 559.2 L284.2 558.9 L285.3 558.6 L286.5 558.3 L287.6 558.0 L288.7 557.7 L289.8 557.3 L290.9 557.0 L292.0 556.6 L293.1 556.2 L294.2 555.8 L295.3 555.4 L296.4 555.0 L297.5 554.5 L298.6 554.1 L299.7 553.6 L300.8 553.1 L301.9 552.6 L303.0 552.1 L304.1 551.6 L305.2 551.1 L306.3 550.5 L307.4 549.9 L308.5 549.3 L309.6 548.7 L310.7 548.1 L311.8 547.4 L312.9 546.7 L314.0 546.0 L315.1 545.3 L316.2 544.5 L317.3 543.7 L318.4 542.9 L319.5 542.1 L320.6 541.3 L321.7 540.4 L322.8 539.5 L323.9 538.6 L325.0 537.6 L326.1 536.6 L327.2 535.6 L328.3 534.6 L329.4 533.5 L330.5 532.4 L331.6 531.2 L332.7 530.0 L333.9 528.8 L335.0 527.5 L336.1 526.1 L337.2 524.6 L338.3 523.0 L339.4 521.3 L340.5 519.5 L341.6 517.5 L342.7 515.4 L343.8 513.2 L344.9 510.8 L346.0 508.3 L347.1 505.6 L348.2 502.9 L349.3 500.2 L350.4 497.4 L351.5 494.5 L352.6 491.6 L353.7 488.7 L354.8 485.8 L355.9 483.0 L357.0 480.1 L358.1 477.3 L359.2 474.5 L360.3 471.7 L361.4 469.0 L362.5 466.2 L363.6 463.5 L364.7 460.8 L365.8 458.1 L366.9 455.4 L368.0 452.8 L369.1 450.1 L370.2 447.4 L371.3 444.7 L372.4 442.1 L373.5 439.5 L374.6 437.0 L374.7 436.9 L375.0 436.0 L375.4 435.2 L375.7 434.5 L375.8 434.4 L376.1 433.6 L376.5 432.9 L376.8 432.1 L376.8 432.0 L377.2 431.3 L377.5 430.6 L377.9 429.8 L377.9 429.7 L378.2 429.1 L378.6 428.4 L379.0 427.8 L379.0 427.6 L379.3 427.1 L379.7 426.5 L380.0 425.8 L380.1 425.7 L380.4 425.3 L380.7 424.7 L381.1 424.1 L381.2 423.9 L381.5 423.6 L381.8 423.1 L382.2 422.5 L382.4 422.3 L382.5 422.0 L382.9 421.5 L383.2 421.0 L383.5 420.7 L383.6 420.5 L384.0 420.0 L384.3 419.4 L384.6 419.1 L384.7 418.9 L385.0 418.4 L385.4 417.9 L385.7 417.5 L385.7 417.4 L386.1 416.8 L386.5 416.2 L386.8 415.6 L386.8 415.5 L387.2 414.9 L387.5 414.1 L387.9 413.4 L387.9 413.3 L388.2 412.5 L388.6 411.6 L389.0 410.7 L389.0 410.6 L389.3 409.7 L389.7 408.6 L390.0 407.5 L390.1 407.3 L390.4 406.3 L390.7 405.0 L391.1 403.6 L391.2 403.3 L391.5 402.2 L391.8 400.6 L392.2 398.9 L392.3 398.4 L392.5 397.2 L392.9 395.5 L393.2 393.8 L393.4 393.2 L393.6 392.2 L394.0 390.6 L394.3 389.0 L394.5 388.2 L394.7 387.4 L395.0 385.9 L395.4 384.4 L395.6 383.5 L395.7 382.9 L396.1 381.6 L396.4 380.4 L396.7 379.7 L396.8 379.4 L397.2 378.5 L397.5 377.7 L397.8 377.2 L397.9 377.0 L398.2 376.3 L398.6 375.5 L398.9 374.7 L398.9 374.5 L399.3 373.6 L399.7 372.6 L400.0 371.9 L400.0 371.8 L400.4 371.3 L400.7 371.0 L401.1 371.0 L401.1 371.0 L401.4 371.3 L401.8 371.8 L402.2 372.5 L402.2 372.6 L402.5 373.4 L402.9 374.5 L403.2 375.8 L403.3 376.1 L403.6 377.2 L403.9 378.7 L404.3 380.3 L404.4 380.7 L404.7 381.8 L405.0 383.2 L405.4 384.6 L405.5 385.0 L405.7 385.9 L406.1 387.2 L406.4 388.5 L406.6 389.2 L406.8 389.9 L407.2 391.4 L407.5 392.9 L407.7 393.7 L407.9 394.5 L408.2 396.1 L408.6 397.8 L408.8 398.8 L408.9 399.4 L409.3 401.1 L409.7 402.7 L409.9 403.8 L410.0 404.2 L410.4 405.7 L410.7 407.1 L411.0 408.2 L411.1 408.5 L411.4 409.8 L411.8 411.1 L412.1 412.2 L412.2 412.3 L412.5 413.5 L412.9 414.7 L413.2 415.9 L413.2 415.9 L413.6 417.1 L413.9 418.2 L414.3 419.3 L414.3 419.4 L414.6 420.5 L415.0 421.6 L415.4 422.7 L415.4 422.9 L415.7 423.8 L416.1 424.9 L416.4 426.0 L416.5 426.3 L416.8 427.2 L417.1 428.3 L417.6 429.7 L418.7 433.2 L419.8 436.8 L420.9 440.4 L422.0 444.2 L423.1 448.1 L424.2 452.0 L425.3 455.8 L426.4 459.7 L427.5 463.5 L428.6 467.2 L429.8 470.9 L430.9 474.4 L432.0 477.9 L433.1 481.2 L434.2 484.3 L435.3 487.4 L436.4 490.2 L437.5 493.0 L438.6 495.6 L439.7 498.1 L440.8 500.5 L441.9 502.8 L443.0 504.9 L444.1 507.1 L445.2 509.1 L446.3 511.1 L447.4 513.0 L448.5 514.9 L449.6 516.7 L450.7 518.4 L451.8 520.1 L452.9 521.7 L454.0 523.3 L455.1 524.9 L456.2 526.4 L457.3 527.9 L458.4 529.3 L459.5 530.7 L460.6 532.1 L461.7 533.4 L462.8 534.6 L463.9 535.8 L465.0 536.9 L466.1 538.0 L467.2 539.0 L468.3 539.9 L469.4 540.8 L470.5 541.7 L471.6 542.5 L472.7 543.3 L473.8 544.0 L474.9 544.7 L476.0 545.4 L477.2 546.0 L478.3 546.6 L479.4 547.2 L480.5 547.7 L481.6 548.3 L482.7 548.8 L483.8 549.3 L484.9 549.7 L486.0 550.2 L487.1 550.6 L488.2 551.0 L489.3 551.5 L490.4 551.8 L491.5 552.2 L492.6 552.6 L493.7 552.9 L494.8 553.3 L495.9 553.6 L497.0 553.9 L498.1 554.2 L499.2 554.5 L500.3 554.8" stroke="#1e8a2a" stroke-width="1.5"/>
<path d="M214.8 566.8 L215.9 566.7 L217.0 566.7 L218.1 566.6 L219.2 566.5 L220.3 566.5 L221.4 566.4 L222.5 566.3 L223.6 566.3 L224.7 566.2 L225.8 566.1 L226.9 566.0 L228.0 566.0 L229.1 565.9 L230.2 565.8 L231.3 565.7 L232.4 565.7 L233.5 565.6 L234.6 565.5 L235.7 565.4 L236.8 565.4 L237.9 565.3 L239.1 565.2 L240.2 565.1 L241.3 565.0 L242.4 564.9 L243.5 564.9 L244.6 564.8 L245.7 564.7 L246.8 564.6 L247.9 564.5 L249.0 564.4 L250.1 564.3 L251.2 564.2 L252.3 564.1 L253.4 564.0 L254.5 563.8 L255.6 563.7 L256.7 563.6 L257.8 563.4 L258.9 563.3 L260.0 563.2 L261.1 563.0 L262.2 562.9 L263.3 562.7 L264.4 562.6 L265.5 562.4 L266.6 562.2 L267.7 562.1 L268.8 561.9 L269.9 561.7 L271.0 561.5 L272.1 561.3 L273.2 561.2 L274.3 561.0 L275.4 560.8 L276.5 560.6 L277.6 560.3 L278.7 560.1 L279.8 559.9 L280.9 559.7 L282.0 559.4 L283.1 559.2 L284.2 558.9 L285.3 558.6 L286.5 558.3 L287.6 558.0 L288.7 557.7 L289.8 557.3 L290.9 557.0 L292.0 556.6 L293.1 556.2 L294.2 555.8 L295.3 555.4 L296.4 555.0 L297.5 554.5 L298.6 554.1 L299.7 553.6 L300.8 553.1 L301.9 552.6 L303.0 552.1 L304.1 551.6 L305.2 551.1 L306.3 550.5 L307.4 549.9 L308.5 549.3 L309.6 548.7 L310.7 548.1 L311.8 547.4 L312.9 546.7 L314.0 546.0 L315.1 545.3 L316.2 544.5 L317.3 543.7 L318.4 542.9 L319.5 542.1 L320.6 541.3 L321.7 540.4 L322.8 539.5 L323.9 538.6 L325.0 537.6 L326.1 536.6 L327.2 535.6 L328.3 534.6 L329.4 533.5 L330.5 532.3 L331.6 531.2 L332.7 530.0 L333.9 528.7 L335.0 527.3 L336.1 525.9 L337.2 524.4 L338.3 522.8 L339.4 521.0 L340.5 519.1 L341.6 517.1 L342.7 514.9 L343.8 512.6 L344.9 510.1 L346.0 507.6 L347.1 504.9 L348.2 502.1 L349.3 499.3 L350.4 496.4 L351.5 493.5 L352.6 490.6 L353.7 487.7 L354.8 484.8 L355.9 481.9 L357.0 479.0 L358.1 476.2 L359.2 473.4 L360.3 470.6 L361.4 467.8 L362.5 465.1 L363.6 462.3 L364.7 459.6 L365.8 456.9 L366.9 454.2 L368.0 451.5 L369.1 448.8 L370.2 446.1 L371.3 443.4 L372.4 440.7 L373.5 438.1 L374.6 435.5 L374.7 435.3 L375.0 434.5 L375.4 433.7 L375.7 432.9 L375.8 432.9 L376.1 432.1 L376.5 431.3 L376.8 430.5 L376.8 430.5 L377.2 429.7 L377.5 429.0 L377.9 428.2 L377.9 428.1 L378.2 427.5 L378.6 426.8 L379.0 426.2 L379.0 426.0 L379.3 425.5 L379.7 424.9 L380.0 424.3 L380.1 424.1 L380.4 423.7 L380.7 423.1 L381.1 422.5 L381.2 422.3 L381.5 422.0 L381.8 421.4 L382.2 420.8 L382.4 420.5 L382.5 420.2 L382.9 419.6 L383.2 418.9 L383.5 418.5 L383.6 418.3 L384.0 417.6 L384.3 416.8 L384.6 416.3 L384.7 416.0 L385.0 415.1 L385.4 414.0 L385.7 413.1 L385.7 412.8 L386.1 411.5 L386.5 410.1 L386.8 409.0 L386.8 408.9 L387.2 407.8 L387.5 407.0 L387.9 406.5 L387.9 406.4 L388.2 406.2 L388.6 406.2 L389.0 406.4 L389.0 406.4 L389.3 406.5 L389.7 406.5 L390.0 406.3 L390.1 406.2 L390.4 405.8 L390.7 404.9 L391.1 403.7 L391.2 403.4 L391.5 402.2 L391.8 400.5 L392.2 398.6 L392.3 398.0 L392.5 396.6 L392.9 394.6 L393.2 392.7 L393.4 392.0 L393.6 390.9 L394.0 389.1 L394.3 387.4 L394.5 386.6 L394.7 385.7 L395.0 384.1 L395.4 382.6 L395.6 381.8 L395.7 381.2 L396.1 379.9 L396.4 378.8 L396.7 378.2 L396.8 377.9 L397.2 377.1 L397.5 376.5 L397.8 376.2 L397.9 376.1 L398.2 375.9 L398.6 376.0 L398.9 376.3 L398.9 376.3 L399.3 376.9 L399.7 377.7 L400.0 378.5 L400.0 378.6 L400.4 379.6 L400.7 380.7 L401.1 381.9 L401.1 381.9 L401.4 383.1 L401.8 384.5 L402.2 385.9 L402.2 386.0 L402.5 387.3 L402.9 388.8 L403.2 390.2 L403.3 390.5 L403.6 391.6 L403.9 393.0 L404.3 394.3 L404.4 394.7 L404.7 395.7 L405.0 397.1 L405.4 398.5 L405.5 399.0 L405.7 399.8 L406.1 401.1 L406.4 402.4 L406.6 402.9 L406.8 403.5 L407.2 404.5 L407.5 405.3 L407.7 405.7 L407.9 405.9 L408.2 406.4 L408.6 406.7 L408.8 406.8 L408.9 406.9 L409.3 407.0 L409.7 407.1 L409.9 407.2 L410.0 407.3 L410.4 407.6 L410.7 408.1 L411.0 408.6 L411.1 408.7 L411.4 409.5 L411.8 410.4 L412.1 411.3 L412.2 411.4 L412.5 412.5 L412.9 413.7 L413.2 414.8 L413.2 414.9 L413.6 416.1 L413.9 417.3 L414.3 418.6 L414.3 418.6 L414.6 419.8 L415.0 421.0 L415.4 422.3 L415.4 422.5 L415.7 423.5 L416.1 424.8 L416.4 426.0 L416.5 426.3 L416.8 427.2 L417.1 428.5 L417.6 430.2 L418.7 434.1 L419.8 438.0 L420.9 442.0 L422.0 446.0 L423.1 450.0 L424.2 454.0 L425.3 458.0 L426.4 461.8 L427.5 465.6 L428.6 469.3 L429.8 472.9 L430.9 476.3 L432.0 479.6 L433.1 482.7 L434.2 485.7 L435.3 488.5 L436.4 491.3 L437.5 493.9 L438.6 496.4 L439.7 498.8 L440.8 501.1 L441.9 503.3 L443.0 505.4 L444.1 507.5 L445.2 509.5 L446.3 511.4 L447.4 513.3 L448.5 515.1 L449.6 516.9 L450.7 518.6 L451.8 520.3 L452.9 521.9 L454.0 523.5 L455.1 525.0 L456.2 526.5 L457.3 528.0 L458.4 529.4 L459.5 530.8 L460.6 532.1 L461.7 533.4 L462.8 534.6 L463.9 535.8 L465.0 536.9 L466.1 538.0 L467.2 539.0 L468.3 539.9 L469.4 540.8 L470.5 541.7 L471.6 542.5 L472.7 543.3 L473.8 544.0 L474.9 544.7 L476.0 545.4 L477.2 546.0 L478.3 546.6 L479.4 547.2 L480.5 547.7 L481.6 548.3 L482.7 548.8 L483.8 549.3 L484.9 549.7 L486.0 550.2 L487.1 550.6 L488.2 551.0 L489.3 551.5 L490.4 551.8 L491.5 552.2 L492.6 552.6 L493.7 552.9 L494.8 553.3 L495.9 553.6 L497.0 553.9 L498.1 554.2 L499.2 554.5 L500.3 554.8" stroke="#1c1670" stroke-width="2.0"/>
<path d="M214.8 566.8 L215.9 566.7 L217.0 566.7 L218.1 566.6 L219.2 566.5 L220.3 566.5 L221.4 566.4 L222.5 566.3 L223.6 566.3 L224.7 566.2 L225.8 566.1 L226.9 566.0 L228.0 566.0 L229.1 565.9 L230.2 565.8 L231.3 565.7 L232.4 565.7 L233.5 565.6 L234.6 565.5 L235.7 565.4 L236.8 565.4 L237.9 565.3 L239.1 565.2 L240.2 565.1 L241.3 565.0 L242.4 564.9 L243.5 564.9 L244.6 564.8 L245.7 564.7 L246.8 564.6 L247.9 564.5 L249.0 564.4 L250.1 564.3 L251.2 564.2 L252.3 564.1 L253.4 564.0 L254.5 563.8 L255.6 563.7 L256.7 563.6 L257.8 563.4 L258.9 563.3 L260.0 563.2 L261.1 563.0 L262.2 562.9 L263.3 562.7 L264.4 562.6 L265.5 562.4 L266.6 562.2 L267.7 562.1 L268.8 561.9 L269.9 561.7 L271.0 561.5 L272.1 561.3 L273.2 561.2 L274.3 561.0 L275.4 560.8 L276.5 560.6 L277.6 560.3 L278.7 560.1 L279.8 559.9 L280.9 559.7 L282.0 559.4 L283.1 559.2 L284.2 558.9 L285.3 558.6 L286.5 558.3 L287.6 558.0 L288.7 557.7 L289.8 557.3 L290.9 557.0 L292.0 556.6 L293.1 556.2 L294.2 555.8 L295.3 555.4 L296.4 555.0 L297.5 554.5 L298.6 554.1 L299.7 553.6 L300.8 553.1 L301.9 552.6 L303.0 552.1 L304.1 551.6 L305.2 551.1 L306.3 550.5 L307.4 549.9 L308.5 549.3 L309.6 548.7 L310.7 548.1 L311.8 547.4 L312.9 546.7 L314.0 546.0 L315.1 545.3 L316.2 544.5 L317.3 543.7 L318.4 542.9 L319.5 542.1 L320.6 541.3 L321.7 540.4 L322.8 539.5 L323.9 538.6 L325.0 537.6 L326.1 536.6 L327.2 535.6 L328.3 534.6 L329.4 533.5 L330.5 532.4 L331.6 531.2 L332.7 530.0 L333.9 528.7 L335.0 527.3 L336.1 525.9 L337.2 524.4 L338.3 522.8 L339.4 521.0 L340.5 519.1 L341.6 517.0 L342.7 514.8 L343.8 512.4 L344.9 509.9 L346.0 507.3 L347.1 504.5 L348.2 501.7 L349.3 498.8 L350.4 495.9 L351.5 492.9 L352.6 489.9 L353.7 486.9 L354.8 483.9 L355.9 480.9 L357.0 478.0 L358.1 475.1 L359.2 472.2 L360.3 469.3 L361.4 466.5 L362.5 463.7 L363.6 460.8 L364.7 458.0 L365.8 455.2 L366.9 452.5 L368.0 449.7 L369.1 446.9 L370.2 444.1 L371.3 441.3 L372.4 438.6 L373.5 435.9 L374.6 433.3 L374.7 433.2 L375.0 432.3 L375.4 431.5 L375.7 430.7 L375.8 430.7 L376.1 429.9 L376.5 429.1 L376.8 428.3 L376.8 428.3 L377.2 427.6 L377.5 426.9 L377.9 426.2 L377.9 426.1 L378.2 425.5 L378.6 424.8 L379.0 424.2 L379.0 424.0 L379.3 423.5 L379.7 422.9 L380.0 422.3 L380.1 422.1 L380.4 421.7 L380.7 421.1 L381.1 420.5 L381.2 420.2 L381.5 419.9 L381.8 419.2 L382.2 418.6 L382.4 418.2 L382.5 417.9 L382.9 417.2 L383.2 416.5 L383.5 416.0 L383.6 415.7 L384.0 414.9 L384.3 414.0 L384.6 413.3 L384.7 413.0 L385.0 411.9 L385.4 410.8 L385.7 409.9 L385.7 409.6 L386.1 408.3 L386.5 406.9 L386.8 405.7 L386.8 405.5 L387.2 403.9 L387.5 402.2 L387.9 400.5 L387.9 400.4 L388.2 398.6 L388.6 396.7 L389.0 394.8 L389.0 394.8 L389.3 393.0 L389.7 391.1 L390.0 389.4 L390.1 389.2 L390.4 387.6 L390.7 385.9 L391.1 384.3 L391.2 384.0 L391.5 382.8 L391.8 381.4 L392.2 380.1 L392.3 379.8 L392.5 379.0 L392.9 378.1 L393.2 377.3 L393.4 377.0 L393.6 376.6 L394.0 376.0 L394.3 375.5 L394.5 375.3 L394.7 375.1 L395.0 374.8 L395.4 374.7 L395.6 374.7 L395.7 374.8 L396.1 375.0 L396.4 375.4 L396.7 375.7 L396.8 375.9 L397.2 376.5 L397.5 377.2 L397.8 377.7 L397.9 377.9 L398.2 378.7 L398.6 379.6 L398.9 380.3 L398.9 380.5 L399.3 381.5 L399.7 382.5 L400.0 383.4 L400.0 383.5 L400.4 384.5 L400.7 385.5 L401.1 386.6 L401.1 386.6 L401.4 387.6 L401.8 388.6 L402.2 389.6 L402.2 389.7 L402.5 390.7 L402.9 391.7 L403.2 392.7 L403.3 392.8 L403.6 393.6 L403.9 394.6 L404.3 395.5 L404.4 395.7 L404.7 396.4 L405.0 397.2 L405.4 398.0 L405.5 398.3 L405.7 398.8 L406.1 399.6 L406.4 400.4 L406.6 400.7 L406.8 401.2 L407.2 401.9 L407.5 402.7 L407.7 403.2 L407.9 403.5 L408.2 404.3 L408.6 405.2 L408.8 405.7 L408.9 406.0 L409.3 406.9 L409.7 407.8 L409.9 408.4 L410.0 408.7 L410.4 409.7 L410.7 410.6 L411.0 411.4 L411.1 411.6 L411.4 412.6 L411.8 413.6 L412.1 414.5 L412.2 414.6 L412.5 415.6 L412.9 416.7 L413.2 417.7 L413.2 417.7 L413.6 418.8 L413.9 419.9 L414.3 421.0 L414.3 421.1 L414.6 422.1 L415.0 423.2 L415.4 424.4 L415.4 424.5 L415.7 425.5 L416.1 426.7 L416.4 427.9 L416.5 428.2 L416.8 429.1 L417.1 430.3 L417.6 431.9 L418.7 435.8 L419.8 439.7 L420.9 443.6 L422.0 447.6 L423.1 451.6 L424.2 455.5 L425.3 459.3 L426.4 463.2 L427.5 466.9 L428.6 470.5 L429.8 474.0 L430.9 477.3 L432.0 480.5 L433.1 483.5 L434.2 486.4 L435.3 489.2 L436.4 491.9 L437.5 494.4 L438.6 496.9 L439.7 499.2 L440.8 501.5 L441.9 503.7 L443.0 505.8 L444.1 507.8 L445.2 509.8 L446.3 511.7 L447.4 513.5 L448.5 515.3 L449.6 517.0 L450.7 518.7 L451.8 520.4 L452.9 522.0 L454.0 523.5 L455.1 525.1 L456.2 526.5 L457.3 528.0 L458.4 529.4 L459.5 530.8 L460.6 532.1 L461.7 533.4 L462.8 534.6 L463.9 535.8 L465.0 536.9 L466.1 538.0 L467.2 539.0 L468.3 539.9 L469.4 540.8 L470.5 541.7 L471.6 542.5 L472.7 543.3 L473.8 544.0 L474.9 544.7 L476.0 545.4 L477.2 546.0 L478.3 546.6 L479.4 547.2 L480.5 547.7 L481.6 548.3 L482.7 548.8 L483.8 549.3 L484.9 549.7 L486.0 550.2 L487.1 550.6 L488.2 551.0 L489.3 551.5 L490.4 551.8 L491.5 552.2 L492.6 552.6 L493.7 552.9 L494.8 553.3 L495.9 553.6 L497.0 553.9 L498.1 554.2 L499.2 554.5 L500.3 554.8" stroke="#5e2296" stroke-width="2.3"/>
</g>
<line x1="500.3" y1="340.3" x2="500.3" y2="595.5" stroke="#8a8a8a" stroke-width="1.7"/>
<line x1="210.3" y1="340.3" x2="501.1" y2="340.3" stroke="#505050" stroke-width="1.6"/>
<line x1="214.8" y1="339.5" x2="214.8" y2="595.5" stroke="#383838" stroke-width="1.7"/>
<line x1="210.3" y1="590.5" x2="501.1" y2="590.5" stroke="#444444" stroke-width="1.7"/>
<line x1="212.3" y1="590.5" x2="214.8" y2="590.5" stroke="#3c3c3c" stroke-width="1.7"/>
<line x1="210.3" y1="573.82" x2="214.8" y2="573.82" stroke="#3c3c3c" stroke-width="1.7"/>
<line x1="212.3" y1="557.14" x2="214.8" y2="557.14" stroke="#3c3c3c" stroke-width="1.7"/>
<line x1="210.3" y1="540.46" x2="214.8" y2="540.46" stroke="#3c3c3c" stroke-width="1.7"/>
<line x1="212.3" y1="523.78" x2="214.8" y2="523.78" stroke="#3c3c3c" stroke-width="1.7"/>
<line x1="210.3" y1="507.1" x2="214.8" y2="507.1" stroke="#3c3c3c" stroke-width="1.7"/>
<line x1="212.3" y1="490.42" x2="214.8" y2="490.42" stroke="#3c3c3c" stroke-width="1.7"/>
<line x1="210.3" y1="473.74" x2="214.8" y2="473.74" stroke="#3c3c3c" stroke-width="1.7"/>
<line x1="212.3" y1="457.06" x2="214.8" y2="457.06" stroke="#3c3c3c" stroke-width="1.7"/>
<line x1="210.3" y1="440.38" x2="214.8" y2="440.38" stroke="#3c3c3c" stroke-width="1.7"/>
<line x1="212.3" y1="423.7" x2="214.8" y2="423.7" stroke="#3c3c3c" stroke-width="1.7"/>
<line x1="210.3" y1="407.02" x2="214.8" y2="407.02" stroke="#3c3c3c" stroke-width="1.7"/>
<line x1="212.3" y1="390.34" x2="214.8" y2="390.34" stroke="#3c3c3c" stroke-width="1.7"/>
<line x1="210.3" y1="373.66" x2="214.8" y2="373.66" stroke="#3c3c3c" stroke-width="1.7"/>
<line x1="212.3" y1="356.98" x2="214.8" y2="356.98" stroke="#3c3c3c" stroke-width="1.7"/>
<line x1="210.3" y1="340.3" x2="214.8" y2="340.3" stroke="#3c3c3c" stroke-width="1.7"/>
<line x1="214.8" y1="590.5" x2="214.8" y2="595.5" stroke="#3c3c3c" stroke-width="1.7"/>
<line x1="250.49" y1="590.5" x2="250.49" y2="593.5" stroke="#3c3c3c" stroke-width="1.7"/>
<line x1="286.18" y1="590.5" x2="286.18" y2="595.5" stroke="#3c3c3c" stroke-width="1.7"/>
<line x1="321.86" y1="590.5" x2="321.86" y2="593.5" stroke="#3c3c3c" stroke-width="1.7"/>
<line x1="357.55" y1="590.5" x2="357.55" y2="595.5" stroke="#3c3c3c" stroke-width="1.7"/>
<line x1="393.24" y1="590.5" x2="393.24" y2="593.5" stroke="#3c3c3c" stroke-width="1.7"/>
<line x1="428.93" y1="590.5" x2="428.93" y2="595.5" stroke="#3c3c3c" stroke-width="1.7"/>
<line x1="464.61" y1="590.5" x2="464.61" y2="593.5" stroke="#3c3c3c" stroke-width="1.7"/>
<text transform="translate(206.8 577.97) scale(0.8 1)" text-anchor="end" font-size="11.6" class="tk">0</text>
<text transform="translate(206.8 544.61) scale(0.8 1)" text-anchor="end" font-size="11.6" class="tk">10</text>
<text transform="translate(206.8 511.25) scale(0.8 1)" text-anchor="end" font-size="11.6" class="tk">20</text>
<text transform="translate(206.8 477.89) scale(0.8 1)" text-anchor="end" font-size="11.6" class="tk">30</text>
<text transform="translate(206.8 444.53) scale(0.8 1)" text-anchor="end" font-size="11.6" class="tk">40</text>
<text transform="translate(206.8 411.17) scale(0.8 1)" text-anchor="end" font-size="11.6" class="tk">50</text>
<text transform="translate(206.8 377.81) scale(0.8 1)" text-anchor="end" font-size="11.6" class="tk">60</text>
<text transform="translate(206.8 344.45) scale(0.8 1)" text-anchor="end" font-size="11.6" class="tk">70</text>
<text transform="translate(214.8 607.91) scale(0.8 1)" text-anchor="middle" font-size="11.6" class="tk">250</text>
<text transform="translate(286.18 607.91) scale(0.8 1)" text-anchor="middle" font-size="11.6" class="tk">300</text>
<text transform="translate(357.55 607.91) scale(0.8 1)" text-anchor="middle" font-size="11.6" class="tk">350</text>
<text transform="translate(428.93 607.91) scale(0.8 1)" text-anchor="middle" font-size="11.6" class="tk">400</text>
<text transform="translate(500.3 607.91) scale(0.8 1)" text-anchor="middle" font-size="11.6" class="tk">450</text>
<text transform="translate(357.55 626) scale(0.895 1)" text-anchor="middle" font-size="13.5" class="tt">Crank angle (degree)</text>
<text transform="translate(191.6 465.1) rotate(-90) scale(1 0.85)" text-anchor="middle" font-size="12.9" class="tt">Cylinder pressure (bar)</text>
<rect x="251.4" y="340.3" width="97.6" height="83" fill="#fff" stroke="#6e6e6e" stroke-width="1.1"/>
<line x1="251.8" y1="347.3" x2="271.8" y2="347.3" stroke="#262626" stroke-width="2.0"/>
<text transform="translate(274 350.88) scale(0.875 1)" font-size="9.9" class="lg">Diesel @ 250 IP</text>
<line x1="251.8" y1="359" x2="271.8" y2="359" stroke="#c04444" stroke-width="2.0"/>
<text transform="translate(274 362.58) scale(0.875 1)" font-size="9.9" class="lg">PME-5G @ 250 IP</text>
<line x1="251.8" y1="370.6" x2="271.8" y2="370.6" stroke="#3c3cb0" stroke-width="2.0"/>
<text transform="translate(274 374.18) scale(0.875 1)" font-size="9.9" class="lg">NME-5G @ 250 IP</text>
<line x1="251.8" y1="382.2" x2="271.8" y2="382.2" stroke="#cc48d0" stroke-width="2.0"/>
<text transform="translate(274 385.78) scale(0.875 1)" font-size="9.9" class="lg">MME-5G @ 250 IP</text>
<line x1="251.8" y1="393.8" x2="271.8" y2="393.8" stroke="#3a8a40" stroke-width="2.0"/>
<text transform="translate(274 397.38) scale(0.875 1)" font-size="9.9" class="lg">JME-5G @ 250 IP</text>
<line x1="251.8" y1="405.5" x2="271.8" y2="405.5" stroke="#2a2a6c" stroke-width="2.0"/>
<text transform="translate(274 409.08) scale(0.875 1)" font-size="9.9" class="lg">UME-5G @ 250 IP</text>
<line x1="251.8" y1="417.1" x2="271.8" y2="417.1" stroke="#7a40c8" stroke-width="2.0"/>
<text transform="translate(274 420.68) scale(0.875 1)" font-size="9.9" class="lg">DME-5G @ 250 IP</text>
<line x1="210.3" y1="340.3" x2="501.1" y2="340.3" stroke="#505050" stroke-width="1.6"/>
<text transform="translate(476.9 356.4) scale(0.97 1)" font-family='Liberation Serif, serif' font-weight="bold" font-size="16.0" fill="#111">(c)</text>
</svg>
</body></html>
